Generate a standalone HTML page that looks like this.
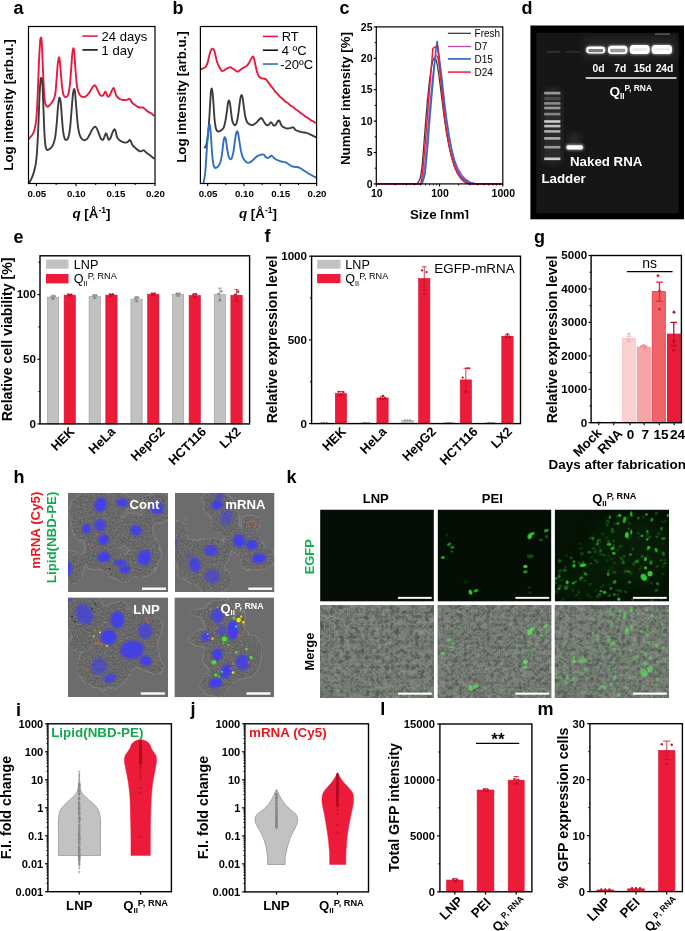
<!DOCTYPE html>
<html><head><meta charset="utf-8"><title>Figure</title>
<style>
html,body{margin:0;padding:0;background:#fff;}
svg{display:block;font-family:"Liberation Sans", Arial, sans-serif;}
</style></head><body>
<svg width="685" height="931" viewBox="0 0 685 931">
<rect x="0" y="0" width="685" height="931" fill="#fff"/>
<text x="13.60" y="14.20" font-size="18" font-weight="bold" text-anchor="start" fill="#000">a</text>
<clipPath id="ca"><rect x="28.5" y="26.5" width="126.5" height="157.0"/></clipPath>
<path d="M28.37,139.36C28.75,138.94 29.92,137.68 30.63,136.85C31.35,136.01 31.97,135.59 32.64,134.34C33.31,133.08 34.02,132.03 34.65,129.31C35.28,126.59 35.91,123.66 36.41,118.01C36.91,112.36 37.25,104.62 37.66,95.42C38.08,86.21 38.50,71.77 38.92,62.77C39.34,53.78 39.84,45.62 40.18,41.43C40.51,37.25 40.68,37.66 40.93,37.66C41.18,37.66 41.39,37.25 41.68,41.43C41.97,45.62 42.35,55.45 42.69,62.77C43.02,70.10 43.36,79.09 43.69,85.37C44.03,91.65 44.32,97.09 44.69,100.44C45.07,103.79 45.45,104.41 45.95,105.46C46.45,106.51 47.08,106.80 47.71,106.72C48.34,106.63 49.09,105.59 49.72,104.96C50.34,104.33 50.85,103.79 51.47,102.95C52.10,102.11 52.86,101.40 53.48,99.94C54.11,98.47 54.74,97.42 55.24,94.16C55.74,90.90 56.08,85.37 56.50,80.35C56.91,75.33 57.33,67.88 57.75,64.03C58.17,60.18 58.63,57.46 59.01,57.25C59.38,57.04 59.68,59.76 60.01,62.77C60.35,65.79 60.64,71.14 61.02,75.33C61.39,79.51 61.89,84.74 62.27,87.88C62.65,91.02 62.86,92.70 63.28,94.16C63.69,95.63 64.24,96.25 64.78,96.67C65.33,97.09 65.95,97.09 66.54,96.67C67.13,96.25 67.75,96.04 68.30,94.16C68.84,92.28 69.34,89.35 69.80,85.37C70.26,81.40 70.64,75.54 71.06,70.31C71.48,65.08 71.94,57.67 72.32,53.99C72.69,50.30 72.98,48.42 73.32,48.21C73.65,48.00 73.99,49.47 74.32,52.73C74.66,55.99 74.95,62.77 75.33,67.80C75.71,72.82 76.17,79.09 76.58,82.86C77.00,86.63 77.30,88.39 77.84,90.39C78.38,92.40 79.22,93.87 79.85,94.91C80.48,95.96 80.69,96.38 81.61,96.67C82.53,96.96 84.12,97.30 85.37,96.67C86.63,96.04 88.09,94.29 89.14,92.91C90.18,91.52 90.90,89.56 91.65,88.39C92.40,87.21 93.11,86.38 93.66,85.87C94.20,85.37 94.45,85.12 94.91,85.37C95.37,85.62 95.92,86.46 96.42,87.38C96.92,88.30 97.26,89.56 97.93,90.90C98.60,92.24 99.60,94.66 100.44,95.42C101.27,96.17 102.28,95.83 102.95,95.42C103.62,95.00 104.04,93.53 104.46,92.91C104.87,92.28 105.13,91.57 105.46,91.65C105.79,91.73 106.05,92.57 106.46,93.41C106.88,94.24 107.38,96.42 107.97,96.67C108.56,96.92 109.35,95.88 109.98,94.91C110.61,93.95 111.15,92.07 111.74,90.90C112.32,89.72 112.99,87.97 113.49,87.88C114.00,87.80 114.29,89.14 114.75,90.39C115.21,91.65 115.50,94.04 116.26,95.42C117.01,96.80 118.14,97.93 119.27,98.68C120.40,99.43 121.78,99.73 123.04,99.94C124.29,100.15 125.76,100.15 126.80,99.94C127.85,99.73 128.69,98.68 129.31,98.68C129.94,98.68 130.07,99.22 130.57,99.94C131.07,100.65 131.49,102.03 132.33,102.95C133.16,103.87 134.42,104.71 135.59,105.46C136.76,106.21 138.19,107.13 139.36,107.47C140.53,107.80 141.66,107.18 142.62,107.47C143.58,107.76 144.21,108.51 145.13,109.23C146.05,109.94 147.10,111.03 148.15,111.74C149.19,112.45 150.36,112.78 151.41,113.49C152.46,114.21 153.92,115.59 154.42,116.01" fill="none" stroke="#e8193c" stroke-width="1.9" clip-path="url(#ca)" stroke-linejoin="round"/>
<path d="M28.37,184.55C28.67,184.01 29.50,182.55 30.13,181.29C30.76,180.04 31.51,178.57 32.14,177.02C32.77,175.47 33.31,174.09 33.90,172.00C34.48,169.91 35.15,167.61 35.66,164.47C36.16,161.33 36.49,158.82 36.91,153.17C37.33,147.52 37.75,139.78 38.17,130.57C38.58,121.36 39.05,106.09 39.42,97.93C39.80,89.77 40.09,84.95 40.43,81.61C40.76,78.26 41.10,77.42 41.43,77.84C41.77,78.26 42.10,79.09 42.44,84.12C42.77,89.14 43.10,99.81 43.44,107.97C43.77,116.13 44.11,126.80 44.44,133.08C44.78,139.36 45.07,142.87 45.45,145.64C45.82,148.40 46.20,148.98 46.70,149.65C47.21,150.32 47.79,149.90 48.46,149.65C49.13,149.40 49.93,149.02 50.72,148.15C51.52,147.27 52.48,146.26 53.23,144.38C53.99,142.50 54.65,140.40 55.24,136.85C55.83,133.29 56.29,128.06 56.75,123.04C57.21,118.01 57.63,110.69 58.00,106.72C58.38,102.74 58.71,100.65 59.01,99.18C59.30,97.72 59.47,97.30 59.76,97.93C60.05,98.55 60.43,100.02 60.76,102.95C61.10,105.88 61.39,110.90 61.77,115.50C62.15,120.11 62.56,126.80 63.02,130.57C63.49,134.34 63.99,136.51 64.53,138.10C65.08,139.69 65.66,140.19 66.29,140.11C66.92,140.03 67.67,139.61 68.30,137.60C68.93,135.59 69.51,132.58 70.06,128.06C70.60,123.54 71.10,115.92 71.56,110.48C72.02,105.04 72.40,98.97 72.82,95.42C73.24,91.86 73.70,89.56 74.07,89.14C74.45,88.72 74.70,89.77 75.08,92.91C75.45,96.04 75.91,102.95 76.33,107.97C76.75,112.99 77.13,118.85 77.59,123.04C78.05,127.22 78.51,130.57 79.09,133.08C79.68,135.59 80.35,136.93 81.10,138.10C81.86,139.27 82.69,139.90 83.61,140.11C84.54,140.32 85.71,140.11 86.63,139.36C87.55,138.60 88.30,137.06 89.14,135.59C89.98,134.13 90.90,131.91 91.65,130.57C92.40,129.23 93.03,128.18 93.66,127.56C94.29,126.93 94.87,126.64 95.42,126.80C95.96,126.97 96.38,127.51 96.92,128.56C97.47,129.61 98.01,131.41 98.68,133.08C99.35,134.75 100.19,137.52 100.94,138.60C101.69,139.69 102.57,140.03 103.20,139.61C103.83,139.19 104.25,137.18 104.71,136.09C105.17,135.01 105.54,133.16 105.96,133.08C106.38,133.00 106.80,134.50 107.22,135.59C107.64,136.68 107.93,139.19 108.47,139.61C109.02,140.03 109.85,139.19 110.48,138.10C111.11,137.01 111.70,134.42 112.24,133.08C112.78,131.74 113.33,130.69 113.75,130.07C114.16,129.44 114.42,129.02 114.75,129.31C115.09,129.61 115.34,130.44 115.75,131.82C116.17,133.21 116.55,136.14 117.26,137.60C117.97,139.06 119.06,139.86 120.02,140.61C120.99,141.37 122.03,141.78 123.04,142.12C124.04,142.45 125.13,142.79 126.05,142.62C126.97,142.45 127.93,141.58 128.56,141.12C129.19,140.65 129.40,139.73 129.82,139.86C130.23,139.99 130.61,140.99 131.07,141.87C131.53,142.75 131.82,144.09 132.58,145.13C133.33,146.18 134.59,147.23 135.59,148.15C136.60,149.07 137.68,150.11 138.60,150.66C139.53,151.20 140.28,151.49 141.12,151.41C141.95,151.33 142.87,150.07 143.63,150.15C144.38,150.24 144.88,151.28 145.64,151.91C146.39,152.54 147.23,153.21 148.15,153.92C149.07,154.63 150.11,155.39 151.16,156.18C152.21,156.98 153.88,158.27 154.42,158.69" fill="none" stroke="#3c3c3c" stroke-width="1.9" clip-path="url(#ca)" stroke-linejoin="round"/>
<rect x="28.50" y="26.50" width="126.50" height="157.00" fill="none" stroke="#000" stroke-width="1.2"/>
<line x1="36.41" y1="183.50" x2="36.41" y2="185.90" stroke="#000" stroke-width="1.1"/>
<text x="36.81" y="197.00" font-size="9.7" font-weight="bold" text-anchor="middle" fill="#000">0.05</text>
<line x1="75.94" y1="183.50" x2="75.94" y2="185.90" stroke="#000" stroke-width="1.1"/>
<text x="76.34" y="197.00" font-size="9.7" font-weight="bold" text-anchor="middle" fill="#000">0.10</text>
<line x1="115.47" y1="183.50" x2="115.47" y2="185.90" stroke="#000" stroke-width="1.1"/>
<text x="115.87" y="197.00" font-size="9.7" font-weight="bold" text-anchor="middle" fill="#000">0.15</text>
<line x1="155.00" y1="183.50" x2="155.00" y2="185.90" stroke="#000" stroke-width="1.1"/>
<text x="155.40" y="197.00" font-size="9.7" font-weight="bold" text-anchor="middle" fill="#000">0.20</text>
<line x1="56.17" y1="183.50" x2="56.17" y2="185.00" stroke="#000" stroke-width="1.0"/>
<line x1="95.70" y1="183.50" x2="95.70" y2="185.00" stroke="#000" stroke-width="1.0"/>
<line x1="135.23" y1="183.50" x2="135.23" y2="185.00" stroke="#000" stroke-width="1.0"/>
<text x="91.50" y="218.30" font-size="13.3" font-weight="bold" text-anchor="middle" fill="#000"><tspan font-style="italic">q</tspan> [Å<tspan font-size="8.6" dy="-5.6">-1</tspan><tspan dy="5.6">]</tspan></text>
<text x="12.60" y="105.00" font-size="13.3" font-weight="bold" text-anchor="middle" fill="#000" transform="rotate(-90 12.60 105.00)">Log intensity [arb.u.]</text>
<line x1="82.40" y1="36.10" x2="97.70" y2="36.10" stroke="#e8193c" stroke-width="1.6"/>
<text x="101.60" y="40.90" font-size="13" font-weight="normal" text-anchor="start" fill="#000">24 days</text>
<line x1="82.40" y1="49.90" x2="97.70" y2="49.90" stroke="#111" stroke-width="1.6"/>
<text x="101.60" y="55.00" font-size="13" font-weight="normal" text-anchor="start" fill="#000">1 day</text>
<text x="172.50" y="14.20" font-size="18" font-weight="bold" text-anchor="start" fill="#000">b</text>
<clipPath id="cb"><rect x="200.4" y="26.5" width="116.20000000000002" height="157.0"/></clipPath>
<path d="M200.37,69.05C200.67,69.01 201.50,69.01 202.13,68.80C202.76,68.59 203.47,68.21 204.14,67.80C204.81,67.38 205.52,67.34 206.15,66.29C206.78,65.24 207.32,63.57 207.91,61.52C208.49,59.47 209.12,55.95 209.66,53.99C210.21,52.02 210.67,50.60 211.17,49.72C211.67,48.84 212.18,48.63 212.68,48.71C213.18,48.80 213.72,49.13 214.18,50.22C214.64,51.31 214.98,53.36 215.44,55.24C215.90,57.12 216.40,59.76 216.95,61.52C217.49,63.28 218.12,64.53 218.70,65.79C219.29,67.04 219.88,68.17 220.46,69.05C221.05,69.93 221.59,70.85 222.22,71.06C222.85,71.27 223.56,70.68 224.23,70.31C224.90,69.93 225.53,69.22 226.24,68.80C226.95,68.38 227.78,68.05 228.50,67.80C229.21,67.54 229.88,67.21 230.51,67.29C231.13,67.38 231.64,67.92 232.26,68.30C232.89,68.67 233.60,69.09 234.27,69.55C234.94,70.01 235.65,70.73 236.28,71.06C236.91,71.39 237.45,71.69 238.04,71.56C238.62,71.44 239.17,70.77 239.80,70.31C240.42,69.85 241.05,69.30 241.80,68.80C242.56,68.30 243.48,67.80 244.32,67.29C245.15,66.79 246.07,66.46 246.83,65.79C247.58,65.12 248.21,64.28 248.84,63.28C249.46,62.27 250.05,60.76 250.59,59.76C251.14,58.76 251.68,57.79 252.10,57.25C252.52,56.71 252.77,56.20 253.10,56.50C253.44,56.79 253.73,57.63 254.11,59.01C254.48,60.39 254.90,62.69 255.36,64.78C255.82,66.87 256.33,69.68 256.87,71.56C257.41,73.45 257.92,74.99 258.63,76.08C259.34,77.17 260.30,77.67 261.14,78.09C261.98,78.51 262.85,78.38 263.65,78.59C264.44,78.80 265.20,78.80 265.91,79.35C266.62,79.89 267.16,80.85 267.92,81.86C268.67,82.86 269.59,84.28 270.43,85.37C271.27,86.46 272.10,87.30 272.94,88.39C273.78,89.47 274.61,90.90 275.45,91.90C276.29,92.91 277.13,93.53 277.96,94.41C278.80,95.29 279.64,96.38 280.47,97.17C281.31,97.97 282.15,98.43 282.98,99.18C283.82,99.94 284.66,101.02 285.49,101.69C286.33,102.36 287.17,102.57 288.01,103.20C288.84,103.83 289.68,104.83 290.52,105.46C291.35,106.09 292.19,106.34 293.03,106.97C293.86,107.59 294.70,108.60 295.54,109.23C296.38,109.85 297.21,110.11 298.05,110.73C298.89,111.36 299.72,112.36 300.56,112.99C301.40,113.62 302.23,113.87 303.07,114.50C303.91,115.13 304.75,116.17 305.58,116.76C306.42,117.35 307.26,117.47 308.09,118.01C308.93,118.56 309.77,119.48 310.60,120.02C311.44,120.57 312.36,120.86 313.12,121.28C313.87,121.70 314.54,122.24 315.12,122.53C315.71,122.83 316.38,122.95 316.63,123.04" fill="none" stroke="#e8193c" stroke-width="1.9" clip-path="url(#cb)" stroke-linejoin="round"/>
<path d="M204.14,148.15C204.35,147.94 204.98,147.64 205.40,146.89C205.81,146.14 206.23,145.51 206.65,143.63C207.07,141.74 207.49,139.44 207.91,135.59C208.33,131.74 208.79,125.97 209.16,120.53C209.54,115.09 209.87,107.76 210.17,102.95C210.46,98.14 210.67,94.08 210.92,91.65C211.17,89.22 211.42,88.39 211.67,88.39C211.92,88.39 212.13,89.22 212.43,91.65C212.72,94.08 213.10,98.55 213.43,102.95C213.77,107.34 214.06,113.91 214.44,118.01C214.81,122.12 215.23,125.38 215.69,127.56C216.15,129.73 216.61,130.44 217.20,131.07C217.78,131.70 218.49,131.49 219.21,131.32C219.92,131.16 220.71,130.69 221.47,130.07C222.22,129.44 223.06,129.15 223.73,127.56C224.40,125.97 224.94,123.37 225.48,120.53C226.03,117.68 226.57,113.41 226.99,110.48C227.41,107.55 227.66,104.62 227.99,102.95C228.33,101.27 228.66,100.35 229.00,100.44C229.33,100.52 229.67,101.57 230.00,103.45C230.34,105.33 230.63,108.89 231.01,111.74C231.38,114.58 231.80,118.43 232.26,120.53C232.72,122.62 233.27,123.54 233.77,124.29C234.27,125.05 234.77,125.34 235.28,125.05C235.78,124.75 236.28,124.33 236.78,122.53C237.28,120.73 237.83,117.30 238.29,114.25C238.75,111.19 239.17,107.01 239.54,104.20C239.92,101.40 240.21,98.97 240.55,97.42C240.88,95.88 241.22,94.91 241.55,94.91C241.89,94.91 242.18,95.46 242.56,97.42C242.93,99.39 243.35,103.49 243.81,106.72C244.27,109.94 244.78,114.21 245.32,116.76C245.86,119.31 246.41,120.78 247.08,122.03C247.75,123.29 248.46,123.79 249.34,124.29C250.22,124.79 251.35,125.17 252.35,125.05C253.35,124.92 254.48,124.17 255.36,123.54C256.24,122.91 256.91,122.03 257.62,121.28C258.33,120.53 259.05,119.56 259.63,119.02C260.22,118.47 260.64,117.93 261.14,118.01C261.64,118.10 262.10,118.77 262.65,119.52C263.19,120.27 263.73,121.61 264.40,122.53C265.07,123.45 265.95,124.67 266.66,125.05C267.37,125.42 268.09,125.13 268.67,124.79C269.26,124.46 269.76,123.45 270.18,123.04C270.60,122.62 270.81,122.16 271.18,122.28C271.56,122.41 272.02,123.25 272.44,123.79C272.86,124.33 273.19,125.34 273.69,125.55C274.20,125.76 274.91,125.55 275.45,125.05C276.00,124.54 276.50,123.25 276.96,122.53C277.42,121.82 277.84,121.11 278.21,120.78C278.59,120.44 278.88,120.23 279.22,120.53C279.55,120.82 279.80,121.66 280.22,122.53C280.64,123.41 281.02,124.96 281.73,125.80C282.44,126.64 283.53,127.10 284.49,127.56C285.45,128.02 286.50,128.48 287.50,128.56C288.51,128.64 289.64,128.27 290.52,128.06C291.40,127.85 292.19,127.31 292.78,127.31C293.36,127.31 293.57,127.60 294.03,128.06C294.49,128.52 294.74,129.52 295.54,130.07C296.33,130.61 297.63,130.95 298.80,131.32C299.97,131.70 301.31,132.08 302.57,132.33C303.82,132.58 305.16,132.54 306.34,132.83C307.51,133.12 308.55,133.62 309.60,134.08C310.65,134.55 311.69,135.13 312.61,135.59C313.53,136.05 314.45,136.51 315.12,136.85C315.79,137.18 316.38,137.47 316.63,137.60" fill="none" stroke="#3c3c3c" stroke-width="1.9" clip-path="url(#cb)" stroke-linejoin="round"/>
<path d="M203.39,183.30C203.55,182.46 204.06,180.37 204.39,178.28C204.73,176.18 205.06,174.51 205.40,170.74C205.73,166.98 206.07,160.70 206.40,155.68C206.73,150.66 207.07,145.01 207.40,140.61C207.74,136.22 208.07,131.99 208.41,129.31C208.74,126.64 209.12,124.96 209.41,124.54C209.71,124.12 209.87,124.33 210.17,126.80C210.46,129.27 210.84,134.75 211.17,139.36C211.51,143.96 211.80,150.24 212.18,154.42C212.55,158.61 212.97,162.25 213.43,164.47C213.89,166.69 214.39,167.23 214.94,167.73C215.48,168.23 216.07,167.82 216.69,167.48C217.32,167.15 218.08,166.64 218.70,165.72C219.33,164.80 219.92,163.84 220.46,161.96C221.01,160.07 221.51,157.48 221.97,154.42C222.43,151.37 222.85,146.35 223.22,143.63C223.60,140.91 223.93,139.15 224.23,138.10C224.52,137.06 224.69,137.01 224.98,137.35C225.27,137.68 225.61,138.10 225.99,140.11C226.36,142.12 226.78,146.60 227.24,149.40C227.70,152.21 228.25,155.30 228.75,156.93C229.25,158.57 229.75,158.98 230.25,159.19C230.76,159.40 231.26,159.28 231.76,158.19C232.26,157.10 232.76,155.39 233.27,152.67C233.77,149.95 234.31,145.01 234.77,141.87C235.23,138.73 235.65,135.59 236.03,133.83C236.41,132.08 236.70,131.45 237.03,131.32C237.37,131.20 237.66,131.53 238.04,133.08C238.41,134.63 238.83,137.77 239.29,140.61C239.75,143.46 240.26,147.43 240.80,150.15C241.34,152.87 241.89,155.18 242.56,156.93C243.23,158.69 244.02,159.74 244.82,160.70C245.61,161.66 246.49,162.42 247.33,162.71C248.17,163.00 249.00,162.79 249.84,162.46C250.68,162.12 251.51,161.41 252.35,160.70C253.19,159.99 254.02,158.94 254.86,158.19C255.70,157.44 256.54,156.68 257.37,156.18C258.21,155.68 259.13,155.47 259.88,155.18C260.64,154.88 261.22,154.51 261.89,154.42C262.56,154.34 263.31,154.30 263.90,154.67C264.49,155.05 264.82,156.14 265.41,156.68C265.99,157.23 266.75,157.85 267.42,157.94C268.09,158.02 268.84,157.52 269.42,157.19C270.01,156.85 270.47,156.14 270.93,155.93C271.39,155.72 271.73,155.64 272.19,155.93C272.65,156.22 273.11,157.14 273.69,157.69C274.28,158.23 274.87,158.69 275.70,159.19C276.54,159.70 277.67,160.28 278.72,160.70C279.76,161.12 280.93,161.45 281.98,161.71C283.03,161.96 284.07,161.91 284.99,162.21C285.91,162.50 286.67,162.96 287.50,163.46C288.34,163.96 289.18,164.72 290.01,165.22C290.85,165.72 291.60,166.18 292.53,166.48C293.45,166.77 294.58,166.85 295.54,166.98C296.50,167.10 297.42,166.98 298.30,167.23C299.18,167.48 299.97,167.98 300.81,168.48C301.65,168.99 302.49,169.70 303.32,170.24C304.16,170.79 305.00,171.20 305.83,171.75C306.67,172.29 307.51,173.00 308.34,173.51C309.18,174.01 310.02,174.30 310.86,174.76C311.69,175.22 312.40,175.77 313.37,176.27C314.33,176.77 316.09,177.52 316.63,177.78" fill="none" stroke="#2f6ec2" stroke-width="1.9" clip-path="url(#cb)" stroke-linejoin="round"/>
<rect x="200.40" y="26.50" width="116.20" height="157.00" fill="none" stroke="#000" stroke-width="1.2"/>
<line x1="207.66" y1="183.50" x2="207.66" y2="185.90" stroke="#000" stroke-width="1.1"/>
<text x="208.06" y="197.00" font-size="9.7" font-weight="bold" text-anchor="middle" fill="#000">0.05</text>
<line x1="243.98" y1="183.50" x2="243.98" y2="185.90" stroke="#000" stroke-width="1.1"/>
<text x="244.38" y="197.00" font-size="9.7" font-weight="bold" text-anchor="middle" fill="#000">0.10</text>
<line x1="280.29" y1="183.50" x2="280.29" y2="185.90" stroke="#000" stroke-width="1.1"/>
<text x="280.69" y="197.00" font-size="9.7" font-weight="bold" text-anchor="middle" fill="#000">0.15</text>
<line x1="316.60" y1="183.50" x2="316.60" y2="185.90" stroke="#000" stroke-width="1.1"/>
<text x="317.00" y="197.00" font-size="9.7" font-weight="bold" text-anchor="middle" fill="#000">0.20</text>
<line x1="225.82" y1="183.50" x2="225.82" y2="185.00" stroke="#000" stroke-width="1.0"/>
<line x1="262.13" y1="183.50" x2="262.13" y2="185.00" stroke="#000" stroke-width="1.0"/>
<line x1="298.44" y1="183.50" x2="298.44" y2="185.00" stroke="#000" stroke-width="1.0"/>
<text x="258.00" y="218.30" font-size="13.3" font-weight="bold" text-anchor="middle" fill="#000"><tspan font-style="italic">q</tspan> [Å<tspan font-size="8.6" dy="-5.6">-1</tspan><tspan dy="5.6">]</tspan></text>
<text x="185.50" y="97.00" font-size="13.3" font-weight="bold" text-anchor="middle" fill="#000" transform="rotate(-90 185.50 97.00)">Log intensity [arb.u.]</text>
<line x1="262.90" y1="36.41" x2="277.96" y2="36.41" stroke="#e8193c" stroke-width="1.6"/>
<text x="281.73" y="41.11" font-size="13" font-weight="normal" text-anchor="start" fill="#000">RT</text>
<line x1="262.90" y1="50.22" x2="277.96" y2="50.22" stroke="#111" stroke-width="1.6"/>
<text x="281.73" y="54.92" font-size="13" font-weight="normal" text-anchor="start" fill="#000">4 ºC</text>
<line x1="262.90" y1="64.03" x2="277.96" y2="64.03" stroke="#2f6ec2" stroke-width="1.6"/>
<text x="280.23" y="68.73" font-size="13" font-weight="normal" text-anchor="start" fill="#000">-20ºC</text>
<text x="339.50" y="14.20" font-size="18" font-weight="bold" text-anchor="start" fill="#000">c</text>
<clipPath id="cc"><rect x="376.3" y="24.9" width="126.5" height="160.0"/></clipPath>
<polyline points="376.25,183.90 416.45,183.90 417.72,183.17 419.00,180.80 420.10,178.60 421.20,172.57 422.29,164.35 423.75,146.08 425.58,122.33 427.41,100.40 429.24,83.04 431.06,69.34 432.52,61.66 433.80,58.37 434.90,57.46 436.00,59.29 437.46,65.68 438.92,75.73 440.56,88.52 442.39,103.14 444.22,117.76 446.59,133.29 448.97,146.08 451.53,157.04 454.27,166.18 457.01,172.57 460.30,177.51 463.95,180.80 467.97,182.99 472.18,183.90 504.15,183.90" fill="none" stroke="#3f3f3f" stroke-width="1.3" stroke-linejoin="round" clip-path="url(#cc)"/>
<polyline points="376.25,183.90 420.47,183.90 421.93,182.62 423.21,177.14 424.67,166.18 426.50,144.25 428.69,118.67 430.70,96.74 432.52,78.47 433.99,65.68 435.27,58.37 436.36,55.63 437.46,56.54 438.74,62.94 440.20,72.99 442.03,87.61 444.22,105.88 446.59,122.33 449.34,138.77 452.08,151.56 454.82,160.70 458.11,168.92 461.76,174.95 465.78,179.34 470.35,182.26 475.83,183.72 480.40,183.90 504.15,183.90" fill="none" stroke="#b84ab4" stroke-width="1.3" stroke-linejoin="round" clip-path="url(#cc)"/>
<polyline points="376.25,183.90 421.01,183.90 422.29,182.99 423.75,178.60 425.03,173.49 426.31,160.70 427.77,144.25 429.60,120.50 431.43,98.57 433.26,78.47 434.72,62.03 436.00,49.24 437.09,41.56 438.01,47.41 439.10,56.54 440.56,68.42 442.21,82.13 444.22,100.40 446.59,119.58 448.97,135.12 451.53,148.82 454.27,160.70 457.01,168.92 460.30,175.32 463.95,179.34 467.97,181.89 472.18,183.36 475.83,183.90 504.15,183.90" fill="none" stroke="#2f6ec2" stroke-width="1.7" stroke-linejoin="round" clip-path="url(#cc)"/>
<polyline points="376.25,183.90 419.73,183.90 420.83,183.17 421.74,178.97 422.84,169.83 424.12,155.22 425.58,138.77 427.41,115.93 429.24,93.09 430.70,74.82 431.98,59.29 432.89,48.32 435.08,47.04 437.46,46.13 438.37,54.72 439.47,65.68 441.11,83.04 442.94,101.31 445.13,121.41 447.51,136.94 449.88,149.73 452.44,159.78 455.18,168.37 458.11,174.40 461.21,178.97 464.32,181.89 467.61,183.54 470.35,183.90 504.15,183.90" fill="none" stroke="#ee1b3a" stroke-width="1.5" stroke-linejoin="round" clip-path="url(#cc)"/>
<rect x="376.30" y="26.90" width="126.50" height="157.00" fill="none" stroke="#000" stroke-width="1.2"/>
<line x1="373.70" y1="183.90" x2="376.30" y2="183.90" stroke="#000" stroke-width="1.1"/>
<text x="372.50" y="187.60" font-size="10.5" font-weight="bold" text-anchor="end" fill="#000">0</text>
<line x1="373.70" y1="152.50" x2="376.30" y2="152.50" stroke="#000" stroke-width="1.1"/>
<text x="372.50" y="156.20" font-size="10.5" font-weight="bold" text-anchor="end" fill="#000">5</text>
<line x1="373.70" y1="121.10" x2="376.30" y2="121.10" stroke="#000" stroke-width="1.1"/>
<text x="372.50" y="124.80" font-size="10.5" font-weight="bold" text-anchor="end" fill="#000">10</text>
<line x1="373.70" y1="89.70" x2="376.30" y2="89.70" stroke="#000" stroke-width="1.1"/>
<text x="372.50" y="93.40" font-size="10.5" font-weight="bold" text-anchor="end" fill="#000">15</text>
<line x1="373.70" y1="58.30" x2="376.30" y2="58.30" stroke="#000" stroke-width="1.1"/>
<text x="372.50" y="62.00" font-size="10.5" font-weight="bold" text-anchor="end" fill="#000">20</text>
<line x1="373.70" y1="26.90" x2="376.30" y2="26.90" stroke="#000" stroke-width="1.1"/>
<text x="372.50" y="30.60" font-size="10.5" font-weight="bold" text-anchor="end" fill="#000">25</text>
<line x1="374.70" y1="168.20" x2="376.30" y2="168.20" stroke="#000" stroke-width="1.0"/>
<line x1="374.70" y1="136.80" x2="376.30" y2="136.80" stroke="#000" stroke-width="1.0"/>
<line x1="374.70" y1="105.40" x2="376.30" y2="105.40" stroke="#000" stroke-width="1.0"/>
<line x1="374.70" y1="74.00" x2="376.30" y2="74.00" stroke="#000" stroke-width="1.0"/>
<line x1="374.70" y1="42.60" x2="376.30" y2="42.60" stroke="#000" stroke-width="1.0"/>
<line x1="376.30" y1="183.90" x2="376.30" y2="186.50" stroke="#000" stroke-width="1.1"/>
<line x1="395.34" y1="183.90" x2="395.34" y2="185.40" stroke="#000" stroke-width="0.9"/>
<line x1="406.48" y1="183.90" x2="406.48" y2="185.40" stroke="#000" stroke-width="0.9"/>
<line x1="414.38" y1="183.90" x2="414.38" y2="185.40" stroke="#000" stroke-width="0.9"/>
<line x1="420.51" y1="183.90" x2="420.51" y2="185.40" stroke="#000" stroke-width="0.9"/>
<line x1="425.52" y1="183.90" x2="425.52" y2="185.40" stroke="#000" stroke-width="0.9"/>
<line x1="429.75" y1="183.90" x2="429.75" y2="185.40" stroke="#000" stroke-width="0.9"/>
<line x1="433.42" y1="183.90" x2="433.42" y2="185.40" stroke="#000" stroke-width="0.9"/>
<line x1="436.66" y1="183.90" x2="436.66" y2="185.40" stroke="#000" stroke-width="0.9"/>
<line x1="439.55" y1="183.90" x2="439.55" y2="186.50" stroke="#000" stroke-width="1.1"/>
<line x1="458.59" y1="183.90" x2="458.59" y2="185.40" stroke="#000" stroke-width="0.9"/>
<line x1="469.73" y1="183.90" x2="469.73" y2="185.40" stroke="#000" stroke-width="0.9"/>
<line x1="477.63" y1="183.90" x2="477.63" y2="185.40" stroke="#000" stroke-width="0.9"/>
<line x1="483.76" y1="183.90" x2="483.76" y2="185.40" stroke="#000" stroke-width="0.9"/>
<line x1="488.77" y1="183.90" x2="488.77" y2="185.40" stroke="#000" stroke-width="0.9"/>
<line x1="493.00" y1="183.90" x2="493.00" y2="185.40" stroke="#000" stroke-width="0.9"/>
<line x1="496.67" y1="183.90" x2="496.67" y2="185.40" stroke="#000" stroke-width="0.9"/>
<line x1="499.91" y1="183.90" x2="499.91" y2="185.40" stroke="#000" stroke-width="0.9"/>
<line x1="502.80" y1="183.90" x2="502.80" y2="186.50" stroke="#000" stroke-width="1.1"/>
<text x="376.80" y="197.30" font-size="10.5" font-weight="bold" text-anchor="middle" fill="#000">10</text>
<text x="440.05" y="197.30" font-size="10.5" font-weight="bold" text-anchor="middle" fill="#000">100</text>
<text x="503.30" y="197.30" font-size="10.5" font-weight="bold" text-anchor="middle" fill="#000">1000</text>
<text x="439.50" y="218.50" font-size="13.3" font-weight="bold" text-anchor="middle" fill="#000">Size [nm]</text>
<rect x="400.00" y="218.90" width="80.00" height="5.00" fill="#fff" stroke="none" stroke-width="1.0"/>
<text x="349.50" y="98.50" font-size="13.3" font-weight="bold" text-anchor="middle" fill="#000" transform="rotate(-90 349.50 98.50)">Number intensity [%]</text>
<line x1="447.87" y1="33.34" x2="470.90" y2="33.34" stroke="#3f3f3f" stroke-width="1.3"/>
<text x="474.55" y="36.94" font-size="10" font-weight="normal" text-anchor="start" fill="#000">Fresh</text>
<line x1="447.87" y1="46.50" x2="470.90" y2="46.50" stroke="#b84ab4" stroke-width="1.3"/>
<text x="474.55" y="50.10" font-size="10" font-weight="normal" text-anchor="start" fill="#000">D7</text>
<line x1="447.87" y1="58.92" x2="470.90" y2="58.92" stroke="#2f6ec2" stroke-width="1.7"/>
<text x="474.55" y="62.52" font-size="10" font-weight="normal" text-anchor="start" fill="#000">D15</text>
<line x1="447.87" y1="72.08" x2="470.90" y2="72.08" stroke="#ee1b3a" stroke-width="1.5"/>
<text x="474.55" y="75.68" font-size="10" font-weight="normal" text-anchor="start" fill="#000">D24</text>
<text x="521.50" y="14.20" font-size="18" font-weight="bold" text-anchor="start" fill="#000">d</text>
<defs><filter id="gb1" x="-20%" y="-50%" width="140%" height="200%"><feGaussianBlur stdDeviation="0.7"/></filter><filter id="gb2" x="-20%" y="-80%" width="140%" height="260%"><feGaussianBlur stdDeviation="1.2"/></filter><filter id="gb3" x="-20%" y="-20%" width="140%" height="140%"><feGaussianBlur stdDeviation="4"/></filter></defs>
<rect x="530.40" y="25.50" width="153.60" height="193.80" fill="#000" stroke="none" stroke-width="1.0"/>
<rect x="536.30" y="32.70" width="142.30" height="180.60" fill="#161616" stroke="none" stroke-width="1.0"/>
<rect x="544.50" y="90.00" width="16.00" height="72.00" fill="#303030" stroke="none" stroke-width="1.0" filter="url(#gb3)"/>
<rect x="545.50" y="92.00" width="14.00" height="68.00" fill="#2b2b2b" stroke="none" stroke-width="1.0" filter="url(#gb2)"/>
<rect x="544.20" y="91.80" width="16.20" height="2.60" fill="rgb(153,153,153)" stroke="none" stroke-width="1.0" filter="url(#gb1)"/>
<rect x="544.20" y="97.20" width="16.20" height="2.60" fill="rgb(76,76,76)" stroke="none" stroke-width="1.0" filter="url(#gb1)"/>
<rect x="544.20" y="102.10" width="16.20" height="2.60" fill="rgb(140,140,140)" stroke="none" stroke-width="1.0" filter="url(#gb1)"/>
<rect x="544.20" y="106.70" width="16.20" height="2.60" fill="rgb(153,153,153)" stroke="none" stroke-width="1.0" filter="url(#gb1)"/>
<rect x="544.20" y="112.80" width="16.20" height="2.60" fill="rgb(132,132,132)" stroke="none" stroke-width="1.0" filter="url(#gb1)"/>
<rect x="544.20" y="120.20" width="16.20" height="2.60" fill="rgb(204,204,204)" stroke="none" stroke-width="1.0" filter="url(#gb1)"/>
<rect x="544.20" y="124.80" width="16.20" height="2.60" fill="rgb(193,193,193)" stroke="none" stroke-width="1.0" filter="url(#gb1)"/>
<rect x="544.20" y="130.10" width="16.20" height="2.60" fill="rgb(173,173,173)" stroke="none" stroke-width="1.0" filter="url(#gb1)"/>
<rect x="544.20" y="137.10" width="16.20" height="2.60" fill="rgb(173,173,173)" stroke="none" stroke-width="1.0" filter="url(#gb1)"/>
<rect x="544.20" y="145.90" width="16.20" height="2.60" fill="rgb(153,153,153)" stroke="none" stroke-width="1.0" filter="url(#gb1)"/>
<rect x="544.20" y="157.50" width="16.20" height="2.60" fill="rgb(204,204,204)" stroke="none" stroke-width="1.0" filter="url(#gb1)"/>
<rect x="568.50" y="134.00" width="12.00" height="11.00" fill="#2e2e2e" stroke="none" stroke-width="1.0" filter="url(#gb3)"/>
<rect x="565.60" y="144.00" width="18.20" height="6.60" fill="#999" stroke="none" stroke-width="1.0" filter="url(#gb2)" rx="2.5" opacity="0.8"/>
<rect x="566.40" y="145.20" width="16.60" height="4.40" fill="#fff" stroke="none" stroke-width="1.0" rx="2" filter="url(#gb1)"/>
<rect x="546.00" y="50.80" width="14.00" height="2.00" fill="#2e2e2e" stroke="none" stroke-width="1.0" filter="url(#gb1)"/>
<rect x="566.00" y="50.80" width="15.00" height="2.00" fill="#2a2a2a" stroke="none" stroke-width="1.0" filter="url(#gb1)"/>
<rect x="584.00" y="38.00" width="92.00" height="20.00" fill="#262626" stroke="none" stroke-width="1.0" filter="url(#gb3)"/>
<rect x="585.50" y="45.90" width="20.40" height="8.10" fill="#aaa" stroke="none" stroke-width="1.0" rx="4" filter="url(#gb2)" opacity="0.75"/>
<rect x="586.10" y="46.50" width="19.20" height="6.90" fill="#fff" stroke="none" stroke-width="1.0" rx="3.6" filter="url(#gb1)"/>
<rect x="588.30" y="48.98" width="14.80" height="3.21" fill="#7d7d7d" stroke="none" stroke-width="1.0" rx="1.2" filter="url(#gb1)"/>
<rect x="607.40" y="45.10" width="20.70" height="9.60" fill="#aaa" stroke="none" stroke-width="1.0" rx="4" filter="url(#gb2)" opacity="0.75"/>
<rect x="608.00" y="45.70" width="19.50" height="8.40" fill="#fff" stroke="none" stroke-width="1.0" rx="3.6" filter="url(#gb1)"/>
<rect x="610.20" y="48.72" width="15.10" height="3.60" fill="#9a9a9a" stroke="none" stroke-width="1.0" rx="1.2" filter="url(#gb1)"/>
<rect x="629.20" y="44.40" width="21.10" height="10.30" fill="#aaa" stroke="none" stroke-width="1.0" rx="4" filter="url(#gb2)" opacity="0.75"/>
<rect x="629.80" y="45.00" width="19.90" height="9.10" fill="#fff" stroke="none" stroke-width="1.0" rx="3.6" filter="url(#gb1)"/>
<rect x="632.00" y="48.28" width="15.50" height="2.51" fill="#e8e8e8" stroke="none" stroke-width="1.0" rx="1.2" filter="url(#gb1)"/>
<rect x="651.10" y="44.40" width="21.50" height="10.30" fill="#aaa" stroke="none" stroke-width="1.0" rx="4" filter="url(#gb2)" opacity="0.75"/>
<rect x="651.70" y="45.00" width="20.30" height="9.10" fill="#fff" stroke="none" stroke-width="1.0" rx="3.6" filter="url(#gb1)"/>
<rect x="653.90" y="48.28" width="15.90" height="2.32" fill="#ededed" stroke="none" stroke-width="1.0" rx="1.2" filter="url(#gb1)"/>
<rect x="655.00" y="33.40" width="15.00" height="1.50" fill="#585858" stroke="none" stroke-width="1.0" filter="url(#gb1)"/>
<text x="598.60" y="71.90" font-size="10.3" font-weight="bold" text-anchor="middle" fill="#fff">0d</text>
<text x="620.30" y="71.90" font-size="10.3" font-weight="bold" text-anchor="middle" fill="#fff">7d</text>
<text x="642.50" y="71.90" font-size="10.3" font-weight="bold" text-anchor="middle" fill="#fff">15d</text>
<text x="664.50" y="71.90" font-size="10.3" font-weight="bold" text-anchor="middle" fill="#fff">24d</text>
<line x1="585.70" y1="77.90" x2="676.40" y2="77.90" stroke="#fff" stroke-width="1.5"/>
<text x="609.40" y="95.90" font-size="13.6" font-weight="bold" text-anchor="start" fill="#fff">Q<tspan font-size="8.16" dy="3.40">II</tspan><tspan font-size="8.43" dy="-8.57">P, RNA</tspan></text>
<text x="570.00" y="165.60" font-size="13.3" font-weight="bold" text-anchor="start" fill="#fff">Naked RNA</text>
<text x="541.40" y="183.20" font-size="13.3" font-weight="bold" text-anchor="start" fill="#fff">Ladder</text>
<text x="13.60" y="242.50" font-size="18" font-weight="bold" text-anchor="start" fill="#000">e</text>
<rect x="47.40" y="297.18" width="11.30" height="126.72" fill="#c1c1c1" stroke="#9a9a9a" stroke-width="0.6"/>
<line x1="53.05" y1="299.12" x2="53.05" y2="295.24" stroke="#8a8a8a" stroke-width="0.8"/>
<line x1="51.05" y1="299.12" x2="55.05" y2="299.12" stroke="#8a8a8a" stroke-width="0.8"/>
<line x1="51.05" y1="295.24" x2="55.05" y2="295.24" stroke="#8a8a8a" stroke-width="0.8"/>
<circle cx="51.55" cy="296.53" r="1.15" fill="#858585"/>
<circle cx="53.05" cy="298.73" r="1.15" fill="#858585"/>
<circle cx="54.65" cy="296.21" r="1.15" fill="#858585"/>
<rect x="64.10" y="295.11" width="11.30" height="128.79" fill="#ed1b3a" stroke="#d4142f" stroke-width="0.6"/>
<line x1="69.75" y1="295.76" x2="69.75" y2="294.46" stroke="#c01028" stroke-width="0.8"/>
<line x1="67.75" y1="295.76" x2="71.75" y2="295.76" stroke="#c01028" stroke-width="0.8"/>
<line x1="67.75" y1="294.46" x2="71.75" y2="294.46" stroke="#c01028" stroke-width="0.8"/>
<circle cx="68.25" cy="294.46" r="1.15" fill="#c01028"/>
<circle cx="69.75" cy="295.63" r="1.15" fill="#c01028"/>
<circle cx="71.35" cy="294.72" r="1.15" fill="#c01028"/>
<rect x="89.10" y="296.53" width="11.30" height="127.37" fill="#c1c1c1" stroke="#9a9a9a" stroke-width="0.6"/>
<line x1="94.75" y1="298.47" x2="94.75" y2="294.59" stroke="#8a8a8a" stroke-width="0.8"/>
<line x1="92.75" y1="298.47" x2="96.75" y2="298.47" stroke="#8a8a8a" stroke-width="0.8"/>
<line x1="92.75" y1="294.59" x2="96.75" y2="294.59" stroke="#8a8a8a" stroke-width="0.8"/>
<circle cx="93.25" cy="295.89" r="1.15" fill="#858585"/>
<circle cx="94.75" cy="298.08" r="1.15" fill="#858585"/>
<circle cx="96.35" cy="295.56" r="1.15" fill="#858585"/>
<rect x="105.80" y="295.11" width="11.30" height="128.79" fill="#ed1b3a" stroke="#d4142f" stroke-width="0.6"/>
<line x1="111.45" y1="296.14" x2="111.45" y2="294.08" stroke="#c01028" stroke-width="0.8"/>
<line x1="109.45" y1="296.14" x2="113.45" y2="296.14" stroke="#c01028" stroke-width="0.8"/>
<line x1="109.45" y1="294.08" x2="113.45" y2="294.08" stroke="#c01028" stroke-width="0.8"/>
<circle cx="109.95" cy="294.46" r="1.15" fill="#c01028"/>
<circle cx="111.45" cy="295.94" r="1.15" fill="#c01028"/>
<circle cx="113.05" cy="294.49" r="1.15" fill="#c01028"/>
<rect x="130.90" y="299.12" width="11.30" height="124.78" fill="#c1c1c1" stroke="#9a9a9a" stroke-width="0.6"/>
<line x1="136.55" y1="301.70" x2="136.55" y2="296.53" stroke="#8a8a8a" stroke-width="0.8"/>
<line x1="134.55" y1="301.70" x2="138.55" y2="301.70" stroke="#8a8a8a" stroke-width="0.8"/>
<line x1="134.55" y1="296.53" x2="138.55" y2="296.53" stroke="#8a8a8a" stroke-width="0.8"/>
<circle cx="135.05" cy="298.47" r="1.15" fill="#858585"/>
<circle cx="136.55" cy="301.19" r="1.15" fill="#858585"/>
<circle cx="138.15" cy="297.82" r="1.15" fill="#858585"/>
<rect x="147.60" y="294.20" width="11.30" height="129.70" fill="#ed1b3a" stroke="#d4142f" stroke-width="0.6"/>
<line x1="153.25" y1="295.24" x2="153.25" y2="293.17" stroke="#c01028" stroke-width="0.8"/>
<line x1="151.25" y1="295.24" x2="155.25" y2="295.24" stroke="#c01028" stroke-width="0.8"/>
<line x1="151.25" y1="293.17" x2="155.25" y2="293.17" stroke="#c01028" stroke-width="0.8"/>
<circle cx="151.75" cy="293.56" r="1.15" fill="#c01028"/>
<circle cx="153.25" cy="295.03" r="1.15" fill="#c01028"/>
<circle cx="154.85" cy="293.58" r="1.15" fill="#c01028"/>
<rect x="172.40" y="294.59" width="11.30" height="129.31" fill="#c1c1c1" stroke="#9a9a9a" stroke-width="0.6"/>
<line x1="178.05" y1="296.14" x2="178.05" y2="293.04" stroke="#8a8a8a" stroke-width="0.8"/>
<line x1="176.05" y1="296.14" x2="180.05" y2="296.14" stroke="#8a8a8a" stroke-width="0.8"/>
<line x1="176.05" y1="293.04" x2="180.05" y2="293.04" stroke="#8a8a8a" stroke-width="0.8"/>
<circle cx="176.55" cy="293.95" r="1.15" fill="#858585"/>
<circle cx="178.05" cy="295.83" r="1.15" fill="#858585"/>
<circle cx="179.65" cy="293.82" r="1.15" fill="#858585"/>
<rect x="189.10" y="295.50" width="11.30" height="128.40" fill="#ed1b3a" stroke="#d4142f" stroke-width="0.6"/>
<line x1="194.75" y1="297.44" x2="194.75" y2="293.56" stroke="#c01028" stroke-width="0.8"/>
<line x1="192.75" y1="297.44" x2="196.75" y2="297.44" stroke="#c01028" stroke-width="0.8"/>
<line x1="192.75" y1="293.56" x2="196.75" y2="293.56" stroke="#c01028" stroke-width="0.8"/>
<circle cx="193.25" cy="294.85" r="1.15" fill="#c01028"/>
<circle cx="194.75" cy="297.05" r="1.15" fill="#c01028"/>
<circle cx="196.35" cy="294.33" r="1.15" fill="#c01028"/>
<rect x="214.20" y="294.59" width="11.30" height="129.31" fill="#c1c1c1" stroke="#9a9a9a" stroke-width="0.6"/>
<line x1="219.85" y1="301.06" x2="219.85" y2="288.13" stroke="#8a8a8a" stroke-width="0.8"/>
<line x1="217.85" y1="301.06" x2="221.85" y2="301.06" stroke="#8a8a8a" stroke-width="0.8"/>
<line x1="217.85" y1="288.13" x2="221.85" y2="288.13" stroke="#8a8a8a" stroke-width="0.8"/>
<circle cx="218.35" cy="293.95" r="1.15" fill="#858585"/>
<circle cx="219.85" cy="299.76" r="1.15" fill="#858585"/>
<circle cx="221.45" cy="291.36" r="1.15" fill="#858585"/>
<rect x="230.90" y="295.24" width="11.30" height="128.66" fill="#ed1b3a" stroke="#d4142f" stroke-width="0.6"/>
<line x1="236.55" y1="301.06" x2="236.55" y2="289.42" stroke="#c01028" stroke-width="0.8"/>
<line x1="234.55" y1="301.06" x2="238.55" y2="301.06" stroke="#c01028" stroke-width="0.8"/>
<line x1="234.55" y1="289.42" x2="238.55" y2="289.42" stroke="#c01028" stroke-width="0.8"/>
<circle cx="235.05" cy="294.59" r="1.15" fill="#c01028"/>
<circle cx="236.55" cy="299.89" r="1.15" fill="#c01028"/>
<circle cx="238.15" cy="291.75" r="1.15" fill="#c01028"/>
<rect x="40.00" y="255.80" width="209.60" height="168.10" fill="none" stroke="#000" stroke-width="1.4"/>
<line x1="37.40" y1="423.90" x2="40.00" y2="423.90" stroke="#000" stroke-width="1.1"/>
<text x="36.00" y="427.80" font-size="11.6" font-weight="bold" text-anchor="end" fill="#000">0</text>
<line x1="37.40" y1="359.25" x2="40.00" y2="359.25" stroke="#000" stroke-width="1.1"/>
<text x="36.00" y="363.15" font-size="11.6" font-weight="bold" text-anchor="end" fill="#000">50</text>
<line x1="37.40" y1="294.59" x2="40.00" y2="294.59" stroke="#000" stroke-width="1.1"/>
<text x="36.00" y="298.49" font-size="11.6" font-weight="bold" text-anchor="end" fill="#000">100</text>
<line x1="38.40" y1="391.57" x2="40.00" y2="391.57" stroke="#000" stroke-width="1.0"/>
<line x1="38.40" y1="326.92" x2="40.00" y2="326.92" stroke="#000" stroke-width="1.0"/>
<line x1="38.40" y1="262.27" x2="40.00" y2="262.27" stroke="#000" stroke-width="1.0"/>
<text x="11.90" y="339.50" font-size="14.1" font-weight="bold" text-anchor="middle" fill="#000" transform="rotate(-90 11.90 339.50)">Relative cell viability [%]</text>
<rect x="46.00" y="259.60" width="22.50" height="9.10" fill="#c1c1c1" stroke="none" stroke-width="1.0"/>
<rect x="46.00" y="274.00" width="22.50" height="9.40" fill="#ed1b3a" stroke="none" stroke-width="1.0"/>
<text x="73.80" y="268.80" font-size="12.6" font-weight="normal" text-anchor="start" fill="#000">LNP</text>
<text x="73.80" y="283.40" font-size="12.6" font-weight="normal" text-anchor="start" fill="#000">Q<tspan font-size="7.31" dy="2.65">II</tspan><tspan font-size="9.07" dy="-7.18">P, RNA</tspan></text>
<text font-size="12.9" font-weight="bold" text-anchor="middle" fill="#000" transform="translate(62.55 438.71) rotate(-45)" x="0" y="4.64">HEK</text>
<text font-size="12.9" font-weight="bold" text-anchor="middle" fill="#000" transform="translate(101.70 440.24) rotate(-45)" x="0" y="4.64">HeLa</text>
<text font-size="12.9" font-weight="bold" text-anchor="middle" fill="#000" transform="translate(147.50 443.78) rotate(-45)" x="0" y="4.64">HepG2</text>
<text font-size="12.9" font-weight="bold" text-anchor="middle" fill="#000" transform="translate(187.15 445.81) rotate(-45)" x="0" y="4.64">HCT116</text>
<text font-size="12.9" font-weight="bold" text-anchor="middle" fill="#000" transform="translate(229.95 437.45) rotate(-45)" x="0" y="4.64">LX2</text>
<text x="264.60" y="241.90" font-size="18" font-weight="bold" text-anchor="start" fill="#000">f</text>
<rect x="318.60" y="423.10" width="11.30" height="0.50" fill="#c1c1c1" stroke="#9a9a9a" stroke-width="0.6"/>
<circle cx="321.75" cy="422.80" r="1.0" fill="#909090"/>
<circle cx="324.25" cy="422.80" r="1.0" fill="#909090"/>
<circle cx="326.75" cy="422.80" r="1.0" fill="#909090"/>
<rect x="335.30" y="393.47" width="11.30" height="30.13" fill="#ed1b3a" stroke="#d4142f" stroke-width="0.6"/>
<line x1="340.95" y1="395.48" x2="340.95" y2="391.46" stroke="#c01028" stroke-width="0.8"/>
<line x1="338.55" y1="395.48" x2="343.35" y2="395.48" stroke="#c01028" stroke-width="0.8"/>
<line x1="338.55" y1="391.46" x2="343.35" y2="391.46" stroke="#c01028" stroke-width="0.8"/>
<rect x="360.20" y="423.10" width="11.30" height="0.50" fill="#c1c1c1" stroke="#9a9a9a" stroke-width="0.6"/>
<circle cx="363.35" cy="422.80" r="1.0" fill="#909090"/>
<circle cx="365.85" cy="422.80" r="1.0" fill="#909090"/>
<circle cx="368.35" cy="422.80" r="1.0" fill="#909090"/>
<rect x="376.90" y="397.99" width="11.30" height="25.61" fill="#ed1b3a" stroke="#d4142f" stroke-width="0.6"/>
<line x1="382.55" y1="399.66" x2="382.55" y2="396.31" stroke="#c01028" stroke-width="0.8"/>
<line x1="380.15" y1="399.66" x2="384.95" y2="399.66" stroke="#c01028" stroke-width="0.8"/>
<line x1="380.15" y1="396.31" x2="384.95" y2="396.31" stroke="#c01028" stroke-width="0.8"/>
<rect x="401.90" y="420.59" width="11.30" height="3.01" fill="#c1c1c1" stroke="#9a9a9a" stroke-width="0.6"/>
<circle cx="405.05" cy="420.29" r="1.0" fill="#909090"/>
<circle cx="407.55" cy="420.29" r="1.0" fill="#909090"/>
<circle cx="410.05" cy="420.29" r="1.0" fill="#909090"/>
<rect x="418.60" y="278.46" width="11.30" height="145.14" fill="#ed1b3a" stroke="#d4142f" stroke-width="0.6"/>
<line x1="424.25" y1="290.18" x2="424.25" y2="266.75" stroke="#c01028" stroke-width="0.8"/>
<line x1="421.85" y1="290.18" x2="426.65" y2="290.18" stroke="#c01028" stroke-width="0.8"/>
<line x1="421.85" y1="266.75" x2="426.65" y2="266.75" stroke="#c01028" stroke-width="0.8"/>
<rect x="443.50" y="422.93" width="11.30" height="0.67" fill="#c1c1c1" stroke="#9a9a9a" stroke-width="0.6"/>
<circle cx="446.65" cy="422.63" r="1.0" fill="#909090"/>
<circle cx="449.15" cy="422.63" r="1.0" fill="#909090"/>
<circle cx="451.65" cy="422.63" r="1.0" fill="#909090"/>
<rect x="460.20" y="379.91" width="11.30" height="43.69" fill="#ed1b3a" stroke="#d4142f" stroke-width="0.6"/>
<line x1="465.85" y1="391.63" x2="465.85" y2="368.19" stroke="#c01028" stroke-width="0.8"/>
<line x1="463.45" y1="391.63" x2="468.25" y2="391.63" stroke="#c01028" stroke-width="0.8"/>
<line x1="463.45" y1="368.19" x2="468.25" y2="368.19" stroke="#c01028" stroke-width="0.8"/>
<rect x="485.10" y="422.93" width="11.30" height="0.67" fill="#c1c1c1" stroke="#9a9a9a" stroke-width="0.6"/>
<circle cx="488.25" cy="422.63" r="1.0" fill="#909090"/>
<circle cx="490.75" cy="422.63" r="1.0" fill="#909090"/>
<circle cx="493.25" cy="422.63" r="1.0" fill="#909090"/>
<rect x="501.80" y="336.22" width="11.30" height="87.38" fill="#ed1b3a" stroke="#d4142f" stroke-width="0.6"/>
<line x1="507.45" y1="337.56" x2="507.45" y2="334.88" stroke="#c01028" stroke-width="0.8"/>
<line x1="505.05" y1="337.56" x2="509.85" y2="337.56" stroke="#c01028" stroke-width="0.8"/>
<line x1="505.05" y1="334.88" x2="509.85" y2="334.88" stroke="#c01028" stroke-width="0.8"/>
<circle cx="338.45" cy="391.79" r="1.15" fill="#c01028"/>
<circle cx="340.95" cy="394.81" r="1.15" fill="#c01028"/>
<circle cx="343.45" cy="392.13" r="1.15" fill="#c01028"/>
<circle cx="380.55" cy="398.49" r="1.15" fill="#c01028"/>
<circle cx="383.05" cy="395.98" r="1.15" fill="#c01028"/>
<circle cx="385.05" cy="398.16" r="1.15" fill="#c01028"/>
<circle cx="422.05" cy="270.43" r="1.15" fill="#c01028"/>
<circle cx="426.45" cy="272.10" r="1.15" fill="#c01028"/>
<circle cx="424.25" cy="293.87" r="1.15" fill="#c01028"/>
<circle cx="462.65" cy="377.56" r="1.15" fill="#c01028"/>
<circle cx="467.35" cy="368.36" r="1.15" fill="#c01028"/>
<circle cx="469.35" cy="368.36" r="1.15" fill="#c01028"/>
<circle cx="465.85" cy="392.63" r="1.15" fill="#c01028"/>
<circle cx="505.45" cy="336.55" r="1.15" fill="#c01028"/>
<circle cx="507.45" cy="334.04" r="1.15" fill="#c01028"/>
<circle cx="509.95" cy="336.89" r="1.15" fill="#c01028"/>
<rect x="311.60" y="256.20" width="208.90" height="167.40" fill="none" stroke="#000" stroke-width="1.4"/>
<line x1="309.00" y1="423.60" x2="311.60" y2="423.60" stroke="#000" stroke-width="1.1"/>
<text x="307.00" y="427.50" font-size="11.6" font-weight="bold" text-anchor="end" fill="#000">0</text>
<line x1="309.00" y1="339.90" x2="311.60" y2="339.90" stroke="#000" stroke-width="1.1"/>
<text x="307.00" y="343.80" font-size="11.6" font-weight="bold" text-anchor="end" fill="#000">500</text>
<line x1="309.00" y1="256.20" x2="311.60" y2="256.20" stroke="#000" stroke-width="1.1"/>
<text x="307.00" y="260.10" font-size="11.6" font-weight="bold" text-anchor="end" fill="#000">1000</text>
<line x1="310.00" y1="381.75" x2="311.60" y2="381.75" stroke="#000" stroke-width="1.0"/>
<line x1="310.00" y1="298.05" x2="311.60" y2="298.05" stroke="#000" stroke-width="1.0"/>
<text x="277.00" y="339.50" font-size="14.1" font-weight="bold" text-anchor="middle" fill="#000" transform="rotate(-90 277.00 339.50)">Relative expression level</text>
<rect x="317.10" y="259.80" width="23.40" height="8.90" fill="#c1c1c1" stroke="none" stroke-width="1.0"/>
<rect x="317.10" y="274.00" width="23.40" height="9.20" fill="#ed1b3a" stroke="none" stroke-width="1.0"/>
<text x="345.30" y="268.80" font-size="12.6" font-weight="normal" text-anchor="start" fill="#000">LNP</text>
<text x="345.30" y="283.30" font-size="12.6" font-weight="normal" text-anchor="start" fill="#000">Q<tspan font-size="7.31" dy="2.65">II</tspan><tspan font-size="9.07" dy="-7.18">P, RNA</tspan></text>
<text x="434.30" y="273.20" font-size="13.4" font-weight="normal" text-anchor="start" fill="#000">EGFP-mRNA</text>
<text font-size="12.9" font-weight="bold" text-anchor="middle" fill="#000" transform="translate(333.85 438.71) rotate(-45)" x="0" y="4.64">HEK</text>
<text font-size="12.9" font-weight="bold" text-anchor="middle" fill="#000" transform="translate(373.00 440.24) rotate(-45)" x="0" y="4.64">HeLa</text>
<text font-size="12.9" font-weight="bold" text-anchor="middle" fill="#000" transform="translate(418.80 443.78) rotate(-45)" x="0" y="4.64">HepG2</text>
<text font-size="12.9" font-weight="bold" text-anchor="middle" fill="#000" transform="translate(458.45 445.81) rotate(-45)" x="0" y="4.64">HCT116</text>
<text font-size="12.9" font-weight="bold" text-anchor="middle" fill="#000" transform="translate(501.25 437.45) rotate(-45)" x="0" y="4.64">LX2</text>
<text x="534.00" y="242.50" font-size="18" font-weight="bold" text-anchor="start" fill="#000">g</text>
<rect x="622.30" y="338.43" width="13.00" height="84.27" fill="#fbd0d1" stroke="#f8c0c2" stroke-width="0.8"/>
<rect x="637.30" y="347.13" width="13.00" height="75.57" fill="#f9a4a5" stroke="#f79295" stroke-width="0.8"/>
<rect x="652.20" y="291.62" width="13.10" height="131.08" fill="#ee6468" stroke="#e8343f" stroke-width="0.8"/>
<rect x="667.40" y="334.08" width="12.90" height="88.62" fill="#ed1b3a" stroke="#c5102c" stroke-width="0.8"/>
<line x1="599.00" y1="421.50" x2="599.00" y2="422.30" stroke="#ccc" stroke-width="0.7"/>
<line x1="597.00" y1="421.50" x2="601.00" y2="421.50" stroke="#ccc" stroke-width="0.7"/>
<line x1="597.00" y1="422.30" x2="601.00" y2="422.30" stroke="#ccc" stroke-width="0.7"/>
<line x1="614.00" y1="421.50" x2="614.00" y2="422.30" stroke="#ccc" stroke-width="0.7"/>
<line x1="612.00" y1="421.50" x2="616.00" y2="421.50" stroke="#ccc" stroke-width="0.7"/>
<line x1="612.00" y1="422.30" x2="616.00" y2="422.30" stroke="#ccc" stroke-width="0.7"/>
<line x1="628.80" y1="339.80" x2="628.80" y2="336.20" stroke="#f7b9bb" stroke-width="1.0"/>
<line x1="626.20" y1="339.80" x2="631.40" y2="339.80" stroke="#f7b9bb" stroke-width="1.0"/>
<line x1="626.20" y1="336.20" x2="631.40" y2="336.20" stroke="#f7b9bb" stroke-width="1.0"/>
<path d="M628.80,332.20L630.60,334.00L628.80,335.80L627.00,334.00Z" fill="#f7b9bb"/>
<path d="M628.00,338.70L629.80,340.50L628.00,342.30L626.20,340.50Z" fill="#f7b9bb"/>
<path d="M629.50,339.70L631.30,341.50L629.50,343.30L627.70,341.50Z" fill="#f7b9bb"/>
<path d="M641.50,344.50L643.30,346.30L641.50,348.10L639.70,346.30Z" fill="#f48d90"/>
<path d="M643.60,343.40L645.40,345.20L643.60,347.00L641.80,345.20Z" fill="#f48d90"/>
<path d="M645.80,344.80L647.60,346.60L645.80,348.40L644.00,346.60Z" fill="#f48d90"/>
<path d="M644.50,346.20L646.30,348.00L644.50,349.80L642.70,348.00Z" fill="#f48d90"/>
<line x1="659.50" y1="301.20" x2="659.50" y2="282.20" stroke="#e8262f" stroke-width="1.3"/>
<line x1="656.20" y1="301.20" x2="662.80" y2="301.20" stroke="#e8262f" stroke-width="1.3"/>
<line x1="656.20" y1="282.20" x2="662.80" y2="282.20" stroke="#e8262f" stroke-width="1.3"/>
<path d="M658.00,273.80L659.90,275.70L658.00,277.60L656.10,275.70Z" fill="#e8262f"/>
<path d="M659.50,289.10L661.40,291.00L659.50,292.90L657.60,291.00Z" fill="#e8262f"/>
<path d="M659.50,307.30L661.40,309.20L659.50,311.10L657.60,309.20Z" fill="#e8262f"/>
<line x1="673.80" y1="345.70" x2="673.80" y2="322.40" stroke="#b50f26" stroke-width="1.3"/>
<line x1="670.50" y1="345.70" x2="677.10" y2="345.70" stroke="#b50f26" stroke-width="1.3"/>
<line x1="670.50" y1="322.40" x2="677.10" y2="322.40" stroke="#b50f26" stroke-width="1.3"/>
<path d="M674.00,310.30L675.90,312.20L674.00,314.10L672.10,312.20Z" fill="#b50f26"/>
<path d="M673.80,339.00L675.70,340.90L673.80,342.80L671.90,340.90Z" fill="#b50f26"/>
<path d="M673.80,348.50L675.70,350.40L673.80,352.30L671.90,350.40Z" fill="#b50f26"/>
<rect x="591.10" y="255.50" width="90.30" height="167.20" fill="none" stroke="#000" stroke-width="1.4"/>
<line x1="588.50" y1="422.70" x2="591.10" y2="422.70" stroke="#000" stroke-width="1.1"/>
<text x="587.10" y="426.60" font-size="11.6" font-weight="bold" text-anchor="end" fill="#000">0</text>
<line x1="588.50" y1="389.26" x2="591.10" y2="389.26" stroke="#000" stroke-width="1.1"/>
<text x="587.10" y="393.16" font-size="11.6" font-weight="bold" text-anchor="end" fill="#000">1000</text>
<line x1="588.50" y1="355.82" x2="591.10" y2="355.82" stroke="#000" stroke-width="1.1"/>
<text x="587.10" y="359.72" font-size="11.6" font-weight="bold" text-anchor="end" fill="#000">2000</text>
<line x1="588.50" y1="322.38" x2="591.10" y2="322.38" stroke="#000" stroke-width="1.1"/>
<text x="587.10" y="326.28" font-size="11.6" font-weight="bold" text-anchor="end" fill="#000">3000</text>
<line x1="588.50" y1="288.94" x2="591.10" y2="288.94" stroke="#000" stroke-width="1.1"/>
<text x="587.10" y="292.84" font-size="11.6" font-weight="bold" text-anchor="end" fill="#000">4000</text>
<line x1="588.50" y1="255.50" x2="591.10" y2="255.50" stroke="#000" stroke-width="1.1"/>
<text x="587.10" y="259.40" font-size="11.6" font-weight="bold" text-anchor="end" fill="#000">5000</text>
<line x1="589.50" y1="405.98" x2="591.10" y2="405.98" stroke="#000" stroke-width="1.0"/>
<line x1="589.50" y1="372.54" x2="591.10" y2="372.54" stroke="#000" stroke-width="1.0"/>
<line x1="589.50" y1="339.10" x2="591.10" y2="339.10" stroke="#000" stroke-width="1.0"/>
<line x1="589.50" y1="305.66" x2="591.10" y2="305.66" stroke="#000" stroke-width="1.0"/>
<line x1="589.50" y1="272.22" x2="591.10" y2="272.22" stroke="#000" stroke-width="1.0"/>
<line x1="598.80" y1="422.70" x2="598.80" y2="425.30" stroke="#000" stroke-width="1.1"/>
<line x1="613.70" y1="422.70" x2="613.70" y2="425.30" stroke="#000" stroke-width="1.1"/>
<line x1="630.00" y1="422.70" x2="630.00" y2="425.30" stroke="#000" stroke-width="1.1"/>
<line x1="644.10" y1="422.70" x2="644.10" y2="425.30" stroke="#000" stroke-width="1.1"/>
<line x1="659.30" y1="422.70" x2="659.30" y2="425.30" stroke="#000" stroke-width="1.1"/>
<line x1="674.20" y1="422.70" x2="674.20" y2="425.30" stroke="#000" stroke-width="1.1"/>
<text x="556.60" y="339.50" font-size="14.1" font-weight="bold" text-anchor="middle" fill="#000" transform="rotate(-90 556.60 339.50)">Relative expression level</text>
<text x="649.70" y="267.60" font-size="14" font-weight="normal" text-anchor="middle" fill="#000">ns</text>
<line x1="626.90" y1="271.70" x2="672.60" y2="271.70" stroke="#000" stroke-width="1.3"/>
<text x="630.50" y="438.60" font-size="13.6" font-weight="bold" text-anchor="middle" fill="#000">0</text>
<text x="645.30" y="438.60" font-size="13.6" font-weight="bold" text-anchor="middle" fill="#000">7</text>
<text x="661.00" y="438.60" font-size="13.6" font-weight="bold" text-anchor="middle" fill="#000">15</text>
<text x="677.60" y="438.60" font-size="13.6" font-weight="bold" text-anchor="middle" fill="#000">24</text>
<text font-size="13.2" font-weight="bold" text-anchor="middle" fill="#000" transform="translate(587.10 442.29) rotate(-45)" x="0" y="4.75">Mock</text>
<text font-size="13.2" font-weight="bold" text-anchor="middle" fill="#000" transform="translate(609.85 441.27) rotate(-45)" x="0" y="4.75">RNA</text>
<text x="548.60" y="468.80" font-size="13.45" font-weight="bold" text-anchor="start" fill="#000">Days after fabrication</text>
<text x="13.50" y="482.60" font-size="18" font-weight="bold" text-anchor="start" fill="#000">h</text>
<defs><filter id="nb" x="-30%" y="-30%" width="160%" height="160%"><feGaussianBlur stdDeviation="0.8"/></filter><filter id="sb" x="-50%" y="-50%" width="200%" height="200%"><feGaussianBlur stdDeviation="0.6"/></filter><filter id="cb2" x="-10%" y="-10%" width="120%" height="120%"><feGaussianBlur stdDeviation="2.2"/></filter><filter id="nz" x="0" y="0" width="100%" height="100%" color-interpolation-filters="sRGB"><feTurbulence type="fractalNoise" baseFrequency="0.7" numOctaves="2" seed="3"/><feColorMatrix type="matrix" values="0 0 0 0 0.22  0 0 0 0 0.22  0 0 0 0 0.22  2.2 0 0 0 -0.95"/></filter><filter id="nz2" x="0" y="0" width="100%" height="100%" color-interpolation-filters="sRGB"><feTurbulence type="fractalNoise" baseFrequency="0.6" numOctaves="2" seed="8"/><feColorMatrix type="matrix" values="0 0 0 0 0.62  0 0 0 0 0.62  0 0 0 0 0.62  0 2.2 0 0 -1.0"/></filter></defs>
<text x="39.80" y="491.60" font-size="13.3" font-weight="bold" text-anchor="end" fill="#ee151f" transform="rotate(-90 39.80 491.60)">mRNA (Cy5)</text>
<text x="55.80" y="491.60" font-size="13.3" font-weight="bold" text-anchor="end" fill="#12a84b" transform="rotate(-90 55.80 491.60)">Lipid(NBD-PE)</text>
<clipPath id="t1"><rect x="67.9" y="492.9" width="100.20" height="99.10"/></clipPath>
<g clip-path="url(#t1)">
<rect x="67.90" y="492.90" width="100.20" height="99.10" fill="#6c6c6c" stroke="none" stroke-width="1.0"/>
<filter id="cf0" filterUnits="userSpaceOnUse" x="67.9" y="492.9" width="100.20" height="99.10" color-interpolation-filters="sRGB"><feGaussianBlur in="SourceAlpha" stdDeviation="2.2" result="bl"/><feTurbulence type="fractalNoise" baseFrequency="0.06" numOctaves="2" seed="4" result="tn"/><feDisplacementMap in="bl" in2="tn" scale="12" xChannelSelector="R" yChannelSelector="G" result="dp"/><feColorMatrix in="dp" type="matrix" values="0 0 0 0 0.60  0 0 0 0 0.60  0 0 0 0 0.60  0 0 0 1 0" result="dpc"/><feComponentTransfer in="dpc" result="vein"><feFuncA type="table" tableValues="0 0 0 0 0 0 0 0 0.35 0.9 1 0.9 0.35 0 0 0 0 0 0 0 0"/></feComponentTransfer><feComponentTransfer in="dpc" result="mask"><feFuncA type="table" tableValues="0 0 0 0 0 0 0 0 0 0 0.5 1 1 1 1 1 1 1 1 1 1"/></feComponentTransfer><feTurbulence type="fractalNoise" baseFrequency="0.75" numOctaves="2" seed="11" result="hi"/><feColorMatrix in="hi" type="matrix" values="0 0 0 0 0.18  0 0 0 0 0.18  0 0 0 0 0.18  2.6 0 0 0 -1.12" result="sp"/><feComposite in="sp" in2="mask" operator="in" result="spIn"/><feTurbulence type="fractalNoise" baseFrequency="0.5" numOctaves="1" seed="7" result="hi2"/><feColorMatrix in="hi2" type="matrix" values="0 0 0 0 0.62  0 0 0 0 0.62  0 0 0 0 0.62  0 2.4 0 0 -1.05" result="sp2"/><feComposite in="sp2" in2="mask" operator="in" result="sp2In"/><feMerge><feMergeNode in="sp2In"/><feMergeNode in="spIn"/><feMergeNode in="vein"/></feMerge></filter>
<g filter="url(#cf0)" opacity="0.42">
<ellipse cx="95.53" cy="515.80" rx="26.01" ry="30.18" fill="#000" transform="rotate(0 95.53 515.80)"/>
<ellipse cx="116.03" cy="503.19" rx="18.73" ry="11.45" fill="#000" transform="rotate(0 116.03 503.19)"/>
<ellipse cx="157.02" cy="507.92" rx="14.57" ry="16.65" fill="#000" transform="rotate(0 157.02 507.92)"/>
<ellipse cx="136.53" cy="531.57" rx="17.69" ry="17.69" fill="#000" transform="rotate(0 136.53 531.57)"/>
<ellipse cx="103.42" cy="541.03" rx="21.85" ry="15.61" fill="#000" transform="rotate(0 103.42 541.03)"/>
<ellipse cx="103.42" cy="558.37" rx="21.85" ry="13.53" fill="#000" transform="rotate(0 103.42 558.37)"/>
<ellipse cx="144.41" cy="558.37" rx="15.61" ry="19.77" fill="#000" transform="rotate(15 144.41 558.37)"/>
<ellipse cx="122.34" cy="568.62" rx="20.81" ry="11.45" fill="#000" transform="rotate(0 122.34 568.62)"/>
<ellipse cx="71.88" cy="566.26" rx="11.45" ry="17.69" fill="#000" transform="rotate(0 71.88 566.26)"/>
<ellipse cx="87.65" cy="528.42" rx="13.53" ry="15.61" fill="#000" transform="rotate(0 87.65 528.42)"/>
</g>
<ellipse cx="100.58" cy="504.77" rx="5.99" ry="7.57" fill="#3f3cf0" opacity="0.95" filter="url(#nb)" transform="rotate(20 100.58 504.77)"/>
<ellipse cx="122.34" cy="502.40" rx="5.99" ry="4.26" fill="#3f3cf0" opacity="0.9" filter="url(#nb)" transform="rotate(10 122.34 502.40)"/>
<ellipse cx="157.02" cy="507.92" rx="6.62" ry="6.31" fill="#3f3cf0" opacity="0.9" filter="url(#nb)" transform="rotate(0 157.02 507.92)"/>
<ellipse cx="86.55" cy="528.73" rx="4.26" ry="5.05" fill="#3f3cf0" opacity="0.95" filter="url(#nb)" transform="rotate(0 86.55 528.73)"/>
<ellipse cx="99.95" cy="525.26" rx="5.99" ry="6.31" fill="#3f3cf0" opacity="0.8" filter="url(#nb)" transform="rotate(0 99.95 525.26)"/>
<ellipse cx="136.05" cy="530.31" rx="5.99" ry="5.52" fill="#3f3cf0" opacity="0.85" filter="url(#nb)" transform="rotate(0 136.05 530.31)"/>
<ellipse cx="103.42" cy="539.45" rx="5.05" ry="5.20" fill="#3f3cf0" opacity="0.95" filter="url(#nb)" transform="rotate(0 103.42 539.45)"/>
<ellipse cx="103.73" cy="557.11" rx="6.62" ry="5.05" fill="#3f3cf0" opacity="0.95" filter="url(#nb)" transform="rotate(-10 103.73 557.11)"/>
<ellipse cx="144.41" cy="557.58" rx="6.62" ry="7.88" fill="#3f3cf0" opacity="0.9" filter="url(#nb)" transform="rotate(15 144.41 557.58)"/>
<ellipse cx="120.44" cy="562.79" rx="7.09" ry="2.84" fill="#3f3cf0" opacity="0.95" filter="url(#nb)" transform="rotate(0 120.44 562.79)"/>
<ellipse cx="124.70" cy="569.41" rx="5.52" ry="3.94" fill="#3f3cf0" opacity="0.95" filter="url(#nb)" transform="rotate(0 124.70 569.41)"/>
<ellipse cx="68.41" cy="568.62" rx="3.15" ry="7.09" fill="#3f3cf0" opacity="0.95" filter="url(#nb)" transform="rotate(0 68.41 568.62)"/>
<circle cx="105.78" cy="568.78" r="0.79" fill="#222" filter="url(#sb)"/>
<circle cx="109.72" cy="568.78" r="0.79" fill="#222" filter="url(#sb)"/>
<circle cx="133.37" cy="508.71" r="1.26" fill="#e0603a" opacity="0.8" filter="url(#sb)"/>
<circle cx="96.32" cy="533.93" r="1.10" fill="#e0603a" opacity="0.8" filter="url(#sb)"/>
<circle cx="92.38" cy="544.97" r="0.95" fill="#e0603a" opacity="0.8" filter="url(#sb)"/>
<circle cx="105.31" cy="568.62" r="0.79" fill="#e0603a" opacity="0.8" filter="url(#sb)"/>
</g>
<rect x="142.04" y="587.54" width="23.96" height="2.36" fill="#fff" stroke="none" stroke-width="1.0"/>
<text x="129.43" y="509.18" font-size="13.2" font-weight="bold" text-anchor="start" fill="#fff">Cont</text>
<clipPath id="t2"><rect x="175.0" y="492.9" width="99.50" height="99.10"/></clipPath>
<g clip-path="url(#t2)">
<rect x="175.00" y="492.90" width="99.50" height="99.10" fill="#6c6c6c" stroke="none" stroke-width="1.0"/>
<filter id="cf1" filterUnits="userSpaceOnUse" x="175.0" y="492.9" width="99.50" height="99.10" color-interpolation-filters="sRGB"><feGaussianBlur in="SourceAlpha" stdDeviation="2.2" result="bl"/><feTurbulence type="fractalNoise" baseFrequency="0.06" numOctaves="2" seed="9" result="tn"/><feDisplacementMap in="bl" in2="tn" scale="12" xChannelSelector="R" yChannelSelector="G" result="dp"/><feColorMatrix in="dp" type="matrix" values="0 0 0 0 0.60  0 0 0 0 0.60  0 0 0 0 0.60  0 0 0 1 0" result="dpc"/><feComponentTransfer in="dpc" result="vein"><feFuncA type="table" tableValues="0 0 0 0 0 0 0 0 0.35 0.9 1 0.9 0.35 0 0 0 0 0 0 0 0"/></feComponentTransfer><feComponentTransfer in="dpc" result="mask"><feFuncA type="table" tableValues="0 0 0 0 0 0 0 0 0 0 0.5 1 1 1 1 1 1 1 1 1 1"/></feComponentTransfer><feTurbulence type="fractalNoise" baseFrequency="0.75" numOctaves="2" seed="16" result="hi"/><feColorMatrix in="hi" type="matrix" values="0 0 0 0 0.18  0 0 0 0 0.18  0 0 0 0 0.18  2.6 0 0 0 -1.12" result="sp"/><feComposite in="sp" in2="mask" operator="in" result="spIn"/><feTurbulence type="fractalNoise" baseFrequency="0.5" numOctaves="1" seed="12" result="hi2"/><feColorMatrix in="hi2" type="matrix" values="0 0 0 0 0.62  0 0 0 0 0.62  0 0 0 0 0.62  0 2.4 0 0 -1.05" result="sp2"/><feComposite in="sp2" in2="mask" operator="in" result="sp2In"/><feMerge><feMergeNode in="sp2In"/><feMergeNode in="spIn"/><feMergeNode in="vein"/></feMerge></filter>
<g filter="url(#cf1)" opacity="0.42">
<ellipse cx="217.30" cy="502.40" rx="15.61" ry="13.53" fill="#000" transform="rotate(0 217.30 502.40)"/>
<ellipse cx="225.97" cy="518.96" rx="13.53" ry="17.69" fill="#000" transform="rotate(10 225.97 518.96)"/>
<ellipse cx="245.68" cy="544.18" rx="21.85" ry="14.57" fill="#000" transform="rotate(30 245.68 544.18)"/>
<ellipse cx="259.08" cy="558.37" rx="17.69" ry="12.90" fill="#000" transform="rotate(-10 259.08 558.37)"/>
<ellipse cx="209.42" cy="552.07" rx="19.77" ry="13.53" fill="#000" transform="rotate(0 209.42 552.07)"/>
<ellipse cx="193.65" cy="563.10" rx="17.69" ry="21.85" fill="#000" transform="rotate(-10 193.65 563.10)"/>
<ellipse cx="212.57" cy="577.29" rx="17.69" ry="15.61" fill="#000" transform="rotate(0 212.57 577.29)"/>
<ellipse cx="251.20" cy="523.69" rx="8.74" ry="8.74" fill="#000" transform="rotate(0 251.20 523.69)"/>
<ellipse cx="177.88" cy="541.03" rx="9.37" ry="19.77" fill="#000" transform="rotate(0 177.88 541.03)"/>
</g>
<ellipse cx="219.66" cy="496.09" rx="4.73" ry="3.47" fill="#3f3cf0" opacity="0.6" filter="url(#nb)" transform="rotate(0 219.66 496.09)"/>
<ellipse cx="216.98" cy="504.77" rx="5.99" ry="4.73" fill="#3f3cf0" opacity="0.95" filter="url(#nb)" transform="rotate(-15 216.98 504.77)"/>
<ellipse cx="226.44" cy="517.38" rx="6.31" ry="7.88" fill="#3f3cf0" opacity="0.5" filter="url(#nb)" transform="rotate(10 226.44 517.38)"/>
<ellipse cx="238.90" cy="540.71" rx="5.99" ry="6.62" fill="#3f3cf0" opacity="0.95" filter="url(#nb)" transform="rotate(-20 238.90 540.71)"/>
<ellipse cx="251.67" cy="544.97" rx="5.99" ry="5.05" fill="#3f3cf0" opacity="0.95" filter="url(#nb)" transform="rotate(0 251.67 544.97)"/>
<ellipse cx="259.08" cy="558.37" rx="7.09" ry="5.05" fill="#3f3cf0" opacity="0.95" filter="url(#nb)" transform="rotate(-10 259.08 558.37)"/>
<ellipse cx="210.99" cy="550.49" rx="6.62" ry="5.52" fill="#3f3cf0" opacity="0.8" filter="url(#nb)" transform="rotate(0 210.99 550.49)"/>
<ellipse cx="194.75" cy="564.68" rx="5.52" ry="7.57" fill="#3f3cf0" opacity="0.85" filter="url(#nb)" transform="rotate(-10 194.75 564.68)"/>
<ellipse cx="212.25" cy="576.50" rx="7.57" ry="7.09" fill="#3f3cf0" opacity="0.6" filter="url(#nb)" transform="rotate(0 212.25 576.50)"/>
<ellipse cx="175.05" cy="542.61" rx="1.42" ry="3.15" fill="#3f3cf0" opacity="0.95" filter="url(#nb)" transform="rotate(0 175.05 542.61)"/>
<ellipse cx="188.13" cy="555.22" rx="1.58" ry="1.58" fill="#3f3cf0" opacity="0.8" filter="url(#nb)" transform="rotate(0 188.13 555.22)"/>
<circle cx="248.04" cy="522.90" r="1.10" fill="#e0603a" opacity="0.8" filter="url(#sb)"/>
<circle cx="250.41" cy="520.53" r="1.10" fill="#e0603a" opacity="0.8" filter="url(#sb)"/>
<circle cx="253.56" cy="521.32" r="1.10" fill="#e0603a" opacity="0.8" filter="url(#sb)"/>
<circle cx="255.93" cy="524.47" r="1.10" fill="#e0603a" opacity="0.8" filter="url(#sb)"/>
<circle cx="248.83" cy="526.05" r="0.95" fill="#e0603a" opacity="0.8" filter="url(#sb)"/>
<circle cx="255.14" cy="526.84" r="0.95" fill="#e0603a" opacity="0.8" filter="url(#sb)"/>
<circle cx="184.98" cy="517.38" r="0.95" fill="#e0603a" opacity="0.8" filter="url(#sb)"/>
<circle cx="186.55" cy="519.74" r="0.79" fill="#e0603a" opacity="0.8" filter="url(#sb)"/>
<circle cx="246.47" cy="552.85" r="0.95" fill="#e0603a" opacity="0.8" filter="url(#sb)"/>
<circle cx="260.66" cy="566.26" r="0.63" fill="#e0603a" opacity="0.8" filter="url(#sb)"/>
</g>
<rect x="248.36" y="587.54" width="23.81" height="2.36" fill="#fff" stroke="none" stroke-width="1.0"/>
<text x="225.18" y="508.71" font-size="13.2" font-weight="bold" text-anchor="start" fill="#fff">mRNA</text>
<clipPath id="t3"><rect x="67.9" y="597.4" width="100.20" height="99.60"/></clipPath>
<g clip-path="url(#t3)">
<rect x="67.90" y="597.40" width="100.20" height="99.60" fill="#6c6c6c" stroke="none" stroke-width="1.0"/>
<filter id="cf2" filterUnits="userSpaceOnUse" x="67.9" y="597.4" width="100.20" height="99.60" color-interpolation-filters="sRGB"><feGaussianBlur in="SourceAlpha" stdDeviation="2.2" result="bl"/><feTurbulence type="fractalNoise" baseFrequency="0.06" numOctaves="2" seed="15" result="tn"/><feDisplacementMap in="bl" in2="tn" scale="12" xChannelSelector="R" yChannelSelector="G" result="dp"/><feColorMatrix in="dp" type="matrix" values="0 0 0 0 0.60  0 0 0 0 0.60  0 0 0 0 0.60  0 0 0 1 0" result="dpc"/><feComponentTransfer in="dpc" result="vein"><feFuncA type="table" tableValues="0 0 0 0 0 0 0 0 0.35 0.9 1 0.9 0.35 0 0 0 0 0 0 0 0"/></feComponentTransfer><feComponentTransfer in="dpc" result="mask"><feFuncA type="table" tableValues="0 0 0 0 0 0 0 0 0 0 0.5 1 1 1 1 1 1 1 1 1 1"/></feComponentTransfer><feTurbulence type="fractalNoise" baseFrequency="0.75" numOctaves="2" seed="22" result="hi"/><feColorMatrix in="hi" type="matrix" values="0 0 0 0 0.18  0 0 0 0 0.18  0 0 0 0 0.18  2.6 0 0 0 -1.12" result="sp"/><feComposite in="sp" in2="mask" operator="in" result="spIn"/><feTurbulence type="fractalNoise" baseFrequency="0.5" numOctaves="1" seed="18" result="hi2"/><feColorMatrix in="hi2" type="matrix" values="0 0 0 0 0.62  0 0 0 0 0.62  0 0 0 0 0.62  0 2.4 0 0 -1.05" result="sp2"/><feComposite in="sp2" in2="mask" operator="in" result="sp2In"/><feMerge><feMergeNode in="sp2In"/><feMergeNode in="spIn"/><feMergeNode in="vein"/></feMerge></filter>
<g filter="url(#cf2)" opacity="0.42">
<ellipse cx="84.50" cy="615.07" rx="21.85" ry="23.93" fill="#000" transform="rotate(-25 84.50 615.07)"/>
<ellipse cx="117.61" cy="619.80" rx="15.61" ry="17.69" fill="#000" transform="rotate(0 117.61 619.80)"/>
<ellipse cx="145.20" cy="629.26" rx="15.61" ry="19.77" fill="#000" transform="rotate(0 145.20 629.26)"/>
<ellipse cx="108.15" cy="638.72" rx="21.85" ry="15.61" fill="#000" transform="rotate(0 108.15 638.72)"/>
<ellipse cx="133.37" cy="651.34" rx="26.01" ry="17.69" fill="#000" transform="rotate(-10 133.37 651.34)"/>
<ellipse cx="98.69" cy="667.10" rx="23.93" ry="17.69" fill="#000" transform="rotate(0 98.69 667.10)"/>
<ellipse cx="111.30" cy="678.93" rx="17.69" ry="9.37" fill="#000" transform="rotate(-25 111.30 678.93)"/>
<ellipse cx="150.72" cy="662.37" rx="13.53" ry="11.45" fill="#000" transform="rotate(0 150.72 662.37)"/>
<ellipse cx="79.77" cy="640.30" rx="11.45" ry="11.45" fill="#000" transform="rotate(0 79.77 640.30)"/>
</g>
<ellipse cx="84.50" cy="614.28" rx="8.20" ry="11.04" fill="#3f3cf0" opacity="0.7" filter="url(#nb)" transform="rotate(-25 84.50 614.28)"/>
<ellipse cx="117.29" cy="619.80" rx="7.09" ry="8.67" fill="#3f3cf0" opacity="0.9" filter="url(#nb)" transform="rotate(-5 117.29 619.80)"/>
<ellipse cx="145.20" cy="630.84" rx="7.09" ry="7.88" fill="#3f3cf0" opacity="0.7" filter="url(#nb)" transform="rotate(0 145.20 630.84)"/>
<ellipse cx="108.62" cy="637.15" rx="7.88" ry="7.57" fill="#3f3cf0" opacity="0.95" filter="url(#nb)" transform="rotate(0 108.62 637.15)"/>
<ellipse cx="132.11" cy="649.76" rx="11.82" ry="9.14" fill="#3f3cf0" opacity="0.9" filter="url(#nb)" transform="rotate(-10 132.11 649.76)"/>
<ellipse cx="145.67" cy="660.80" rx="5.99" ry="5.05" fill="#3f3cf0" opacity="0.95" filter="url(#nb)" transform="rotate(15 145.67 660.80)"/>
<ellipse cx="99.00" cy="666.31" rx="8.20" ry="8.67" fill="#3f3cf0" opacity="0.55" filter="url(#nb)" transform="rotate(0 99.00 666.31)"/>
<ellipse cx="109.72" cy="678.14" rx="6.62" ry="4.26" fill="#3f3cf0" opacity="0.8" filter="url(#nb)" transform="rotate(-25 109.72 678.14)"/>
<ellipse cx="69.99" cy="599.62" rx="2.36" ry="1.89" fill="#3f3cf0" opacity="0.7" filter="url(#nb)" transform="rotate(0 69.99 599.62)"/>
<circle cx="71.88" cy="616.65" r="0.95" fill="#222" filter="url(#sb)"/>
<circle cx="75.04" cy="621.38" r="0.79" fill="#222" filter="url(#sb)"/>
<circle cx="95.53" cy="604.04" r="0.79" fill="#222" filter="url(#sb)"/>
<circle cx="92.38" cy="608.77" r="0.79" fill="#222" filter="url(#sb)"/>
<circle cx="95.53" cy="643.45" r="1.42" fill="#e0603a" opacity="0.8" filter="url(#sb)"/>
<circle cx="98.69" cy="642.66" r="1.26" fill="#e0603a" opacity="0.8" filter="url(#sb)"/>
<circle cx="101.84" cy="644.24" r="1.10" fill="#e0603a" opacity="0.8" filter="url(#sb)"/>
<circle cx="145.99" cy="618.23" r="1.10" fill="#e0603a" opacity="0.8" filter="url(#sb)"/>
<circle cx="147.56" cy="622.17" r="0.95" fill="#e0603a" opacity="0.8" filter="url(#sb)"/>
<circle cx="87.65" cy="670.26" r="0.95" fill="#e0603a" opacity="0.8" filter="url(#sb)"/>
<circle cx="90.80" cy="674.99" r="0.95" fill="#e0603a" opacity="0.8" filter="url(#sb)"/>
<circle cx="97.90" cy="626.90" r="0.79" fill="#e0603a" opacity="0.8" filter="url(#sb)"/>
<circle cx="105.78" cy="622.17" r="0.79" fill="#e0603a" opacity="0.8" filter="url(#sb)"/>
<circle cx="157.02" cy="660.80" r="0.79" fill="#e0603a" opacity="0.8" filter="url(#sb)"/>
<circle cx="84.50" cy="667.10" r="0.79" fill="#e0603a" opacity="0.8" filter="url(#sb)"/>
<circle cx="103.42" cy="682.08" r="0.79" fill="#e0603a" opacity="0.8" filter="url(#sb)"/>
<circle cx="152.29" cy="640.30" r="0.79" fill="#e0603a" opacity="0.8" filter="url(#sb)"/>
<circle cx="93.64" cy="636.36" r="0.95" fill="#f0e020" filter="url(#sb)"/>
<circle cx="99.95" cy="632.42" r="0.95" fill="#f0e020" filter="url(#sb)"/>
<circle cx="106.88" cy="645.82" r="0.95" fill="#f0e020" filter="url(#sb)"/>
<circle cx="95.53" cy="630.52" r="0.63" fill="#40e828" filter="url(#sb)"/>
</g>
<rect x="140.78" y="692.33" width="24.12" height="2.36" fill="#fff" stroke="none" stroke-width="1.0"/>
<text x="133.37" y="613.50" font-size="13.2" font-weight="bold" text-anchor="start" fill="#fff">LNP</text>
<clipPath id="t4"><rect x="174.4" y="597.4" width="99.60" height="99.90"/></clipPath>
<g clip-path="url(#t4)">
<rect x="174.40" y="597.40" width="99.60" height="99.90" fill="#6c6c6c" stroke="none" stroke-width="1.0"/>
<filter id="cf3" filterUnits="userSpaceOnUse" x="174.4" y="597.4" width="99.60" height="99.90" color-interpolation-filters="sRGB"><feGaussianBlur in="SourceAlpha" stdDeviation="2.2" result="bl"/><feTurbulence type="fractalNoise" baseFrequency="0.06" numOctaves="2" seed="23" result="tn"/><feDisplacementMap in="bl" in2="tn" scale="12" xChannelSelector="R" yChannelSelector="G" result="dp"/><feColorMatrix in="dp" type="matrix" values="0 0 0 0 0.60  0 0 0 0 0.60  0 0 0 0 0.60  0 0 0 1 0" result="dpc"/><feComponentTransfer in="dpc" result="vein"><feFuncA type="table" tableValues="0 0 0 0 0 0 0 0 0.35 0.9 1 0.9 0.35 0 0 0 0 0 0 0 0"/></feComponentTransfer><feComponentTransfer in="dpc" result="mask"><feFuncA type="table" tableValues="0 0 0 0 0 0 0 0 0 0 0.5 1 1 1 1 1 1 1 1 1 1"/></feComponentTransfer><feTurbulence type="fractalNoise" baseFrequency="0.75" numOctaves="2" seed="30" result="hi"/><feColorMatrix in="hi" type="matrix" values="0 0 0 0 0.18  0 0 0 0 0.18  0 0 0 0 0.18  2.6 0 0 0 -1.12" result="sp"/><feComposite in="sp" in2="mask" operator="in" result="spIn"/><feTurbulence type="fractalNoise" baseFrequency="0.5" numOctaves="1" seed="26" result="hi2"/><feColorMatrix in="hi2" type="matrix" values="0 0 0 0 0.62  0 0 0 0 0.62  0 0 0 0 0.62  0 2.4 0 0 -1.05" result="sp2"/><feComposite in="sp2" in2="mask" operator="in" result="sp2In"/><feMerge><feMergeNode in="sp2In"/><feMergeNode in="spIn"/><feMergeNode in="vein"/></feMerge></filter>
<g filter="url(#cf3)" opacity="0.42">
<ellipse cx="217.30" cy="616.65" rx="15.61" ry="15.61" fill="#000" transform="rotate(0 217.30 616.65)"/>
<ellipse cx="233.07" cy="629.26" rx="15.61" ry="21.85" fill="#000" transform="rotate(0 233.07 629.26)"/>
<ellipse cx="206.26" cy="637.15" rx="15.61" ry="9.37" fill="#000" transform="rotate(-15 206.26 637.15)"/>
<ellipse cx="217.30" cy="654.49" rx="13.53" ry="15.61" fill="#000" transform="rotate(0 217.30 654.49)"/>
<ellipse cx="242.53" cy="662.37" rx="17.69" ry="17.69" fill="#000" transform="rotate(0 242.53 662.37)"/>
<ellipse cx="225.97" cy="671.83" rx="13.53" ry="15.61" fill="#000" transform="rotate(30 225.97 671.83)"/>
<ellipse cx="215.72" cy="684.45" rx="15.61" ry="11.45" fill="#000" transform="rotate(-10 215.72 684.45)"/>
<ellipse cx="201.53" cy="611.92" rx="9.37" ry="5.20" fill="#000" transform="rotate(0 201.53 611.92)"/>
<ellipse cx="251.99" cy="647.39" rx="7.28" ry="11.45" fill="#000" transform="rotate(0 251.99 647.39)"/>
</g>
<ellipse cx="217.30" cy="615.86" rx="6.31" ry="7.09" fill="#3f3cf0" opacity="0.8" filter="url(#nb)" transform="rotate(-10 217.30 615.86)"/>
<ellipse cx="232.75" cy="630.05" rx="5.68" ry="9.78" fill="#3f3cf0" opacity="0.95" filter="url(#nb)" transform="rotate(0 232.75 630.05)"/>
<ellipse cx="221.24" cy="630.52" rx="4.73" ry="5.52" fill="#3f3cf0" opacity="0.55" filter="url(#nb)" transform="rotate(0 221.24 630.52)"/>
<ellipse cx="205.95" cy="636.83" rx="5.52" ry="4.41" fill="#3f3cf0" opacity="0.85" filter="url(#nb)" transform="rotate(-15 205.95 636.83)"/>
<ellipse cx="217.30" cy="654.49" rx="5.05" ry="6.31" fill="#3f3cf0" opacity="0.95" filter="url(#nb)" transform="rotate(0 217.30 654.49)"/>
<ellipse cx="242.84" cy="662.37" rx="7.09" ry="7.88" fill="#3f3cf0" opacity="0.8" filter="url(#nb)" transform="rotate(0 242.84 662.37)"/>
<ellipse cx="226.44" cy="671.04" rx="5.20" ry="7.88" fill="#3f3cf0" opacity="0.95" filter="url(#nb)" transform="rotate(30 226.44 671.04)"/>
<ellipse cx="215.72" cy="682.87" rx="6.62" ry="5.05" fill="#3f3cf0" opacity="0.95" filter="url(#nb)" transform="rotate(-10 215.72 682.87)"/>
<circle cx="239.37" cy="635.57" r="1.42" fill="#e0603a" opacity="0.8" filter="url(#sb)"/>
<circle cx="233.07" cy="663.95" r="1.42" fill="#e0603a" opacity="0.8" filter="url(#sb)"/>
<circle cx="248.83" cy="662.37" r="1.26" fill="#e0603a" opacity="0.8" filter="url(#sb)"/>
<circle cx="217.30" cy="628.47" r="0.95" fill="#e0603a" opacity="0.8" filter="url(#sb)"/>
<circle cx="242.53" cy="632.42" r="1.10" fill="#e0603a" opacity="0.8" filter="url(#sb)"/>
<circle cx="209.42" cy="656.07" r="0.79" fill="#e0603a" opacity="0.8" filter="url(#sb)"/>
<circle cx="222.03" cy="689.18" r="0.79" fill="#e0603a" opacity="0.8" filter="url(#sb)"/>
<circle cx="251.99" cy="668.68" r="0.95" fill="#e0603a" opacity="0.8" filter="url(#sb)"/>
<circle cx="234.64" cy="615.07" r="1.42" fill="#e0603a" opacity="0.8" filter="url(#sb)"/>
<circle cx="244.10" cy="624.53" r="1.26" fill="#e0603a" opacity="0.8" filter="url(#sb)"/>
<circle cx="230.70" cy="668.68" r="1.10" fill="#e0603a" opacity="0.8" filter="url(#sb)"/>
<circle cx="209.42" cy="637.93" r="0.95" fill="#e0603a" opacity="0.8" filter="url(#sb)"/>
<circle cx="238.58" cy="620.12" r="2.36" fill="#f0e020" filter="url(#sb)"/>
<circle cx="243.31" cy="622.17" r="1.26" fill="#f0e020" filter="url(#sb)"/>
<circle cx="214.62" cy="661.74" r="1.26" fill="#f0e020" filter="url(#sb)"/>
<circle cx="233.07" cy="672.62" r="1.26" fill="#f0e020" filter="url(#sb)"/>
<circle cx="212.57" cy="638.72" r="1.10" fill="#f0e020" filter="url(#sb)"/>
<circle cx="241.26" cy="616.65" r="1.10" fill="#f0e020" filter="url(#sb)"/>
<circle cx="207.84" cy="634.31" r="0.79" fill="#f0e020" filter="url(#sb)"/>
<circle cx="236.22" cy="626.42" r="1.2" fill="#30d0e0" filter="url(#sb)"/>
<circle cx="224.39" cy="639.04" r="2.52" fill="#40e828" filter="url(#sb)"/>
<circle cx="251.20" cy="657.64" r="1.58" fill="#40e828" filter="url(#sb)"/>
<circle cx="246.47" cy="648.97" r="1.26" fill="#40e828" filter="url(#sb)"/>
<circle cx="236.22" cy="652.60" r="1.26" fill="#40e828" filter="url(#sb)"/>
<circle cx="228.34" cy="645.03" r="0.95" fill="#40e828" filter="url(#sb)"/>
<circle cx="215.72" cy="674.99" r="1.58" fill="#40e828" filter="url(#sb)"/>
<circle cx="217.30" cy="607.51" r="0.79" fill="#40e828" filter="url(#sb)"/>
<circle cx="210.20" cy="609.55" r="0.79" fill="#40e828" filter="url(#sb)"/>
<circle cx="228.34" cy="599.31" r="0.63" fill="#40e828" filter="url(#sb)"/>
<circle cx="243.31" cy="600.09" r="0.63" fill="#40e828" filter="url(#sb)"/>
<circle cx="223.61" cy="643.14" r="0.79" fill="#40e828" filter="url(#sb)"/>
<circle cx="218.88" cy="676.56" r="0.95" fill="#40e828" filter="url(#sb)"/>
<circle cx="213.83" cy="662.37" r="2.21" fill="#40e828" filter="url(#sb)"/>
<circle cx="233.85" cy="618.23" r="1.42" fill="#40e828" filter="url(#sb)"/>
<circle cx="222.03" cy="671.83" r="1.10" fill="#40e828" filter="url(#sb)"/>
</g>
<rect x="246.47" y="692.33" width="23.96" height="2.36" fill="#fff" stroke="none" stroke-width="1.0"/>
<text x="220.45" y="613.18" font-size="13" font-weight="bold" text-anchor="start" fill="#fff">Q<tspan font-size="7.67" dy="2.21">II</tspan><tspan font-size="8.84" dy="-6.63">P, RNA</tspan></text>
<text x="286.50" y="482.90" font-size="18" font-weight="bold" text-anchor="start" fill="#000">k</text>
<defs><filter id="gs" x="-80%" y="-80%" width="260%" height="260%"><feGaussianBlur stdDeviation="0.75"/></filter><filter id="gg" x="-30%" y="-30%" width="160%" height="160%"><feGaussianBlur stdDeviation="9"/></filter><filter id="gs2" x="-60%" y="-60%" width="220%" height="220%"><feGaussianBlur stdDeviation="1.1"/></filter><filter id="ph" x="0" y="0" width="100%" height="100%" color-interpolation-filters="sRGB"><feTurbulence type="fractalNoise" baseFrequency="0.2" numOctaves="2" seed="5" result="n"/><feColorMatrix in="n" type="matrix" values="0.28 0 0 0 0.265  0.28 0 0 0 0.29  0.28 0 0 0 0.262  0 0 0 0 1" result="base"/><feColorMatrix in="n" type="matrix" values="0 0 0 0 0.66  0 0 0 0 0.69  0 0 0 0 0.65  0 1 0 0 0" result="va"/><feComponentTransfer in="va" result="vein"><feFuncA type="table" tableValues="0 0 0 0 0 0 0 0.5 1 0.5 0 0 0 0 0 0 0"/></feComponentTransfer><feColorMatrix in="n" type="matrix" values="0 0 0 0 0.30  0 0 0 0 0.33  0 0 0 0 0.29  0 0 1 0 0" result="da"/><feComponentTransfer in="da" result="dark"><feFuncA type="table" tableValues="0 0 0 0 0 0 0 0 0 0 0.3 0.7 1 1 1 1 1"/></feComponentTransfer><feColorMatrix in="dark" type="matrix" values="1 0 0 0 0  0 1 0 0 0  0 0 1 0 0  0 0 0 0.22 0" result="dark2"/><feColorMatrix in="vein" type="matrix" values="1 0 0 0 0  0 1 0 0 0  0 0 1 0 0  0 0 0 0.38 0" result="vein2"/><feMerge><feMergeNode in="base"/><feMergeNode in="dark2"/><feMergeNode in="vein2"/></feMerge></filter><filter id="ph2" x="0" y="0" width="100%" height="100%" color-interpolation-filters="sRGB"><feTurbulence type="fractalNoise" baseFrequency="0.22" numOctaves="2" seed="11" result="n"/><feColorMatrix in="n" type="matrix" values="0.28 0 0 0 0.265  0.28 0 0 0 0.29  0.28 0 0 0 0.262  0 0 0 0 1" result="base"/><feColorMatrix in="n" type="matrix" values="0 0 0 0 0.66  0 0 0 0 0.69  0 0 0 0 0.65  0 1 0 0 0" result="va"/><feComponentTransfer in="va" result="vein"><feFuncA type="table" tableValues="0 0 0 0 0 0 0 0.5 1 0.5 0 0 0 0 0 0 0"/></feComponentTransfer><feColorMatrix in="n" type="matrix" values="0 0 0 0 0.30  0 0 0 0 0.33  0 0 0 0 0.29  0 0 1 0 0" result="da"/><feComponentTransfer in="da" result="dark"><feFuncA type="table" tableValues="0 0 0 0 0 0 0 0 0 0 0.3 0.7 1 1 1 1 1"/></feComponentTransfer><feColorMatrix in="dark" type="matrix" values="1 0 0 0 0  0 1 0 0 0  0 0 1 0 0  0 0 0 0.22 0" result="dark2"/><feColorMatrix in="vein" type="matrix" values="1 0 0 0 0  0 1 0 0 0  0 0 1 0 0  0 0 0 0.38 0" result="vein2"/><feMerge><feMergeNode in="base"/><feMergeNode in="dark2"/><feMergeNode in="vein2"/></feMerge></filter><filter id="ph3" x="0" y="0" width="100%" height="100%" color-interpolation-filters="sRGB"><feTurbulence type="fractalNoise" baseFrequency="0.19" numOctaves="2" seed="21" result="n"/><feColorMatrix in="n" type="matrix" values="0.28 0 0 0 0.265  0.28 0 0 0 0.29  0.28 0 0 0 0.262  0 0 0 0 1" result="base"/><feColorMatrix in="n" type="matrix" values="0 0 0 0 0.66  0 0 0 0 0.69  0 0 0 0 0.65  0 1 0 0 0" result="va"/><feComponentTransfer in="va" result="vein"><feFuncA type="table" tableValues="0 0 0 0 0 0 0 0.5 1 0.5 0 0 0 0 0 0 0"/></feComponentTransfer><feColorMatrix in="n" type="matrix" values="0 0 0 0 0.30  0 0 0 0 0.33  0 0 0 0 0.29  0 0 1 0 0" result="da"/><feComponentTransfer in="da" result="dark"><feFuncA type="table" tableValues="0 0 0 0 0 0 0 0 0 0 0.3 0.7 1 1 1 1 1"/></feComponentTransfer><feColorMatrix in="dark" type="matrix" values="1 0 0 0 0  0 1 0 0 0  0 0 1 0 0  0 0 0 0.22 0" result="dark2"/><feColorMatrix in="vein" type="matrix" values="1 0 0 0 0  0 1 0 0 0  0 0 1 0 0  0 0 0 0.38 0" result="vein2"/><feMerge><feMergeNode in="base"/><feMergeNode in="dark2"/><feMergeNode in="vein2"/></feMerge></filter></defs>
<text x="313.80" y="556.80" font-size="12.9" font-weight="bold" text-anchor="middle" fill="#12b04e" transform="rotate(-90 313.80 556.80)">EGFP</text>
<text x="313.80" y="651.60" font-size="12.9" font-weight="bold" text-anchor="middle" fill="#000" transform="rotate(-90 313.80 651.60)">Merge</text>
<text x="375.70" y="502.80" font-size="13" font-weight="bold" text-anchor="middle" fill="#000">LNP</text>
<text x="492.30" y="502.80" font-size="13" font-weight="bold" text-anchor="middle" fill="#000">PEI</text>
<text x="592.20" y="503.30" font-size="13" font-weight="bold" text-anchor="start" fill="#000">Q<tspan font-size="7.80" dy="2.34">II</tspan><tspan font-size="9.10" dy="-7.02">P, RNA</tspan></text>
<clipPath id="k0a"><rect x="320.1" y="509.5" width="113.80" height="92.10"/></clipPath>
<clipPath id="k0b"><rect x="320.1" y="605.0" width="113.80" height="93.00"/></clipPath>
<g clip-path="url(#k0a)">
<rect x="320.10" y="509.50" width="113.80" height="92.10" fill="#060d06" stroke="none" stroke-width="1.0"/>
</g>
<rect x="397.90" y="596.90" width="33.80" height="1.90" fill="#fff" stroke="none" stroke-width="1.0"/>
<g clip-path="url(#k0b)">
<rect x="320.10" y="605.00" width="113.80" height="93.00" fill="#727a71" stroke="none" stroke-width="1.0" filter="url(#ph)"/>
</g>
<rect x="397.90" y="692.60" width="33.80" height="2.10" fill="#fff" stroke="none" stroke-width="1.0"/>
<clipPath id="k1a"><rect x="437.6" y="509.5" width="113.80" height="92.10"/></clipPath>
<clipPath id="k1b"><rect x="437.6" y="605.0" width="113.80" height="93.00"/></clipPath>
<g clip-path="url(#k1a)">
<rect x="437.60" y="509.50" width="113.80" height="92.10" fill="#040e05" stroke="none" stroke-width="1.0"/>
<ellipse cx="449.18" cy="544.41" rx="2.37" ry="1.35" fill="#38e838" opacity="0.59" filter="url(#gs)" transform="rotate(-30 449.18 544.41)"/>
<ellipse cx="452.38" cy="547.44" rx="2.03" ry="1.35" fill="#38e838" opacity="0.51" filter="url(#gs)" transform="rotate(0 452.38 547.44)"/>
<ellipse cx="451.85" cy="551.53" rx="1.69" ry="1.02" fill="#38e838" opacity="0.34" filter="url(#gs)" transform="rotate(0 451.85 551.53)"/>
<ellipse cx="442.94" cy="557.59" rx="2.03" ry="1.52" fill="#38e838" opacity="0.68" filter="url(#gs)" transform="rotate(0 442.94 557.59)"/>
<ellipse cx="470.55" cy="592.32" rx="1.86" ry="2.71" fill="#38e838" opacity="0.85" filter="url(#gs)" transform="rotate(-20 470.55 592.32)"/>
<ellipse cx="475.89" cy="590.71" rx="2.54" ry="1.52" fill="#38e838" opacity="0.72" filter="url(#gs)" transform="rotate(-20 475.89 590.71)"/>
<ellipse cx="529.86" cy="536.22" rx="2.20" ry="3.05" fill="#38e838" opacity="0.85" filter="url(#gs)" transform="rotate(20 529.86 536.22)"/>
<ellipse cx="532.53" cy="533.54" rx="2.37" ry="1.52" fill="#38e838" opacity="0.77" filter="url(#gs)" transform="rotate(-20 532.53 533.54)"/>
<ellipse cx="546.24" cy="530.52" rx="2.54" ry="1.52" fill="#38e838" opacity="0.68" filter="url(#gs)" transform="rotate(-20 546.24 530.52)"/>
<ellipse cx="546.60" cy="536.75" rx="1.69" ry="1.69" fill="#38e838" opacity="0.30" filter="url(#gs)" transform="rotate(0 546.60 536.75)"/>
<ellipse cx="540.90" cy="539.78" rx="2.37" ry="1.52" fill="#38e838" opacity="0.26" filter="url(#gs)" transform="rotate(0 540.90 539.78)"/>
<ellipse cx="530.21" cy="556.34" rx="3.38" ry="2.03" fill="#38e838" opacity="0.26" filter="url(#gs)" transform="rotate(0 530.21 556.34)"/>
<ellipse cx="525.40" cy="566.49" rx="2.20" ry="1.69" fill="#38e838" opacity="0.85" filter="url(#gs)" transform="rotate(0 525.40 566.49)"/>
<ellipse cx="525.40" cy="571.84" rx="2.37" ry="1.69" fill="#38e838" opacity="0.59" filter="url(#gs)" transform="rotate(0 525.40 571.84)"/>
<ellipse cx="529.32" cy="587.51" rx="1.69" ry="1.35" fill="#38e838" opacity="0.17" filter="url(#gs)" transform="rotate(0 529.32 587.51)"/>
<ellipse cx="529.86" cy="592.85" rx="1.69" ry="1.35" fill="#38e838" opacity="0.17" filter="url(#gs)" transform="rotate(0 529.86 592.85)"/>
<ellipse cx="446.86" cy="534.97" rx="1.35" ry="1.69" fill="#38e838" opacity="0.13" filter="url(#gs)" transform="rotate(0 446.86 534.97)"/>
<ellipse cx="466.10" cy="582.17" rx="2.54" ry="1.69" fill="#38e838" opacity="0.09" filter="url(#gs)" transform="rotate(0 466.10 582.17)"/>
</g>
<rect x="515.40" y="596.90" width="33.80" height="1.90" fill="#fff" stroke="none" stroke-width="1.0"/>
<g clip-path="url(#k1b)">
<rect x="437.60" y="605.00" width="113.80" height="93.00" fill="#727a71" stroke="none" stroke-width="1.0" filter="url(#ph2)"/>
<ellipse cx="449.18" cy="639.91" rx="2.74" ry="1.57" fill="#58ee58" opacity="0.52" filter="url(#gs)" transform="rotate(-30 449.18 639.91)"/>
<ellipse cx="452.38" cy="642.94" rx="2.35" ry="1.57" fill="#58ee58" opacity="0.45" filter="url(#gs)" transform="rotate(0 452.38 642.94)"/>
<ellipse cx="451.85" cy="647.03" rx="1.96" ry="1.18" fill="#58ee58" opacity="0.30" filter="url(#gs)" transform="rotate(0 451.85 647.03)"/>
<ellipse cx="442.94" cy="653.09" rx="2.35" ry="1.76" fill="#58ee58" opacity="0.60" filter="url(#gs)" transform="rotate(0 442.94 653.09)"/>
<ellipse cx="470.55" cy="687.82" rx="2.16" ry="3.13" fill="#58ee58" opacity="0.75" filter="url(#gs)" transform="rotate(-20 470.55 687.82)"/>
<ellipse cx="475.89" cy="686.21" rx="2.94" ry="1.76" fill="#58ee58" opacity="0.64" filter="url(#gs)" transform="rotate(-20 475.89 686.21)"/>
<ellipse cx="529.86" cy="631.72" rx="2.55" ry="3.53" fill="#58ee58" opacity="0.75" filter="url(#gs)" transform="rotate(20 529.86 631.72)"/>
<ellipse cx="532.53" cy="629.04" rx="2.74" ry="1.76" fill="#58ee58" opacity="0.68" filter="url(#gs)" transform="rotate(-20 532.53 629.04)"/>
<ellipse cx="546.24" cy="626.02" rx="2.94" ry="1.76" fill="#58ee58" opacity="0.60" filter="url(#gs)" transform="rotate(-20 546.24 626.02)"/>
<ellipse cx="546.60" cy="632.25" rx="1.96" ry="1.96" fill="#58ee58" opacity="0.26" filter="url(#gs)" transform="rotate(0 546.60 632.25)"/>
<ellipse cx="540.90" cy="635.28" rx="2.74" ry="1.76" fill="#58ee58" opacity="0.22" filter="url(#gs)" transform="rotate(0 540.90 635.28)"/>
<ellipse cx="530.21" cy="651.84" rx="3.92" ry="2.35" fill="#58ee58" opacity="0.22" filter="url(#gs)" transform="rotate(0 530.21 651.84)"/>
<ellipse cx="525.40" cy="661.99" rx="2.55" ry="1.96" fill="#58ee58" opacity="0.75" filter="url(#gs)" transform="rotate(0 525.40 661.99)"/>
<ellipse cx="525.40" cy="667.34" rx="2.74" ry="1.96" fill="#58ee58" opacity="0.52" filter="url(#gs)" transform="rotate(0 525.40 667.34)"/>
</g>
<rect x="515.40" y="692.60" width="33.80" height="2.10" fill="#fff" stroke="none" stroke-width="1.0"/>
<clipPath id="k2a"><rect x="554.7" y="509.5" width="114.30" height="92.10"/></clipPath>
<clipPath id="k2b"><rect x="554.7" y="605.0" width="114.30" height="93.00"/></clipPath>
<g clip-path="url(#k2a)">
<rect x="554.70" y="509.50" width="114.30" height="92.10" fill="#051105" stroke="none" stroke-width="1.0"/>
<ellipse cx="629.7" cy="551.5" rx="42" ry="36" fill="#1c7a1c" opacity="0.12" filter="url(#gg)"/>
<ellipse cx="579.7" cy="581.5" rx="24" ry="18" fill="#1c7a1c" opacity="0.10" filter="url(#gg)"/>
<ellipse cx="626.83" cy="534.97" rx="1.86" ry="3.05" fill="#38e838" opacity="0.85" filter="url(#gs)" transform="rotate(10 626.83 534.97)"/>
<ellipse cx="582.84" cy="565.25" rx="3.38" ry="1.69" fill="#38e838" opacity="0.85" filter="url(#gs)" transform="rotate(-10 582.84 565.25)"/>
<ellipse cx="643.75" cy="577.18" rx="2.88" ry="3.72" fill="#38e838" opacity="0.85" filter="url(#gs)" transform="rotate(-35 643.75 577.18)"/>
<ellipse cx="649.98" cy="573.79" rx="2.54" ry="2.71" fill="#38e838" opacity="0.85" filter="url(#gs)" transform="rotate(0 649.98 573.79)"/>
<ellipse cx="624.52" cy="519.83" rx="1.52" ry="3.38" fill="#38e838" opacity="0.72" filter="url(#gs)" transform="rotate(10 624.52 519.83)"/>
<ellipse cx="631.28" cy="513.60" rx="1.18" ry="2.37" fill="#38e838" opacity="0.68" filter="url(#gs)" transform="rotate(0 631.28 513.60)"/>
<ellipse cx="619.71" cy="515.38" rx="1.69" ry="1.69" fill="#38e838" opacity="0.68" filter="url(#gs)" transform="rotate(0 619.71 515.38)"/>
<ellipse cx="612.58" cy="548.33" rx="2.37" ry="1.52" fill="#38e838" opacity="0.72" filter="url(#gs)" transform="rotate(-30 612.58 548.33)"/>
<ellipse cx="609.02" cy="544.41" rx="2.37" ry="1.35" fill="#38e838" opacity="0.68" filter="url(#gs)" transform="rotate(0 609.02 544.41)"/>
<ellipse cx="613.83" cy="553.31" rx="2.03" ry="1.35" fill="#38e838" opacity="0.68" filter="url(#gs)" transform="rotate(0 613.83 553.31)"/>
<ellipse cx="648.74" cy="547.44" rx="1.69" ry="1.69" fill="#38e838" opacity="0.72" filter="url(#gs)" transform="rotate(0 648.74 547.44)"/>
<ellipse cx="656.22" cy="550.11" rx="1.52" ry="2.37" fill="#38e838" opacity="0.68" filter="url(#gs)" transform="rotate(-20 656.22 550.11)"/>
<ellipse cx="645.53" cy="559.01" rx="1.69" ry="2.03" fill="#38e838" opacity="0.68" filter="url(#gs)" transform="rotate(0 645.53 559.01)"/>
<ellipse cx="645.53" cy="567.92" rx="1.69" ry="1.69" fill="#38e838" opacity="0.72" filter="url(#gs)" transform="rotate(0 645.53 567.92)"/>
<ellipse cx="618.82" cy="599.09" rx="1.69" ry="1.69" fill="#38e838" opacity="0.77" filter="url(#gs)" transform="rotate(0 618.82 599.09)"/>
<ellipse cx="604.57" cy="592.32" rx="1.69" ry="1.69" fill="#38e838" opacity="0.72" filter="url(#gs)" transform="rotate(0 604.57 592.32)"/>
<ellipse cx="567.17" cy="582.17" rx="1.52" ry="2.03" fill="#38e838" opacity="0.72" filter="url(#gs)" transform="rotate(0 567.17 582.17)"/>
<ellipse cx="573.94" cy="565.78" rx="1.69" ry="2.03" fill="#38e838" opacity="0.68" filter="url(#gs)" transform="rotate(0 573.94 565.78)"/>
<ellipse cx="573.94" cy="561.68" rx="1.35" ry="1.35" fill="#38e838" opacity="0.59" filter="url(#gs)" transform="rotate(0 573.94 561.68)"/>
<ellipse cx="646.42" cy="514.49" rx="1.35" ry="1.35" fill="#38e838" opacity="0.64" filter="url(#gs)" transform="rotate(0 646.42 514.49)"/>
<ellipse cx="651.77" cy="519.83" rx="1.35" ry="2.03" fill="#38e838" opacity="0.59" filter="url(#gs)" transform="rotate(20 651.77 519.83)"/>
<ellipse cx="641.97" cy="535.86" rx="1.35" ry="1.35" fill="#38e838" opacity="0.64" filter="url(#gs)" transform="rotate(0 641.97 535.86)"/>
<ellipse cx="647.31" cy="539.42" rx="1.35" ry="1.35" fill="#38e838" opacity="0.64" filter="url(#gs)" transform="rotate(0 647.31 539.42)"/>
<ellipse cx="631.28" cy="532.30" rx="1.02" ry="2.71" fill="#38e838" opacity="0.68" filter="url(#gs)" transform="rotate(0 631.28 532.30)"/>
<ellipse cx="667.79" cy="515.38" rx="1.02" ry="1.69" fill="#38e838" opacity="0.68" filter="url(#gs)" transform="rotate(0 667.79 515.38)"/>
<ellipse cx="609.91" cy="517.16" rx="1.02" ry="2.03" fill="#38e838" opacity="0.59" filter="url(#gs)" transform="rotate(20 609.91 517.16)"/>
<ellipse cx="597.44" cy="543.87" rx="2.03" ry="1.35" fill="#38e838" opacity="0.51" filter="url(#gs)" transform="rotate(-30 597.44 543.87)"/>
<ellipse cx="592.99" cy="538.53" rx="1.35" ry="2.03" fill="#38e838" opacity="0.42" filter="url(#gs)" transform="rotate(0 592.99 538.53)"/>
<ellipse cx="617.93" cy="523.39" rx="1.52" ry="1.69" fill="#38e838" opacity="0.51" filter="url(#gs)" transform="rotate(0 617.93 523.39)"/>
<ellipse cx="661.56" cy="528.74" rx="1.35" ry="2.03" fill="#38e838" opacity="0.42" filter="url(#gs)" transform="rotate(0 661.56 528.74)"/>
<ellipse cx="663.34" cy="538.53" rx="2.37" ry="1.35" fill="#38e838" opacity="0.47" filter="url(#gs)" transform="rotate(0 663.34 538.53)"/>
<ellipse cx="663.34" cy="553.67" rx="1.35" ry="2.37" fill="#38e838" opacity="0.42" filter="url(#gs)" transform="rotate(-20 663.34 553.67)"/>
<ellipse cx="650.88" cy="562.57" rx="1.69" ry="2.37" fill="#38e838" opacity="0.47" filter="url(#gs)" transform="rotate(0 650.88 562.57)"/>
<ellipse cx="636.63" cy="561.68" rx="2.37" ry="1.52" fill="#38e838" opacity="0.42" filter="url(#gs)" transform="rotate(0 636.63 561.68)"/>
<ellipse cx="630.39" cy="554.56" rx="1.69" ry="1.52" fill="#38e838" opacity="0.42" filter="url(#gs)" transform="rotate(0 630.39 554.56)"/>
<ellipse cx="608.13" cy="574.15" rx="1.35" ry="2.03" fill="#38e838" opacity="0.51" filter="url(#gs)" transform="rotate(0 608.13 574.15)"/>
<ellipse cx="614.36" cy="582.17" rx="2.03" ry="1.69" fill="#38e838" opacity="0.51" filter="url(#gs)" transform="rotate(-30 614.36 582.17)"/>
<ellipse cx="585.87" cy="574.15" rx="1.69" ry="1.69" fill="#38e838" opacity="0.42" filter="url(#gs)" transform="rotate(0 585.87 574.15)"/>
<ellipse cx="581.42" cy="577.71" rx="2.03" ry="1.52" fill="#38e838" opacity="0.42" filter="url(#gs)" transform="rotate(0 581.42 577.71)"/>
<ellipse cx="573.40" cy="583.06" rx="1.69" ry="1.35" fill="#38e838" opacity="0.51" filter="url(#gs)" transform="rotate(0 573.40 583.06)"/>
<ellipse cx="559.15" cy="576.82" rx="1.52" ry="1.69" fill="#38e838" opacity="0.38" filter="url(#gs)" transform="rotate(0 559.15 576.82)"/>
<ellipse cx="559.15" cy="588.40" rx="1.69" ry="1.52" fill="#38e838" opacity="0.42" filter="url(#gs)" transform="rotate(0 559.15 588.40)"/>
<ellipse cx="566.28" cy="588.40" rx="1.69" ry="1.52" fill="#38e838" opacity="0.38" filter="url(#gs)" transform="rotate(0 566.28 588.40)"/>
<ellipse cx="601.01" cy="591.07" rx="1.69" ry="1.18" fill="#38e838" opacity="0.59" filter="url(#gs)" transform="rotate(0 601.01 591.07)"/>
<ellipse cx="610.80" cy="588.40" rx="1.69" ry="1.69" fill="#38e838" opacity="0.42" filter="url(#gs)" transform="rotate(0 610.80 588.40)"/>
<ellipse cx="628.61" cy="571.48" rx="2.03" ry="1.35" fill="#38e838" opacity="0.42" filter="url(#gs)" transform="rotate(0 628.61 571.48)"/>
<ellipse cx="629.50" cy="582.17" rx="1.69" ry="1.35" fill="#38e838" opacity="0.42" filter="url(#gs)" transform="rotate(0 629.50 582.17)"/>
<ellipse cx="623.27" cy="562.57" rx="1.69" ry="1.69" fill="#38e838" opacity="0.38" filter="url(#gs)" transform="rotate(0 623.27 562.57)"/>
<ellipse cx="658.00" cy="583.95" rx="1.35" ry="1.52" fill="#38e838" opacity="0.34" filter="url(#gs)" transform="rotate(0 658.00 583.95)"/>
<ellipse cx="647.31" cy="531.41" rx="1.35" ry="1.69" fill="#38e838" opacity="0.51" filter="url(#gs)" transform="rotate(0 647.31 531.41)"/>
<ellipse cx="638.41" cy="518.05" rx="1.18" ry="1.52" fill="#38e838" opacity="0.42" filter="url(#gs)" transform="rotate(0 638.41 518.05)"/>
<ellipse cx="628.63" cy="517.11" rx="1.64" ry="1.09" fill="#38e838" opacity="0.12" filter="url(#gs)" transform="rotate(1 628.63 517.11)"/>
<ellipse cx="603.22" cy="585.23" rx="1.29" ry="1.00" fill="#38e838" opacity="0.26" filter="url(#gs)" transform="rotate(54 603.22 585.23)"/>
<ellipse cx="620.34" cy="546.39" rx="2.01" ry="0.88" fill="#38e838" opacity="0.32" filter="url(#gs)" transform="rotate(-25 620.34 546.39)"/>
<ellipse cx="590.20" cy="584.26" rx="1.34" ry="1.24" fill="#38e838" opacity="0.26" filter="url(#gs)" transform="rotate(-15 590.20 584.26)"/>
<ellipse cx="617.05" cy="516.24" rx="1.23" ry="0.99" fill="#38e838" opacity="0.28" filter="url(#gs)" transform="rotate(-9 617.05 516.24)"/>
<ellipse cx="590.84" cy="563.44" rx="1.57" ry="1.05" fill="#38e838" opacity="0.30" filter="url(#gs)" transform="rotate(24 590.84 563.44)"/>
<ellipse cx="582.98" cy="562.44" rx="1.63" ry="1.44" fill="#38e838" opacity="0.29" filter="url(#gs)" transform="rotate(-25 582.98 562.44)"/>
<ellipse cx="665.57" cy="521.23" rx="1.54" ry="1.36" fill="#38e838" opacity="0.14" filter="url(#gs)" transform="rotate(-1 665.57 521.23)"/>
<ellipse cx="559.99" cy="570.91" rx="1.83" ry="1.23" fill="#38e838" opacity="0.33" filter="url(#gs)" transform="rotate(-22 559.99 570.91)"/>
<ellipse cx="633.61" cy="564.24" rx="1.67" ry="1.15" fill="#38e838" opacity="0.32" filter="url(#gs)" transform="rotate(53 633.61 564.24)"/>
<ellipse cx="608.79" cy="570.54" rx="1.24" ry="1.32" fill="#38e838" opacity="0.27" filter="url(#gs)" transform="rotate(59 608.79 570.54)"/>
<ellipse cx="647.81" cy="536.27" rx="1.51" ry="1.30" fill="#38e838" opacity="0.11" filter="url(#gs)" transform="rotate(-5 647.81 536.27)"/>
<ellipse cx="562.21" cy="579.94" rx="1.29" ry="1.01" fill="#38e838" opacity="0.20" filter="url(#gs)" transform="rotate(45 562.21 579.94)"/>
<ellipse cx="617.24" cy="590.34" rx="1.88" ry="1.43" fill="#38e838" opacity="0.17" filter="url(#gs)" transform="rotate(-10 617.24 590.34)"/>
<ellipse cx="595.85" cy="590.41" rx="1.99" ry="0.95" fill="#38e838" opacity="0.15" filter="url(#gs)" transform="rotate(-32 595.85 590.41)"/>
<ellipse cx="581.77" cy="554.36" rx="1.68" ry="1.02" fill="#38e838" opacity="0.10" filter="url(#gs)" transform="rotate(-10 581.77 554.36)"/>
<ellipse cx="597.02" cy="561.71" rx="1.99" ry="1.31" fill="#38e838" opacity="0.23" filter="url(#gs)" transform="rotate(14 597.02 561.71)"/>
<ellipse cx="631.46" cy="515.44" rx="1.95" ry="1.37" fill="#38e838" opacity="0.33" filter="url(#gs)" transform="rotate(36 631.46 515.44)"/>
<ellipse cx="599.62" cy="546.60" rx="1.27" ry="1.28" fill="#38e838" opacity="0.12" filter="url(#gs)" transform="rotate(-52 599.62 546.60)"/>
<ellipse cx="558.45" cy="589.52" rx="1.70" ry="0.95" fill="#38e838" opacity="0.17" filter="url(#gs)" transform="rotate(-18 558.45 589.52)"/>
<ellipse cx="650.84" cy="600.24" rx="1.58" ry="1.17" fill="#38e838" opacity="0.12" filter="url(#gs)" transform="rotate(-48 650.84 600.24)"/>
<ellipse cx="594.04" cy="534.48" rx="1.89" ry="0.96" fill="#38e838" opacity="0.11" filter="url(#gs)" transform="rotate(54 594.04 534.48)"/>
<ellipse cx="614.86" cy="523.81" rx="1.64" ry="0.86" fill="#38e838" opacity="0.24" filter="url(#gs)" transform="rotate(57 614.86 523.81)"/>
<ellipse cx="652.46" cy="573.43" rx="1.41" ry="1.09" fill="#38e838" opacity="0.14" filter="url(#gs)" transform="rotate(33 652.46 573.43)"/>
<ellipse cx="615.35" cy="580.92" rx="1.46" ry="1.00" fill="#38e838" opacity="0.31" filter="url(#gs)" transform="rotate(58 615.35 580.92)"/>
<ellipse cx="651.26" cy="583.36" rx="1.88" ry="1.35" fill="#38e838" opacity="0.16" filter="url(#gs)" transform="rotate(2 651.26 583.36)"/>
<ellipse cx="584.67" cy="573.10" rx="1.99" ry="1.15" fill="#38e838" opacity="0.34" filter="url(#gs)" transform="rotate(59 584.67 573.10)"/>
<ellipse cx="662.75" cy="543.49" rx="1.37" ry="1.00" fill="#38e838" opacity="0.15" filter="url(#gs)" transform="rotate(-35 662.75 543.49)"/>
<ellipse cx="625.61" cy="591.86" rx="1.90" ry="1.17" fill="#38e838" opacity="0.27" filter="url(#gs)" transform="rotate(36 625.61 591.86)"/>
<ellipse cx="565.10" cy="570.22" rx="1.95" ry="1.38" fill="#38e838" opacity="0.29" filter="url(#gs)" transform="rotate(-3 565.10 570.22)"/>
<ellipse cx="575.62" cy="581.83" rx="1.47" ry="1.39" fill="#38e838" opacity="0.35" filter="url(#gs)" transform="rotate(-12 575.62 581.83)"/>
<ellipse cx="600.63" cy="596.06" rx="1.80" ry="0.96" fill="#38e838" opacity="0.13" filter="url(#gs)" transform="rotate(-42 600.63 596.06)"/>
<ellipse cx="657.12" cy="583.39" rx="1.31" ry="1.41" fill="#38e838" opacity="0.35" filter="url(#gs)" transform="rotate(19 657.12 583.39)"/>
<ellipse cx="594.91" cy="560.11" rx="1.30" ry="0.86" fill="#38e838" opacity="0.35" filter="url(#gs)" transform="rotate(18 594.91 560.11)"/>
<ellipse cx="614.68" cy="594.87" rx="1.55" ry="1.44" fill="#38e838" opacity="0.31" filter="url(#gs)" transform="rotate(-35 614.68 594.87)"/>
<ellipse cx="582.58" cy="563.52" rx="1.40" ry="1.13" fill="#38e838" opacity="0.14" filter="url(#gs)" transform="rotate(49 582.58 563.52)"/>
<ellipse cx="595.29" cy="551.94" rx="1.68" ry="1.46" fill="#38e838" opacity="0.21" filter="url(#gs)" transform="rotate(50 595.29 551.94)"/>
<ellipse cx="611.88" cy="558.59" rx="1.63" ry="0.86" fill="#38e838" opacity="0.21" filter="url(#gs)" transform="rotate(-38 611.88 558.59)"/>
<ellipse cx="556.03" cy="582.73" rx="1.33" ry="1.17" fill="#38e838" opacity="0.29" filter="url(#gs)" transform="rotate(7 556.03 582.73)"/>
<ellipse cx="592.17" cy="557.37" rx="1.65" ry="1.38" fill="#38e838" opacity="0.13" filter="url(#gs)" transform="rotate(7 592.17 557.37)"/>
<ellipse cx="642.24" cy="556.41" rx="1.66" ry="1.36" fill="#38e838" opacity="0.33" filter="url(#gs)" transform="rotate(-7 642.24 556.41)"/>
<ellipse cx="624.32" cy="556.22" rx="1.62" ry="1.31" fill="#38e838" opacity="0.22" filter="url(#gs)" transform="rotate(4 624.32 556.22)"/>
<ellipse cx="609.23" cy="595.58" rx="1.78" ry="1.44" fill="#38e838" opacity="0.34" filter="url(#gs)" transform="rotate(-29 609.23 595.58)"/>
<ellipse cx="618.37" cy="595.74" rx="1.90" ry="0.94" fill="#38e838" opacity="0.13" filter="url(#gs)" transform="rotate(-7 618.37 595.74)"/>
<ellipse cx="563.79" cy="571.02" rx="1.85" ry="1.45" fill="#38e838" opacity="0.14" filter="url(#gs)" transform="rotate(26 563.79 571.02)"/>
<ellipse cx="629.67" cy="523.48" rx="1.93" ry="1.50" fill="#38e838" opacity="0.16" filter="url(#gs)" transform="rotate(54 629.67 523.48)"/>
<ellipse cx="600.28" cy="554.57" rx="2.02" ry="1.41" fill="#38e838" opacity="0.14" filter="url(#gs)" transform="rotate(-8 600.28 554.57)"/>
<ellipse cx="613.44" cy="541.19" rx="1.35" ry="1.06" fill="#38e838" opacity="0.29" filter="url(#gs)" transform="rotate(-58 613.44 541.19)"/>
<ellipse cx="617.76" cy="550.34" rx="1.20" ry="1.07" fill="#38e838" opacity="0.26" filter="url(#gs)" transform="rotate(1 617.76 550.34)"/>
<ellipse cx="562.80" cy="599.52" rx="1.85" ry="1.50" fill="#38e838" opacity="0.13" filter="url(#gs)" transform="rotate(-28 562.80 599.52)"/>
<ellipse cx="560.03" cy="580.91" rx="1.41" ry="0.93" fill="#38e838" opacity="0.21" filter="url(#gs)" transform="rotate(49 560.03 580.91)"/>
<ellipse cx="647.48" cy="533.92" rx="1.31" ry="1.47" fill="#38e838" opacity="0.25" filter="url(#gs)" transform="rotate(24 647.48 533.92)"/>
<ellipse cx="632.81" cy="548.97" rx="1.25" ry="1.48" fill="#38e838" opacity="0.26" filter="url(#gs)" transform="rotate(36 632.81 548.97)"/>
<ellipse cx="564.99" cy="587.88" rx="1.24" ry="1.43" fill="#38e838" opacity="0.22" filter="url(#gs)" transform="rotate(-19 564.99 587.88)"/>
<ellipse cx="617.65" cy="594.24" rx="1.41" ry="0.93" fill="#38e838" opacity="0.24" filter="url(#gs)" transform="rotate(-31 617.65 594.24)"/>
<ellipse cx="590.60" cy="538.11" rx="1.83" ry="1.04" fill="#38e838" opacity="0.23" filter="url(#gs)" transform="rotate(-39 590.60 538.11)"/>
<ellipse cx="637.85" cy="560.33" rx="1.34" ry="1.17" fill="#38e838" opacity="0.34" filter="url(#gs)" transform="rotate(-47 637.85 560.33)"/>
<ellipse cx="647.48" cy="549.59" rx="1.60" ry="1.41" fill="#38e838" opacity="0.20" filter="url(#gs)" transform="rotate(1 647.48 549.59)"/>
<ellipse cx="632.76" cy="599.28" rx="1.47" ry="1.41" fill="#38e838" opacity="0.28" filter="url(#gs)" transform="rotate(16 632.76 599.28)"/>
<ellipse cx="601.00" cy="541.95" rx="1.23" ry="0.93" fill="#38e838" opacity="0.12" filter="url(#gs)" transform="rotate(29 601.00 541.95)"/>
<ellipse cx="565.07" cy="586.53" rx="1.92" ry="1.30" fill="#38e838" opacity="0.17" filter="url(#gs)" transform="rotate(-31 565.07 586.53)"/>
<ellipse cx="588.47" cy="552.06" rx="1.32" ry="1.15" fill="#38e838" opacity="0.17" filter="url(#gs)" transform="rotate(55 588.47 552.06)"/>
<ellipse cx="664.72" cy="559.97" rx="1.39" ry="1.50" fill="#38e838" opacity="0.18" filter="url(#gs)" transform="rotate(-17 664.72 559.97)"/>
<ellipse cx="608.85" cy="555.97" rx="1.35" ry="1.19" fill="#38e838" opacity="0.10" filter="url(#gs)" transform="rotate(-28 608.85 555.97)"/>
<ellipse cx="621.30" cy="558.35" rx="1.82" ry="1.29" fill="#38e838" opacity="0.28" filter="url(#gs)" transform="rotate(45 621.30 558.35)"/>
<ellipse cx="599.30" cy="540.02" rx="2.02" ry="0.95" fill="#38e838" opacity="0.29" filter="url(#gs)" transform="rotate(17 599.30 540.02)"/>
<ellipse cx="560.50" cy="585.99" rx="1.94" ry="1.27" fill="#38e838" opacity="0.29" filter="url(#gs)" transform="rotate(37 560.50 585.99)"/>
<ellipse cx="571.22" cy="557.86" rx="1.61" ry="1.41" fill="#38e838" opacity="0.31" filter="url(#gs)" transform="rotate(39 571.22 557.86)"/>
<ellipse cx="621.12" cy="591.19" rx="1.76" ry="1.32" fill="#38e838" opacity="0.16" filter="url(#gs)" transform="rotate(-56 621.12 591.19)"/>
<ellipse cx="567.36" cy="586.04" rx="1.66" ry="1.27" fill="#38e838" opacity="0.26" filter="url(#gs)" transform="rotate(22 567.36 586.04)"/>
<ellipse cx="645.10" cy="578.14" rx="1.61" ry="1.21" fill="#38e838" opacity="0.27" filter="url(#gs)" transform="rotate(-52 645.10 578.14)"/>
<ellipse cx="638.26" cy="533.34" rx="1.25" ry="1.03" fill="#38e838" opacity="0.29" filter="url(#gs)" transform="rotate(-35 638.26 533.34)"/>
<ellipse cx="638.60" cy="598.68" rx="1.60" ry="1.10" fill="#38e838" opacity="0.22" filter="url(#gs)" transform="rotate(22 638.60 598.68)"/>
<ellipse cx="641.65" cy="566.28" rx="1.73" ry="0.90" fill="#38e838" opacity="0.14" filter="url(#gs)" transform="rotate(-30 641.65 566.28)"/>
<ellipse cx="638.98" cy="538.06" rx="1.66" ry="0.85" fill="#38e838" opacity="0.12" filter="url(#gs)" transform="rotate(-28 638.98 538.06)"/>
<ellipse cx="630.99" cy="573.07" rx="1.76" ry="1.04" fill="#38e838" opacity="0.23" filter="url(#gs)" transform="rotate(-4 630.99 573.07)"/>
<ellipse cx="607.92" cy="521.27" rx="1.94" ry="0.98" fill="#38e838" opacity="0.35" filter="url(#gs)" transform="rotate(52 607.92 521.27)"/>
<ellipse cx="647.59" cy="597.99" rx="1.56" ry="1.03" fill="#38e838" opacity="0.16" filter="url(#gs)" transform="rotate(53 647.59 597.99)"/>
<ellipse cx="579.23" cy="563.07" rx="1.30" ry="1.20" fill="#38e838" opacity="0.34" filter="url(#gs)" transform="rotate(-44 579.23 563.07)"/>
<ellipse cx="647.62" cy="556.51" rx="1.93" ry="1.32" fill="#38e838" opacity="0.16" filter="url(#gs)" transform="rotate(48 647.62 556.51)"/>
<ellipse cx="606.17" cy="537.83" rx="1.30" ry="1.08" fill="#38e838" opacity="0.18" filter="url(#gs)" transform="rotate(41 606.17 537.83)"/>
<ellipse cx="555.79" cy="578.36" rx="1.89" ry="0.93" fill="#38e838" opacity="0.34" filter="url(#gs)" transform="rotate(26 555.79 578.36)"/>
<ellipse cx="656.75" cy="536.74" rx="1.50" ry="1.11" fill="#38e838" opacity="0.36" filter="url(#gs)" transform="rotate(11 656.75 536.74)"/>
<ellipse cx="596.06" cy="549.22" rx="1.42" ry="0.88" fill="#38e838" opacity="0.13" filter="url(#gs)" transform="rotate(40 596.06 549.22)"/>
<ellipse cx="587.64" cy="595.05" rx="1.40" ry="1.03" fill="#38e838" opacity="0.23" filter="url(#gs)" transform="rotate(-37 587.64 595.05)"/>
<ellipse cx="597.48" cy="596.91" rx="1.93" ry="1.40" fill="#38e838" opacity="0.26" filter="url(#gs)" transform="rotate(50 597.48 596.91)"/>
<ellipse cx="661.14" cy="560.16" rx="1.79" ry="0.88" fill="#38e838" opacity="0.29" filter="url(#gs)" transform="rotate(-6 661.14 560.16)"/>
<ellipse cx="640.04" cy="568.76" rx="1.43" ry="0.88" fill="#38e838" opacity="0.34" filter="url(#gs)" transform="rotate(-45 640.04 568.76)"/>
<ellipse cx="608.57" cy="541.60" rx="1.44" ry="1.35" fill="#38e838" opacity="0.35" filter="url(#gs)" transform="rotate(-29 608.57 541.60)"/>
<ellipse cx="629.20" cy="537.73" rx="1.66" ry="1.11" fill="#38e838" opacity="0.14" filter="url(#gs)" transform="rotate(-41 629.20 537.73)"/>
<ellipse cx="578.91" cy="592.37" rx="1.60" ry="0.99" fill="#38e838" opacity="0.33" filter="url(#gs)" transform="rotate(60 578.91 592.37)"/>
<ellipse cx="606.08" cy="523.17" rx="1.35" ry="0.91" fill="#38e838" opacity="0.19" filter="url(#gs)" transform="rotate(-49 606.08 523.17)"/>
<ellipse cx="619.50" cy="590.69" rx="1.82" ry="1.13" fill="#38e838" opacity="0.21" filter="url(#gs)" transform="rotate(3 619.50 590.69)"/>
<ellipse cx="597.88" cy="541.11" rx="1.24" ry="1.03" fill="#38e838" opacity="0.35" filter="url(#gs)" transform="rotate(-45 597.88 541.11)"/>
<ellipse cx="612.07" cy="567.42" rx="1.91" ry="0.99" fill="#38e838" opacity="0.17" filter="url(#gs)" transform="rotate(-30 612.07 567.42)"/>
<ellipse cx="600.45" cy="550.83" rx="1.99" ry="1.42" fill="#38e838" opacity="0.32" filter="url(#gs)" transform="rotate(-57 600.45 550.83)"/>
<ellipse cx="559.21" cy="574.64" rx="1.94" ry="1.17" fill="#38e838" opacity="0.25" filter="url(#gs)" transform="rotate(-60 559.21 574.64)"/>
<ellipse cx="599.52" cy="594.26" rx="1.88" ry="1.42" fill="#38e838" opacity="0.35" filter="url(#gs)" transform="rotate(-30 599.52 594.26)"/>
<ellipse cx="614.20" cy="572.16" rx="1.98" ry="1.33" fill="#38e838" opacity="0.27" filter="url(#gs)" transform="rotate(32 614.20 572.16)"/>
<ellipse cx="606.90" cy="560.37" rx="1.22" ry="1.38" fill="#38e838" opacity="0.16" filter="url(#gs)" transform="rotate(50 606.90 560.37)"/>
<ellipse cx="628.02" cy="538.00" rx="1.29" ry="1.02" fill="#38e838" opacity="0.26" filter="url(#gs)" transform="rotate(24 628.02 538.00)"/>
<ellipse cx="614.43" cy="563.20" rx="1.51" ry="1.00" fill="#38e838" opacity="0.26" filter="url(#gs)" transform="rotate(-59 614.43 563.20)"/>
<ellipse cx="589.42" cy="552.17" rx="2.00" ry="1.28" fill="#38e838" opacity="0.33" filter="url(#gs)" transform="rotate(-3 589.42 552.17)"/>
<ellipse cx="663.38" cy="574.20" rx="1.44" ry="0.86" fill="#38e838" opacity="0.23" filter="url(#gs)" transform="rotate(21 663.38 574.20)"/>
<ellipse cx="602.72" cy="533.80" rx="1.75" ry="1.47" fill="#38e838" opacity="0.16" filter="url(#gs)" transform="rotate(-56 602.72 533.80)"/>
<ellipse cx="593.52" cy="548.54" rx="1.76" ry="0.98" fill="#38e838" opacity="0.31" filter="url(#gs)" transform="rotate(29 593.52 548.54)"/>
<ellipse cx="612.24" cy="529.10" rx="2.00" ry="1.06" fill="#38e838" opacity="0.31" filter="url(#gs)" transform="rotate(-32 612.24 529.10)"/>
<ellipse cx="580.44" cy="579.24" rx="1.43" ry="1.49" fill="#38e838" opacity="0.23" filter="url(#gs)" transform="rotate(-38 580.44 579.24)"/>
<ellipse cx="580.65" cy="548.23" rx="1.75" ry="1.49" fill="#38e838" opacity="0.14" filter="url(#gs)" transform="rotate(-13 580.65 548.23)"/>
<ellipse cx="579.48" cy="598.53" rx="1.30" ry="0.88" fill="#38e838" opacity="0.12" filter="url(#gs)" transform="rotate(-13 579.48 598.53)"/>
<ellipse cx="656.37" cy="590.35" rx="1.80" ry="1.52" fill="#38e838" opacity="0.34" filter="url(#gs)" transform="rotate(-20 656.37 590.35)"/>
<ellipse cx="576.41" cy="595.08" rx="1.82" ry="0.87" fill="#38e838" opacity="0.27" filter="url(#gs)" transform="rotate(-15 576.41 595.08)"/>
<ellipse cx="597.54" cy="540.52" rx="1.33" ry="0.85" fill="#38e838" opacity="0.17" filter="url(#gs)" transform="rotate(-18 597.54 540.52)"/>
<ellipse cx="662.80" cy="521.74" rx="2.00" ry="0.99" fill="#38e838" opacity="0.19" filter="url(#gs)" transform="rotate(39 662.80 521.74)"/>
<ellipse cx="647.82" cy="549.62" rx="1.23" ry="1.17" fill="#38e838" opacity="0.20" filter="url(#gs)" transform="rotate(50 647.82 549.62)"/>
<ellipse cx="656.24" cy="513.30" rx="1.53" ry="1.40" fill="#38e838" opacity="0.30" filter="url(#gs)" transform="rotate(-55 656.24 513.30)"/>
<ellipse cx="658.83" cy="533.78" rx="1.82" ry="1.45" fill="#38e838" opacity="0.19" filter="url(#gs)" transform="rotate(-27 658.83 533.78)"/>
<ellipse cx="663.05" cy="566.28" rx="1.41" ry="1.33" fill="#38e838" opacity="0.18" filter="url(#gs)" transform="rotate(-27 663.05 566.28)"/>
<ellipse cx="556.01" cy="578.80" rx="1.96" ry="1.28" fill="#38e838" opacity="0.34" filter="url(#gs)" transform="rotate(-57 556.01 578.80)"/>
<ellipse cx="581.83" cy="553.48" rx="1.99" ry="1.49" fill="#38e838" opacity="0.20" filter="url(#gs)" transform="rotate(-30 581.83 553.48)"/>
<ellipse cx="603.83" cy="555.13" rx="1.97" ry="0.97" fill="#38e838" opacity="0.31" filter="url(#gs)" transform="rotate(29 603.83 555.13)"/>
<ellipse cx="647.91" cy="580.35" rx="1.70" ry="1.07" fill="#38e838" opacity="0.18" filter="url(#gs)" transform="rotate(-17 647.91 580.35)"/>
<ellipse cx="643.36" cy="517.70" rx="1.35" ry="1.36" fill="#38e838" opacity="0.17" filter="url(#gs)" transform="rotate(-52 643.36 517.70)"/>
<ellipse cx="559.39" cy="560.47" rx="1.46" ry="1.51" fill="#38e838" opacity="0.33" filter="url(#gs)" transform="rotate(59 559.39 560.47)"/>
<ellipse cx="566.41" cy="555.58" rx="1.78" ry="1.15" fill="#38e838" opacity="0.16" filter="url(#gs)" transform="rotate(-10 566.41 555.58)"/>
<ellipse cx="625.19" cy="571.44" rx="1.82" ry="1.42" fill="#38e838" opacity="0.27" filter="url(#gs)" transform="rotate(-45 625.19 571.44)"/>
<ellipse cx="649.94" cy="537.10" rx="1.66" ry="1.10" fill="#38e838" opacity="0.29" filter="url(#gs)" transform="rotate(-36 649.94 537.10)"/>
<ellipse cx="572.79" cy="590.41" rx="1.67" ry="1.07" fill="#38e838" opacity="0.20" filter="url(#gs)" transform="rotate(59 572.79 590.41)"/>
<ellipse cx="612.51" cy="531.46" rx="1.87" ry="1.29" fill="#38e838" opacity="0.35" filter="url(#gs)" transform="rotate(-48 612.51 531.46)"/>
<ellipse cx="608.86" cy="584.53" rx="1.90" ry="1.46" fill="#38e838" opacity="0.11" filter="url(#gs)" transform="rotate(-25 608.86 584.53)"/>
<ellipse cx="664.76" cy="563.23" rx="1.97" ry="1.10" fill="#38e838" opacity="0.32" filter="url(#gs)" transform="rotate(-6 664.76 563.23)"/>
<ellipse cx="584.76" cy="580.80" rx="1.98" ry="0.92" fill="#38e838" opacity="0.25" filter="url(#gs)" transform="rotate(14 584.76 580.80)"/>
<ellipse cx="580.01" cy="543.86" rx="1.30" ry="0.98" fill="#38e838" opacity="0.17" filter="url(#gs)" transform="rotate(12 580.01 543.86)"/>
<ellipse cx="628.71" cy="528.94" rx="1.19" ry="1.07" fill="#38e838" opacity="0.27" filter="url(#gs)" transform="rotate(-38 628.71 528.94)"/>
<ellipse cx="644.82" cy="560.06" rx="1.24" ry="0.91" fill="#38e838" opacity="0.20" filter="url(#gs)" transform="rotate(6 644.82 560.06)"/>
<ellipse cx="627.31" cy="518.80" rx="1.32" ry="1.32" fill="#38e838" opacity="0.21" filter="url(#gs)" transform="rotate(-26 627.31 518.80)"/>
<ellipse cx="590.10" cy="596.64" rx="1.45" ry="1.23" fill="#38e838" opacity="0.19" filter="url(#gs)" transform="rotate(-10 590.10 596.64)"/>
<ellipse cx="652.56" cy="600.56" rx="1.49" ry="0.98" fill="#38e838" opacity="0.29" filter="url(#gs)" transform="rotate(-36 652.56 600.56)"/>
<ellipse cx="556.25" cy="591.98" rx="1.54" ry="1.40" fill="#38e838" opacity="0.21" filter="url(#gs)" transform="rotate(46 556.25 591.98)"/>
<ellipse cx="607.31" cy="525.25" rx="1.20" ry="1.22" fill="#38e838" opacity="0.27" filter="url(#gs)" transform="rotate(49 607.31 525.25)"/>
<ellipse cx="565.58" cy="566.75" rx="1.50" ry="1.19" fill="#38e838" opacity="0.14" filter="url(#gs)" transform="rotate(-26 565.58 566.75)"/>
<ellipse cx="614.07" cy="594.14" rx="1.28" ry="1.18" fill="#38e838" opacity="0.31" filter="url(#gs)" transform="rotate(56 614.07 594.14)"/>
<ellipse cx="661.41" cy="598.66" rx="1.59" ry="0.88" fill="#38e838" opacity="0.34" filter="url(#gs)" transform="rotate(-13 661.41 598.66)"/>
<ellipse cx="657.05" cy="566.58" rx="1.88" ry="0.95" fill="#38e838" opacity="0.30" filter="url(#gs)" transform="rotate(-33 657.05 566.58)"/>
<ellipse cx="600.98" cy="586.99" rx="1.89" ry="0.97" fill="#38e838" opacity="0.16" filter="url(#gs)" transform="rotate(-12 600.98 586.99)"/>
<ellipse cx="613.70" cy="545.20" rx="1.29" ry="1.01" fill="#38e838" opacity="0.29" filter="url(#gs)" transform="rotate(48 613.70 545.20)"/>
<ellipse cx="560.20" cy="561.35" rx="1.83" ry="0.87" fill="#38e838" opacity="0.32" filter="url(#gs)" transform="rotate(-46 560.20 561.35)"/>
<ellipse cx="622.86" cy="560.24" rx="1.71" ry="1.05" fill="#38e838" opacity="0.21" filter="url(#gs)" transform="rotate(10 622.86 560.24)"/>
</g>
<rect x="633.00" y="596.90" width="33.80" height="1.90" fill="#fff" stroke="none" stroke-width="1.0"/>
<g clip-path="url(#k2b)">
<rect x="554.70" y="605.00" width="114.30" height="93.00" fill="#727a71" stroke="none" stroke-width="1.0" filter="url(#ph3)"/>
<ellipse cx="626.83" cy="630.47" rx="2.16" ry="3.53" fill="#58ee58" opacity="0.60" filter="url(#gs)" transform="rotate(10 626.83 630.47)"/>
<ellipse cx="582.84" cy="660.75" rx="3.92" ry="1.96" fill="#58ee58" opacity="0.60" filter="url(#gs)" transform="rotate(-10 582.84 660.75)"/>
<ellipse cx="643.75" cy="672.68" rx="3.33" ry="4.31" fill="#58ee58" opacity="0.60" filter="url(#gs)" transform="rotate(-35 643.75 672.68)"/>
<ellipse cx="649.98" cy="669.29" rx="2.94" ry="3.13" fill="#58ee58" opacity="0.60" filter="url(#gs)" transform="rotate(0 649.98 669.29)"/>
<ellipse cx="624.52" cy="615.33" rx="1.76" ry="3.92" fill="#58ee58" opacity="0.51" filter="url(#gs)" transform="rotate(10 624.52 615.33)"/>
<ellipse cx="631.28" cy="609.10" rx="1.37" ry="2.74" fill="#58ee58" opacity="0.48" filter="url(#gs)" transform="rotate(0 631.28 609.10)"/>
<ellipse cx="619.71" cy="610.88" rx="1.96" ry="1.96" fill="#58ee58" opacity="0.48" filter="url(#gs)" transform="rotate(0 619.71 610.88)"/>
<ellipse cx="612.58" cy="643.83" rx="2.74" ry="1.76" fill="#58ee58" opacity="0.51" filter="url(#gs)" transform="rotate(-30 612.58 643.83)"/>
<ellipse cx="609.02" cy="639.91" rx="2.74" ry="1.57" fill="#58ee58" opacity="0.48" filter="url(#gs)" transform="rotate(0 609.02 639.91)"/>
<ellipse cx="613.83" cy="648.81" rx="2.35" ry="1.57" fill="#58ee58" opacity="0.48" filter="url(#gs)" transform="rotate(0 613.83 648.81)"/>
<ellipse cx="648.74" cy="642.94" rx="1.96" ry="1.96" fill="#58ee58" opacity="0.51" filter="url(#gs)" transform="rotate(0 648.74 642.94)"/>
<ellipse cx="656.22" cy="645.61" rx="1.76" ry="2.74" fill="#58ee58" opacity="0.48" filter="url(#gs)" transform="rotate(-20 656.22 645.61)"/>
<ellipse cx="645.53" cy="654.51" rx="1.96" ry="2.35" fill="#58ee58" opacity="0.48" filter="url(#gs)" transform="rotate(0 645.53 654.51)"/>
<ellipse cx="645.53" cy="663.42" rx="1.96" ry="1.96" fill="#58ee58" opacity="0.51" filter="url(#gs)" transform="rotate(0 645.53 663.42)"/>
<ellipse cx="618.82" cy="694.59" rx="1.96" ry="1.96" fill="#58ee58" opacity="0.54" filter="url(#gs)" transform="rotate(0 618.82 694.59)"/>
<ellipse cx="604.57" cy="687.82" rx="1.96" ry="1.96" fill="#58ee58" opacity="0.51" filter="url(#gs)" transform="rotate(0 604.57 687.82)"/>
<ellipse cx="567.17" cy="677.67" rx="1.76" ry="2.35" fill="#58ee58" opacity="0.51" filter="url(#gs)" transform="rotate(0 567.17 677.67)"/>
<ellipse cx="573.94" cy="661.28" rx="1.96" ry="2.35" fill="#58ee58" opacity="0.48" filter="url(#gs)" transform="rotate(0 573.94 661.28)"/>
<ellipse cx="573.94" cy="657.18" rx="1.57" ry="1.57" fill="#58ee58" opacity="0.42" filter="url(#gs)" transform="rotate(0 573.94 657.18)"/>
<ellipse cx="646.42" cy="609.99" rx="1.57" ry="1.57" fill="#58ee58" opacity="0.45" filter="url(#gs)" transform="rotate(0 646.42 609.99)"/>
<ellipse cx="651.77" cy="615.33" rx="1.57" ry="2.35" fill="#58ee58" opacity="0.42" filter="url(#gs)" transform="rotate(20 651.77 615.33)"/>
<ellipse cx="641.97" cy="631.36" rx="1.57" ry="1.57" fill="#58ee58" opacity="0.45" filter="url(#gs)" transform="rotate(0 641.97 631.36)"/>
<ellipse cx="647.31" cy="634.92" rx="1.57" ry="1.57" fill="#58ee58" opacity="0.45" filter="url(#gs)" transform="rotate(0 647.31 634.92)"/>
<ellipse cx="631.28" cy="627.80" rx="1.18" ry="3.13" fill="#58ee58" opacity="0.48" filter="url(#gs)" transform="rotate(0 631.28 627.80)"/>
<ellipse cx="667.79" cy="610.88" rx="1.18" ry="1.96" fill="#58ee58" opacity="0.48" filter="url(#gs)" transform="rotate(0 667.79 610.88)"/>
<ellipse cx="609.91" cy="612.66" rx="1.18" ry="2.35" fill="#58ee58" opacity="0.42" filter="url(#gs)" transform="rotate(20 609.91 612.66)"/>
<ellipse cx="597.44" cy="639.37" rx="2.35" ry="1.57" fill="#58ee58" opacity="0.36" filter="url(#gs)" transform="rotate(-30 597.44 639.37)"/>
<ellipse cx="592.99" cy="634.03" rx="1.57" ry="2.35" fill="#58ee58" opacity="0.30" filter="url(#gs)" transform="rotate(0 592.99 634.03)"/>
<ellipse cx="617.93" cy="618.89" rx="1.76" ry="1.96" fill="#58ee58" opacity="0.36" filter="url(#gs)" transform="rotate(0 617.93 618.89)"/>
<ellipse cx="661.56" cy="624.24" rx="1.57" ry="2.35" fill="#58ee58" opacity="0.30" filter="url(#gs)" transform="rotate(0 661.56 624.24)"/>
<ellipse cx="663.34" cy="634.03" rx="2.74" ry="1.57" fill="#58ee58" opacity="0.33" filter="url(#gs)" transform="rotate(0 663.34 634.03)"/>
<ellipse cx="663.34" cy="649.17" rx="1.57" ry="2.74" fill="#58ee58" opacity="0.30" filter="url(#gs)" transform="rotate(-20 663.34 649.17)"/>
<ellipse cx="650.88" cy="658.07" rx="1.96" ry="2.74" fill="#58ee58" opacity="0.33" filter="url(#gs)" transform="rotate(0 650.88 658.07)"/>
<ellipse cx="636.63" cy="657.18" rx="2.74" ry="1.76" fill="#58ee58" opacity="0.30" filter="url(#gs)" transform="rotate(0 636.63 657.18)"/>
<ellipse cx="630.39" cy="650.06" rx="1.96" ry="1.76" fill="#58ee58" opacity="0.30" filter="url(#gs)" transform="rotate(0 630.39 650.06)"/>
<ellipse cx="608.13" cy="669.65" rx="1.57" ry="2.35" fill="#58ee58" opacity="0.36" filter="url(#gs)" transform="rotate(0 608.13 669.65)"/>
<ellipse cx="614.36" cy="677.67" rx="2.35" ry="1.96" fill="#58ee58" opacity="0.36" filter="url(#gs)" transform="rotate(-30 614.36 677.67)"/>
<ellipse cx="585.87" cy="669.65" rx="1.96" ry="1.96" fill="#58ee58" opacity="0.30" filter="url(#gs)" transform="rotate(0 585.87 669.65)"/>
<ellipse cx="581.42" cy="673.21" rx="2.35" ry="1.76" fill="#58ee58" opacity="0.30" filter="url(#gs)" transform="rotate(0 581.42 673.21)"/>
<ellipse cx="573.40" cy="678.56" rx="1.96" ry="1.57" fill="#58ee58" opacity="0.36" filter="url(#gs)" transform="rotate(0 573.40 678.56)"/>
<ellipse cx="559.15" cy="672.32" rx="1.76" ry="1.96" fill="#58ee58" opacity="0.27" filter="url(#gs)" transform="rotate(0 559.15 672.32)"/>
<ellipse cx="559.15" cy="683.90" rx="1.96" ry="1.76" fill="#58ee58" opacity="0.30" filter="url(#gs)" transform="rotate(0 559.15 683.90)"/>
<ellipse cx="566.28" cy="683.90" rx="1.96" ry="1.76" fill="#58ee58" opacity="0.27" filter="url(#gs)" transform="rotate(0 566.28 683.90)"/>
<ellipse cx="601.01" cy="686.57" rx="1.96" ry="1.37" fill="#58ee58" opacity="0.42" filter="url(#gs)" transform="rotate(0 601.01 686.57)"/>
<ellipse cx="610.80" cy="683.90" rx="1.96" ry="1.96" fill="#58ee58" opacity="0.30" filter="url(#gs)" transform="rotate(0 610.80 683.90)"/>
<ellipse cx="628.61" cy="666.98" rx="2.35" ry="1.57" fill="#58ee58" opacity="0.30" filter="url(#gs)" transform="rotate(0 628.61 666.98)"/>
<ellipse cx="629.50" cy="677.67" rx="1.96" ry="1.57" fill="#58ee58" opacity="0.30" filter="url(#gs)" transform="rotate(0 629.50 677.67)"/>
<ellipse cx="623.27" cy="658.07" rx="1.96" ry="1.96" fill="#58ee58" opacity="0.27" filter="url(#gs)" transform="rotate(0 623.27 658.07)"/>
<ellipse cx="658.00" cy="679.45" rx="1.57" ry="1.76" fill="#58ee58" opacity="0.24" filter="url(#gs)" transform="rotate(0 658.00 679.45)"/>
<ellipse cx="647.31" cy="626.91" rx="1.57" ry="1.96" fill="#58ee58" opacity="0.36" filter="url(#gs)" transform="rotate(0 647.31 626.91)"/>
<ellipse cx="638.41" cy="613.55" rx="1.37" ry="1.76" fill="#58ee58" opacity="0.30" filter="url(#gs)" transform="rotate(0 638.41 613.55)"/>
<ellipse cx="603.22" cy="680.73" rx="1.49" ry="1.15" fill="#58ee58" opacity="0.18" filter="url(#gs)" transform="rotate(54 603.22 680.73)"/>
<ellipse cx="620.34" cy="641.89" rx="2.33" ry="1.02" fill="#58ee58" opacity="0.23" filter="url(#gs)" transform="rotate(-25 620.34 641.89)"/>
<ellipse cx="590.20" cy="679.76" rx="1.55" ry="1.44" fill="#58ee58" opacity="0.19" filter="url(#gs)" transform="rotate(-15 590.20 679.76)"/>
<ellipse cx="617.05" cy="611.74" rx="1.43" ry="1.14" fill="#58ee58" opacity="0.19" filter="url(#gs)" transform="rotate(-9 617.05 611.74)"/>
<ellipse cx="590.84" cy="658.94" rx="1.82" ry="1.21" fill="#58ee58" opacity="0.21" filter="url(#gs)" transform="rotate(24 590.84 658.94)"/>
<ellipse cx="582.98" cy="657.94" rx="1.89" ry="1.67" fill="#58ee58" opacity="0.20" filter="url(#gs)" transform="rotate(-25 582.98 657.94)"/>
<ellipse cx="559.99" cy="666.41" rx="2.12" ry="1.43" fill="#58ee58" opacity="0.23" filter="url(#gs)" transform="rotate(-22 559.99 666.41)"/>
<ellipse cx="633.61" cy="659.74" rx="1.94" ry="1.34" fill="#58ee58" opacity="0.22" filter="url(#gs)" transform="rotate(53 633.61 659.74)"/>
<ellipse cx="608.79" cy="666.04" rx="1.43" ry="1.53" fill="#58ee58" opacity="0.19" filter="url(#gs)" transform="rotate(59 608.79 666.04)"/>
<ellipse cx="631.46" cy="610.94" rx="2.25" ry="1.59" fill="#58ee58" opacity="0.23" filter="url(#gs)" transform="rotate(36 631.46 610.94)"/>
<ellipse cx="615.35" cy="676.42" rx="1.69" ry="1.15" fill="#58ee58" opacity="0.22" filter="url(#gs)" transform="rotate(58 615.35 676.42)"/>
<ellipse cx="584.67" cy="668.60" rx="2.31" ry="1.33" fill="#58ee58" opacity="0.24" filter="url(#gs)" transform="rotate(59 584.67 668.60)"/>
<ellipse cx="625.61" cy="687.36" rx="2.19" ry="1.36" fill="#58ee58" opacity="0.19" filter="url(#gs)" transform="rotate(36 625.61 687.36)"/>
<ellipse cx="565.10" cy="665.72" rx="2.26" ry="1.59" fill="#58ee58" opacity="0.21" filter="url(#gs)" transform="rotate(-3 565.10 665.72)"/>
<ellipse cx="575.62" cy="677.33" rx="1.70" ry="1.61" fill="#58ee58" opacity="0.25" filter="url(#gs)" transform="rotate(-12 575.62 677.33)"/>
<ellipse cx="657.12" cy="678.89" rx="1.51" ry="1.63" fill="#58ee58" opacity="0.25" filter="url(#gs)" transform="rotate(19 657.12 678.89)"/>
<ellipse cx="594.91" cy="655.61" rx="1.50" ry="0.99" fill="#58ee58" opacity="0.25" filter="url(#gs)" transform="rotate(18 594.91 655.61)"/>
<ellipse cx="614.68" cy="690.37" rx="1.80" ry="1.66" fill="#58ee58" opacity="0.22" filter="url(#gs)" transform="rotate(-35 614.68 690.37)"/>
<ellipse cx="556.03" cy="678.23" rx="1.54" ry="1.35" fill="#58ee58" opacity="0.20" filter="url(#gs)" transform="rotate(7 556.03 678.23)"/>
<ellipse cx="642.24" cy="651.91" rx="1.92" ry="1.58" fill="#58ee58" opacity="0.24" filter="url(#gs)" transform="rotate(-7 642.24 651.91)"/>
<ellipse cx="609.23" cy="691.08" rx="2.06" ry="1.67" fill="#58ee58" opacity="0.24" filter="url(#gs)" transform="rotate(-29 609.23 691.08)"/>
<ellipse cx="613.44" cy="636.69" rx="1.56" ry="1.23" fill="#58ee58" opacity="0.20" filter="url(#gs)" transform="rotate(-58 613.44 636.69)"/>
<ellipse cx="617.76" cy="645.84" rx="1.39" ry="1.24" fill="#58ee58" opacity="0.18" filter="url(#gs)" transform="rotate(1 617.76 645.84)"/>
<ellipse cx="632.81" cy="644.47" rx="1.44" ry="1.71" fill="#58ee58" opacity="0.19" filter="url(#gs)" transform="rotate(36 632.81 644.47)"/>
<ellipse cx="637.85" cy="655.83" rx="1.56" ry="1.35" fill="#58ee58" opacity="0.24" filter="url(#gs)" transform="rotate(-47 637.85 655.83)"/>
<ellipse cx="632.76" cy="694.78" rx="1.71" ry="1.63" fill="#58ee58" opacity="0.20" filter="url(#gs)" transform="rotate(16 632.76 694.78)"/>
<ellipse cx="621.30" cy="653.85" rx="2.11" ry="1.49" fill="#58ee58" opacity="0.20" filter="url(#gs)" transform="rotate(45 621.30 653.85)"/>
<ellipse cx="599.30" cy="635.52" rx="2.34" ry="1.10" fill="#58ee58" opacity="0.20" filter="url(#gs)" transform="rotate(17 599.30 635.52)"/>
<ellipse cx="560.50" cy="681.49" rx="2.25" ry="1.47" fill="#58ee58" opacity="0.20" filter="url(#gs)" transform="rotate(37 560.50 681.49)"/>
<ellipse cx="571.22" cy="653.36" rx="1.87" ry="1.63" fill="#58ee58" opacity="0.22" filter="url(#gs)" transform="rotate(39 571.22 653.36)"/>
<ellipse cx="567.36" cy="681.54" rx="1.92" ry="1.47" fill="#58ee58" opacity="0.18" filter="url(#gs)" transform="rotate(22 567.36 681.54)"/>
<ellipse cx="645.10" cy="673.64" rx="1.86" ry="1.40" fill="#58ee58" opacity="0.19" filter="url(#gs)" transform="rotate(-52 645.10 673.64)"/>
<ellipse cx="638.26" cy="628.84" rx="1.44" ry="1.19" fill="#58ee58" opacity="0.20" filter="url(#gs)" transform="rotate(-35 638.26 628.84)"/>
<ellipse cx="607.92" cy="616.77" rx="2.25" ry="1.14" fill="#58ee58" opacity="0.25" filter="url(#gs)" transform="rotate(52 607.92 616.77)"/>
<ellipse cx="579.23" cy="658.57" rx="1.51" ry="1.39" fill="#58ee58" opacity="0.24" filter="url(#gs)" transform="rotate(-44 579.23 658.57)"/>
<ellipse cx="555.79" cy="673.86" rx="2.19" ry="1.07" fill="#58ee58" opacity="0.24" filter="url(#gs)" transform="rotate(26 555.79 673.86)"/>
<ellipse cx="656.75" cy="632.24" rx="1.74" ry="1.29" fill="#58ee58" opacity="0.25" filter="url(#gs)" transform="rotate(11 656.75 632.24)"/>
<ellipse cx="597.48" cy="692.41" rx="2.24" ry="1.62" fill="#58ee58" opacity="0.19" filter="url(#gs)" transform="rotate(50 597.48 692.41)"/>
<ellipse cx="661.14" cy="655.66" rx="2.08" ry="1.02" fill="#58ee58" opacity="0.20" filter="url(#gs)" transform="rotate(-6 661.14 655.66)"/>
<ellipse cx="640.04" cy="664.26" rx="1.65" ry="1.02" fill="#58ee58" opacity="0.24" filter="url(#gs)" transform="rotate(-45 640.04 664.26)"/>
<ellipse cx="608.57" cy="637.10" rx="1.66" ry="1.56" fill="#58ee58" opacity="0.25" filter="url(#gs)" transform="rotate(-29 608.57 637.10)"/>
<ellipse cx="578.91" cy="687.87" rx="1.86" ry="1.15" fill="#58ee58" opacity="0.24" filter="url(#gs)" transform="rotate(60 578.91 687.87)"/>
<ellipse cx="597.88" cy="636.61" rx="1.43" ry="1.20" fill="#58ee58" opacity="0.25" filter="url(#gs)" transform="rotate(-45 597.88 636.61)"/>
<ellipse cx="600.45" cy="646.33" rx="2.31" ry="1.64" fill="#58ee58" opacity="0.23" filter="url(#gs)" transform="rotate(-57 600.45 646.33)"/>
<ellipse cx="599.52" cy="689.76" rx="2.18" ry="1.65" fill="#58ee58" opacity="0.25" filter="url(#gs)" transform="rotate(-30 599.52 689.76)"/>
<ellipse cx="614.20" cy="667.66" rx="2.29" ry="1.55" fill="#58ee58" opacity="0.19" filter="url(#gs)" transform="rotate(32 614.20 667.66)"/>
<ellipse cx="628.02" cy="633.50" rx="1.50" ry="1.18" fill="#58ee58" opacity="0.19" filter="url(#gs)" transform="rotate(24 628.02 633.50)"/>
<ellipse cx="614.43" cy="658.70" rx="1.75" ry="1.15" fill="#58ee58" opacity="0.18" filter="url(#gs)" transform="rotate(-59 614.43 658.70)"/>
<ellipse cx="589.42" cy="647.67" rx="2.31" ry="1.48" fill="#58ee58" opacity="0.23" filter="url(#gs)" transform="rotate(-3 589.42 647.67)"/>
<ellipse cx="593.52" cy="644.04" rx="2.04" ry="1.13" fill="#58ee58" opacity="0.22" filter="url(#gs)" transform="rotate(29 593.52 644.04)"/>
<ellipse cx="612.24" cy="624.60" rx="2.32" ry="1.22" fill="#58ee58" opacity="0.22" filter="url(#gs)" transform="rotate(-32 612.24 624.60)"/>
<ellipse cx="656.37" cy="685.85" rx="2.09" ry="1.76" fill="#58ee58" opacity="0.24" filter="url(#gs)" transform="rotate(-20 656.37 685.85)"/>
<ellipse cx="576.41" cy="690.58" rx="2.10" ry="1.00" fill="#58ee58" opacity="0.19" filter="url(#gs)" transform="rotate(-15 576.41 690.58)"/>
<ellipse cx="656.24" cy="608.80" rx="1.77" ry="1.62" fill="#58ee58" opacity="0.21" filter="url(#gs)" transform="rotate(-55 656.24 608.80)"/>
<ellipse cx="556.01" cy="674.30" rx="2.27" ry="1.48" fill="#58ee58" opacity="0.24" filter="url(#gs)" transform="rotate(-57 556.01 674.30)"/>
<ellipse cx="603.83" cy="650.63" rx="2.28" ry="1.12" fill="#58ee58" opacity="0.22" filter="url(#gs)" transform="rotate(29 603.83 650.63)"/>
<ellipse cx="559.39" cy="655.97" rx="1.69" ry="1.75" fill="#58ee58" opacity="0.23" filter="url(#gs)" transform="rotate(59 559.39 655.97)"/>
<ellipse cx="625.19" cy="666.94" rx="2.10" ry="1.64" fill="#58ee58" opacity="0.19" filter="url(#gs)" transform="rotate(-45 625.19 666.94)"/>
<ellipse cx="649.94" cy="632.60" rx="1.93" ry="1.27" fill="#58ee58" opacity="0.20" filter="url(#gs)" transform="rotate(-36 649.94 632.60)"/>
<ellipse cx="612.51" cy="626.96" rx="2.16" ry="1.49" fill="#58ee58" opacity="0.25" filter="url(#gs)" transform="rotate(-48 612.51 626.96)"/>
<ellipse cx="664.76" cy="658.73" rx="2.28" ry="1.27" fill="#58ee58" opacity="0.23" filter="url(#gs)" transform="rotate(-6 664.76 658.73)"/>
<ellipse cx="628.71" cy="624.44" rx="1.38" ry="1.24" fill="#58ee58" opacity="0.19" filter="url(#gs)" transform="rotate(-38 628.71 624.44)"/>
<ellipse cx="652.56" cy="696.06" rx="1.73" ry="1.13" fill="#58ee58" opacity="0.20" filter="url(#gs)" transform="rotate(-36 652.56 696.06)"/>
<ellipse cx="607.31" cy="620.75" rx="1.39" ry="1.41" fill="#58ee58" opacity="0.19" filter="url(#gs)" transform="rotate(49 607.31 620.75)"/>
<ellipse cx="614.07" cy="689.64" rx="1.48" ry="1.36" fill="#58ee58" opacity="0.22" filter="url(#gs)" transform="rotate(56 614.07 689.64)"/>
<ellipse cx="661.41" cy="694.16" rx="1.84" ry="1.02" fill="#58ee58" opacity="0.24" filter="url(#gs)" transform="rotate(-13 661.41 694.16)"/>
<ellipse cx="657.05" cy="662.08" rx="2.18" ry="1.11" fill="#58ee58" opacity="0.21" filter="url(#gs)" transform="rotate(-33 657.05 662.08)"/>
<ellipse cx="613.70" cy="640.70" rx="1.49" ry="1.17" fill="#58ee58" opacity="0.20" filter="url(#gs)" transform="rotate(48 613.70 640.70)"/>
<ellipse cx="560.20" cy="656.85" rx="2.11" ry="1.01" fill="#58ee58" opacity="0.22" filter="url(#gs)" transform="rotate(-46 560.20 656.85)"/>
</g>
<rect x="633.00" y="692.60" width="33.80" height="2.10" fill="#fff" stroke="none" stroke-width="1.0"/>
<text x="16.00" y="715.80" font-size="18" font-weight="bold" text-anchor="start" fill="#000">i</text>
<path d="M58.39,855.41C58.39,852.45 58.39,843.32 58.39,837.63C58.39,831.94 58.29,825.02 58.39,821.28C58.50,817.53 58.67,817.02 59.01,815.15C59.35,813.27 59.69,811.57 60.44,810.04C61.19,808.50 62.31,807.31 63.50,805.95C64.70,804.59 66.06,803.33 67.59,801.86C69.12,800.40 71.30,798.52 72.70,797.16C74.10,795.80 75.12,794.95 75.97,793.69C76.82,792.43 77.37,791.30 77.81,789.60C78.25,787.90 78.42,786.02 78.63,783.47C78.83,780.91 78.97,775.80 79.04,774.27 L79.45,774.27C79.51,775.80 79.65,780.91 79.85,783.47C80.06,786.02 80.23,787.90 80.67,789.60C81.11,791.30 81.63,792.43 82.51,793.69C83.40,794.95 84.55,795.80 85.99,797.16C87.42,798.52 89.49,800.40 91.09,801.86C92.70,803.33 94.36,804.59 95.59,805.95C96.82,807.31 97.74,808.50 98.45,810.04C99.17,811.57 99.54,813.27 99.88,815.15C100.22,817.02 100.39,817.53 100.50,821.28C100.60,825.02 100.50,831.94 100.50,837.63C100.50,843.32 100.50,852.45 100.50,855.41Z" fill="#c2c2c2" stroke="#8c8c8c" stroke-width="0.7" stroke-linejoin="round"/>
<path d="M78.12,803.16H80.42M79.27,802.01V804.31" stroke="#8a8a8a" stroke-width="0.6" fill="none"/>
<path d="M78.16,814.09H80.46M79.31,812.94V815.24" stroke="#8a8a8a" stroke-width="0.6" fill="none"/>
<path d="M77.79,835.26H80.09M78.94,834.11V836.41" stroke="#8a8a8a" stroke-width="0.6" fill="none"/>
<path d="M78.33,784.56H80.63M79.48,783.41V785.71" stroke="#8a8a8a" stroke-width="0.6" fill="none"/>
<path d="M77.90,804.93H80.20M79.05,803.78V806.08" stroke="#8a8a8a" stroke-width="0.6" fill="none"/>
<path d="M78.07,865.88H80.37M79.22,864.73V867.03" stroke="#8a8a8a" stroke-width="0.6" fill="none"/>
<path d="M78.07,852.70H80.37M79.22,851.55V853.85" stroke="#8a8a8a" stroke-width="0.6" fill="none"/>
<path d="M77.85,836.37H80.15M79.00,835.22V837.52" stroke="#8a8a8a" stroke-width="0.6" fill="none"/>
<path d="M78.35,836.02H80.65M79.50,834.87V837.17" stroke="#8a8a8a" stroke-width="0.6" fill="none"/>
<path d="M78.26,826.77H80.56M79.41,825.62V827.92" stroke="#8a8a8a" stroke-width="0.6" fill="none"/>
<path d="M77.79,839.04H80.09M78.94,837.89V840.19" stroke="#8a8a8a" stroke-width="0.6" fill="none"/>
<path d="M78.15,846.23H80.45M79.30,845.08V847.38" stroke="#8a8a8a" stroke-width="0.6" fill="none"/>
<path d="M77.76,808.40H80.06M78.91,807.25V809.55" stroke="#8a8a8a" stroke-width="0.6" fill="none"/>
<path d="M78.07,855.11H80.37M79.22,853.96V856.26" stroke="#8a8a8a" stroke-width="0.6" fill="none"/>
<path d="M78.36,842.97H80.66M79.51,841.82V844.12" stroke="#8a8a8a" stroke-width="0.6" fill="none"/>
<path d="M78.39,842.58H80.69M79.54,841.43V843.73" stroke="#8a8a8a" stroke-width="0.6" fill="none"/>
<path d="M78.30,816.16H80.60M79.45,815.01V817.31" stroke="#8a8a8a" stroke-width="0.6" fill="none"/>
<path d="M78.40,820.27H80.70M79.55,819.12V821.42" stroke="#8a8a8a" stroke-width="0.6" fill="none"/>
<path d="M77.81,856.21H80.11M78.96,855.06V857.36" stroke="#8a8a8a" stroke-width="0.6" fill="none"/>
<path d="M77.89,794.72H80.19M79.04,793.57V795.87" stroke="#8a8a8a" stroke-width="0.6" fill="none"/>
<path d="M78.05,863.38H80.35M79.20,862.23V864.53" stroke="#8a8a8a" stroke-width="0.6" fill="none"/>
<path d="M77.95,835.34H80.25M79.10,834.19V836.49" stroke="#8a8a8a" stroke-width="0.6" fill="none"/>
<path d="M78.01,825.45H80.31M79.16,824.30V826.60" stroke="#8a8a8a" stroke-width="0.6" fill="none"/>
<path d="M78.15,812.51H80.45M79.30,811.36V813.66" stroke="#8a8a8a" stroke-width="0.6" fill="none"/>
<path d="M78.37,831.83H80.67M79.52,830.68V832.98" stroke="#8a8a8a" stroke-width="0.6" fill="none"/>
<path d="M78.39,839.92H80.69M79.54,838.77V841.07" stroke="#8a8a8a" stroke-width="0.6" fill="none"/>
<path d="M78.43,854.35H80.73M79.58,853.20V855.50" stroke="#8a8a8a" stroke-width="0.6" fill="none"/>
<path d="M77.86,839.03H80.16M79.01,837.88V840.18" stroke="#8a8a8a" stroke-width="0.6" fill="none"/>
<path d="M78.42,854.71H80.72M79.57,853.56V855.86" stroke="#8a8a8a" stroke-width="0.6" fill="none"/>
<path d="M78.14,858.35H80.44M79.29,857.20V859.50" stroke="#8a8a8a" stroke-width="0.6" fill="none"/>
<path d="M77.89,842.55H80.19M79.04,841.40V843.70" stroke="#8a8a8a" stroke-width="0.6" fill="none"/>
<path d="M78.14,852.30H80.44M79.29,851.15V853.45" stroke="#8a8a8a" stroke-width="0.6" fill="none"/>
<path d="M77.79,807.05H80.09M78.94,805.90V808.20" stroke="#8a8a8a" stroke-width="0.6" fill="none"/>
<path d="M78.43,854.15H80.73M79.58,853.00V855.30" stroke="#8a8a8a" stroke-width="0.6" fill="none"/>
<path d="M78.30,790.79H80.60M79.45,789.64V791.94" stroke="#8a8a8a" stroke-width="0.6" fill="none"/>
<path d="M77.85,817.44H80.15M79.00,816.29V818.59" stroke="#8a8a8a" stroke-width="0.6" fill="none"/>
<path d="M78.28,807.79H80.58M79.43,806.64V808.94" stroke="#8a8a8a" stroke-width="0.6" fill="none"/>
<path d="M77.77,855.71H80.07M78.92,854.56V856.86" stroke="#8a8a8a" stroke-width="0.6" fill="none"/>
<path d="M77.77,834.33H80.07M78.92,833.18V835.48" stroke="#8a8a8a" stroke-width="0.6" fill="none"/>
<path d="M77.97,842.94H80.27M79.12,841.79V844.09" stroke="#8a8a8a" stroke-width="0.6" fill="none"/>
<path d="M78.43,856.38H80.73M79.58,855.23V857.53" stroke="#8a8a8a" stroke-width="0.6" fill="none"/>
<path d="M78.44,825.30H80.74M79.59,824.15V826.45" stroke="#8a8a8a" stroke-width="0.6" fill="none"/>
<path d="M77.79,809.10H80.09M78.94,807.95V810.25" stroke="#8a8a8a" stroke-width="0.6" fill="none"/>
<path d="M77.76,833.11H80.06M78.91,831.96V834.26" stroke="#8a8a8a" stroke-width="0.6" fill="none"/>
<path d="M78.03,799.81H80.33M79.18,798.66V800.96" stroke="#8a8a8a" stroke-width="0.6" fill="none"/>
<path d="M77.85,834.00H80.15M79.00,832.85V835.15" stroke="#8a8a8a" stroke-width="0.6" fill="none"/>
<path d="M78.35,786.98H80.65M79.50,785.83V788.13" stroke="#8a8a8a" stroke-width="0.6" fill="none"/>
<path d="M78.41,809.44H80.71M79.56,808.29V810.59" stroke="#8a8a8a" stroke-width="0.6" fill="none"/>
<path d="M78.01,857.69H80.31M79.16,856.54V858.84" stroke="#8a8a8a" stroke-width="0.6" fill="none"/>
<path d="M78.10,821.58H80.40M79.25,820.43V822.73" stroke="#8a8a8a" stroke-width="0.6" fill="none"/>
<path d="M78.16,836.76H80.46M79.31,835.61V837.91" stroke="#8a8a8a" stroke-width="0.6" fill="none"/>
<path d="M78.17,829.76H80.47M79.32,828.61V830.91" stroke="#8a8a8a" stroke-width="0.6" fill="none"/>
<path d="M78.10,861.33H80.40M79.25,860.18V862.48" stroke="#8a8a8a" stroke-width="0.6" fill="none"/>
<path d="M78.25,819.16H80.55M79.40,818.01V820.31" stroke="#8a8a8a" stroke-width="0.6" fill="none"/>
<path d="M77.95,803.14H80.25M79.10,801.99V804.29" stroke="#8a8a8a" stroke-width="0.6" fill="none"/>
<path d="M78.11,864.40H80.41M79.26,863.25V865.55" stroke="#8a8a8a" stroke-width="0.6" fill="none"/>
<path d="M77.75,828.86H80.05M78.90,827.71V830.01" stroke="#8a8a8a" stroke-width="0.6" fill="none"/>
<path d="M78.15,817.84H80.45M79.30,816.69V818.99" stroke="#8a8a8a" stroke-width="0.6" fill="none"/>
<path d="M78.17,785.13H80.47M79.32,783.98V786.28" stroke="#8a8a8a" stroke-width="0.6" fill="none"/>
<path d="M77.78,835.80H80.08M78.93,834.65V836.95" stroke="#8a8a8a" stroke-width="0.6" fill="none"/>
<path d="M78.07,835.39H80.37M79.22,834.24V836.54" stroke="#8a8a8a" stroke-width="0.6" fill="none"/>
<path d="M77.99,839.69H80.29M79.14,838.54V840.84" stroke="#8a8a8a" stroke-width="0.6" fill="none"/>
<path d="M78.26,841.98H80.56M79.41,840.83V843.13" stroke="#8a8a8a" stroke-width="0.6" fill="none"/>
<path d="M77.78,785.30H80.08M78.93,784.15V786.45" stroke="#8a8a8a" stroke-width="0.6" fill="none"/>
<path d="M78.42,839.42H80.72M79.57,838.27V840.57" stroke="#8a8a8a" stroke-width="0.6" fill="none"/>
<path d="M78.06,804.25H80.36M79.21,803.10V805.40" stroke="#8a8a8a" stroke-width="0.6" fill="none"/>
<path d="M77.96,832.52H80.26M79.11,831.37V833.67" stroke="#8a8a8a" stroke-width="0.6" fill="none"/>
<path d="M77.96,813.59H80.26M79.11,812.44V814.74" stroke="#8a8a8a" stroke-width="0.6" fill="none"/>
<path d="M78.16,814.02H80.46M79.31,812.87V815.17" stroke="#8a8a8a" stroke-width="0.6" fill="none"/>
<path d="M78.00,808.33H80.30M79.15,807.18V809.48" stroke="#8a8a8a" stroke-width="0.6" fill="none"/>
<path d="M77.76,847.39H80.06M78.91,846.24V848.54" stroke="#8a8a8a" stroke-width="0.6" fill="none"/>
<path d="M78.26,830.59H80.56M79.41,829.44V831.74" stroke="#8a8a8a" stroke-width="0.6" fill="none"/>
<path d="M77.90,809.13H80.20M79.05,807.98V810.28" stroke="#8a8a8a" stroke-width="0.6" fill="none"/>
<path d="M77.91,850.00H80.21M79.06,848.85V851.15" stroke="#8a8a8a" stroke-width="0.6" fill="none"/>
<path d="M78.05,798.98H80.35M79.20,797.83V800.13" stroke="#8a8a8a" stroke-width="0.6" fill="none"/>
<path d="M77.81,841.25H80.11M78.96,840.10V842.40" stroke="#8a8a8a" stroke-width="0.6" fill="none"/>
<path d="M77.97,810.12H80.27M79.12,808.97V811.27" stroke="#8a8a8a" stroke-width="0.6" fill="none"/>
<path d="M78.05,852.46H80.35M79.20,851.31V853.61" stroke="#8a8a8a" stroke-width="0.6" fill="none"/>
<path d="M77.86,854.28H80.16M79.01,853.13V855.43" stroke="#8a8a8a" stroke-width="0.6" fill="none"/>
<path d="M78.20,811.34H80.50M79.35,810.19V812.49" stroke="#8a8a8a" stroke-width="0.6" fill="none"/>
<path d="M78.06,856.71H80.36M79.21,855.56V857.86" stroke="#8a8a8a" stroke-width="0.6" fill="none"/>
<path d="M77.83,802.09H80.13M78.98,800.94V803.24" stroke="#8a8a8a" stroke-width="0.6" fill="none"/>
<path d="M77.87,827.31H80.17M79.02,826.16V828.46" stroke="#8a8a8a" stroke-width="0.6" fill="none"/>
<path d="M78.33,850.25H80.63M79.48,849.10V851.40" stroke="#8a8a8a" stroke-width="0.6" fill="none"/>
<path d="M77.94,798.66H80.24M79.09,797.51V799.81" stroke="#8a8a8a" stroke-width="0.6" fill="none"/>
<path d="M78.19,850.28H80.49M79.34,849.13V851.43" stroke="#8a8a8a" stroke-width="0.6" fill="none"/>
<path d="M77.98,850.20H80.28M79.13,849.05V851.35" stroke="#8a8a8a" stroke-width="0.6" fill="none"/>
<path d="M77.95,794.20H80.25M79.10,793.05V795.35" stroke="#8a8a8a" stroke-width="0.6" fill="none"/>
<path d="M77.93,849.18H80.23M79.08,848.03V850.33" stroke="#8a8a8a" stroke-width="0.6" fill="none"/>
<path d="M78.03,812.14H80.33M79.18,810.99V813.29" stroke="#8a8a8a" stroke-width="0.6" fill="none"/>
<path d="M78.03,818.21H80.33M79.18,817.06V819.36" stroke="#8a8a8a" stroke-width="0.6" fill="none"/>
<path d="M77.85,859.67H80.15M79.00,858.52V860.82" stroke="#8a8a8a" stroke-width="0.6" fill="none"/>
<path d="M78.40,783.85H80.70M79.55,782.70V785.00" stroke="#8a8a8a" stroke-width="0.6" fill="none"/>
<path d="M78.43,856.31H80.73M79.58,855.16V857.46" stroke="#8a8a8a" stroke-width="0.6" fill="none"/>
<path d="M78.41,819.42H80.71M79.56,818.27V820.57" stroke="#8a8a8a" stroke-width="0.6" fill="none"/>
<path d="M77.90,860.23H80.20M79.05,859.08V861.38" stroke="#8a8a8a" stroke-width="0.6" fill="none"/>
<path d="M78.33,845.18H80.63M79.48,844.03V846.33" stroke="#8a8a8a" stroke-width="0.6" fill="none"/>
<path d="M78.10,838.35H80.40M79.25,837.20V839.50" stroke="#8a8a8a" stroke-width="0.6" fill="none"/>
<path d="M77.98,807.39H80.28M79.13,806.24V808.54" stroke="#8a8a8a" stroke-width="0.6" fill="none"/>
<path d="M77.79,802.30H80.09M78.94,801.15V803.45" stroke="#8a8a8a" stroke-width="0.6" fill="none"/>
<path d="M77.94,832.19H80.24M79.09,831.04V833.34" stroke="#8a8a8a" stroke-width="0.6" fill="none"/>
<path d="M77.77,850.53H80.07M78.92,849.38V851.68" stroke="#8a8a8a" stroke-width="0.6" fill="none"/>
<path d="M78.23,858.26H80.53M79.38,857.11V859.41" stroke="#8a8a8a" stroke-width="0.6" fill="none"/>
<path d="M78.37,859.94H80.67M79.52,858.79V861.09" stroke="#8a8a8a" stroke-width="0.6" fill="none"/>
<path d="M78.14,857.94H80.44M79.29,856.79V859.09" stroke="#8a8a8a" stroke-width="0.6" fill="none"/>
<path d="M78.26,784.56H80.56M79.41,783.41V785.71" stroke="#8a8a8a" stroke-width="0.6" fill="none"/>
<path d="M77.95,797.69H80.25M79.10,796.54V798.84" stroke="#8a8a8a" stroke-width="0.6" fill="none"/>
<path d="M78.11,838.34H80.41M79.26,837.19V839.49" stroke="#8a8a8a" stroke-width="0.6" fill="none"/>
<path d="M78.40,817.71H80.70M79.55,816.56V818.86" stroke="#8a8a8a" stroke-width="0.6" fill="none"/>
<path d="M77.98,834.14H80.28M79.13,832.99V835.29" stroke="#8a8a8a" stroke-width="0.6" fill="none"/>
<path d="M78.34,804.37H80.64M79.49,803.22V805.52" stroke="#8a8a8a" stroke-width="0.6" fill="none"/>
<path d="M78.29,822.97H80.59M79.44,821.82V824.12" stroke="#8a8a8a" stroke-width="0.6" fill="none"/>
<path d="M77.88,812.59H80.18M79.03,811.44V813.74" stroke="#8a8a8a" stroke-width="0.6" fill="none"/>
<path d="M78.31,827.72H80.61M79.46,826.57V828.87" stroke="#8a8a8a" stroke-width="0.6" fill="none"/>
<path d="M78.30,797.65H80.60M79.45,796.50V798.80" stroke="#8a8a8a" stroke-width="0.6" fill="none"/>
<path d="M78.31,859.77H80.61M79.46,858.62V860.92" stroke="#8a8a8a" stroke-width="0.6" fill="none"/>
<path d="M77.75,851.63H80.05M78.90,850.48V852.78" stroke="#8a8a8a" stroke-width="0.6" fill="none"/>
<path d="M78.34,835.50H80.64M79.49,834.35V836.65" stroke="#8a8a8a" stroke-width="0.6" fill="none"/>
<path d="M77.93,787.60H80.23M79.08,786.45V788.75" stroke="#8a8a8a" stroke-width="0.6" fill="none"/>
<path d="M78.11,805.70H80.41M79.26,804.55V806.85" stroke="#8a8a8a" stroke-width="0.6" fill="none"/>
<path d="M78.07,818.48H80.37M79.22,817.33V819.63" stroke="#8a8a8a" stroke-width="0.6" fill="none"/>
<path d="M77.74,847.74H80.04M78.89,846.59V848.89" stroke="#8a8a8a" stroke-width="0.6" fill="none"/>
<path d="M77.83,788.01H80.13M78.98,786.86V789.16" stroke="#8a8a8a" stroke-width="0.6" fill="none"/>
<path d="M77.79,793.78H80.09M78.94,792.63V794.93" stroke="#8a8a8a" stroke-width="0.6" fill="none"/>
<path d="M78.34,864.15H80.64M79.49,863.00V865.30" stroke="#8a8a8a" stroke-width="0.6" fill="none"/>
<path d="M78.09,790.60H80.39M79.24,789.45V791.75" stroke="#8a8a8a" stroke-width="0.6" fill="none"/>
<path d="M77.96,809.62H80.26M79.11,808.47V810.77" stroke="#8a8a8a" stroke-width="0.6" fill="none"/>
<path d="M78.19,812.54H80.49M79.34,811.39V813.69" stroke="#8a8a8a" stroke-width="0.6" fill="none"/>
<path d="M77.99,832.02H80.29M79.14,830.87V833.17" stroke="#8a8a8a" stroke-width="0.6" fill="none"/>
<path d="M77.97,799.28H80.27M79.12,798.13V800.43" stroke="#8a8a8a" stroke-width="0.6" fill="none"/>
<path d="M78.13,793.71H80.43M79.28,792.56V794.86" stroke="#8a8a8a" stroke-width="0.6" fill="none"/>
<path d="M78.01,842.74H80.31M79.16,841.59V843.89" stroke="#8a8a8a" stroke-width="0.6" fill="none"/>
<path d="M77.87,790.08H80.17M79.02,788.93V791.23" stroke="#8a8a8a" stroke-width="0.6" fill="none"/>
<path d="M78.16,814.36H80.46M79.31,813.21V815.51" stroke="#8a8a8a" stroke-width="0.6" fill="none"/>
<path d="M78.01,848.25H80.31M79.16,847.10V849.40" stroke="#8a8a8a" stroke-width="0.6" fill="none"/>
<path d="M78.18,849.78H80.48M79.33,848.63V850.93" stroke="#8a8a8a" stroke-width="0.6" fill="none"/>
<path d="M78.00,819.19H80.30M79.15,818.04V820.34" stroke="#8a8a8a" stroke-width="0.6" fill="none"/>
<path d="M78.23,824.54H80.53M79.38,823.39V825.69" stroke="#8a8a8a" stroke-width="0.6" fill="none"/>
<path d="M78.23,818.27H80.53M79.38,817.12V819.42" stroke="#8a8a8a" stroke-width="0.6" fill="none"/>
<path d="M77.91,821.61H80.21M79.06,820.46V822.76" stroke="#8a8a8a" stroke-width="0.6" fill="none"/>
<path d="M78.23,827.82H80.53M79.38,826.67V828.97" stroke="#8a8a8a" stroke-width="0.6" fill="none"/>
<path d="M78.04,789.39H80.34M79.19,788.24V790.54" stroke="#8a8a8a" stroke-width="0.6" fill="none"/>
<path d="M78.36,818.72H80.66M79.51,817.57V819.87" stroke="#8a8a8a" stroke-width="0.6" fill="none"/>
<path d="M78.00,860.98H80.30M79.15,859.83V862.13" stroke="#8a8a8a" stroke-width="0.6" fill="none"/>
<path d="M78.29,857.79H80.59M79.44,856.64V858.94" stroke="#8a8a8a" stroke-width="0.6" fill="none"/>
<path d="M78.07,805.17H80.37M79.22,804.02V806.32" stroke="#8a8a8a" stroke-width="0.6" fill="none"/>
<path d="M78.31,793.66H80.61M79.46,792.51V794.81" stroke="#8a8a8a" stroke-width="0.6" fill="none"/>
<path d="M78.36,838.29H80.66M79.51,837.14V839.44" stroke="#8a8a8a" stroke-width="0.6" fill="none"/>
<path d="M78.21,849.06H80.51M79.36,847.91V850.21" stroke="#8a8a8a" stroke-width="0.6" fill="none"/>
<path d="M78.14,844.20H80.44M79.29,843.05V845.35" stroke="#8a8a8a" stroke-width="0.6" fill="none"/>
<path d="M78.15,792.00H80.45M79.30,790.85V793.15" stroke="#8a8a8a" stroke-width="0.6" fill="none"/>
<path d="M77.84,783.87H80.14M78.99,782.72V785.02" stroke="#8a8a8a" stroke-width="0.6" fill="none"/>
<path d="M77.77,847.56H80.07M78.92,846.41V848.71" stroke="#8a8a8a" stroke-width="0.6" fill="none"/>
<path d="M77.81,791.07H80.11M78.96,789.92V792.22" stroke="#8a8a8a" stroke-width="0.6" fill="none"/>
<path d="M77.87,856.35H80.17M79.02,855.20V857.50" stroke="#8a8a8a" stroke-width="0.6" fill="none"/>
<path d="M78.33,785.41H80.63M79.48,784.26V786.56" stroke="#8a8a8a" stroke-width="0.6" fill="none"/>
<path d="M78.33,793.51H80.63M79.48,792.36V794.66" stroke="#8a8a8a" stroke-width="0.6" fill="none"/>
<path d="M78.33,839.22H80.63M79.48,838.07V840.37" stroke="#8a8a8a" stroke-width="0.6" fill="none"/>
<path d="M78.15,862.30H80.45M79.30,861.15V863.45" stroke="#8a8a8a" stroke-width="0.6" fill="none"/>
<path d="M77.77,849.58H80.07M78.92,848.43V850.73" stroke="#8a8a8a" stroke-width="0.6" fill="none"/>
<path d="M78.04,771.82H80.44M79.24,770.62V773.02" stroke="#8a8a8a" stroke-width="0.6" fill="none"/>
<path d="M78.04,774.27H80.44M79.24,773.07V775.47" stroke="#8a8a8a" stroke-width="0.6" fill="none"/>
<path d="M78.04,868.28H80.44M79.24,867.08V869.48" stroke="#8a8a8a" stroke-width="0.6" fill="none"/>
<path d="M78.04,871.96H80.44M79.24,870.76V873.16" stroke="#8a8a8a" stroke-width="0.6" fill="none"/>
<path d="M130.95,855.41C130.95,852.45 131.02,844.00 130.95,837.63C130.88,831.26 130.71,824.00 130.54,817.19C130.37,810.38 130.30,802.54 129.93,796.75C129.55,790.96 128.94,786.87 128.29,782.45C127.64,778.02 126.69,773.76 126.04,770.18C125.40,766.61 124.55,763.44 124.41,760.99C124.27,758.53 124.65,757.07 125.23,755.47C125.81,753.87 127.07,752.61 127.88,751.38C128.70,750.15 129.48,749.34 130.13,748.11C130.78,746.88 130.85,745.25 131.77,744.02C132.69,742.80 134.18,741.50 135.65,740.75C137.11,740.00 139.74,739.73 140.55,739.53 L140.55,739.53C141.37,739.73 143.96,740.00 145.46,740.75C146.96,741.50 148.59,742.80 149.55,744.02C150.50,745.25 150.57,746.88 151.18,748.11C151.80,749.34 152.44,750.15 153.23,751.38C154.01,752.61 155.34,753.87 155.88,755.47C156.43,757.07 156.63,758.53 156.50,760.99C156.36,763.44 155.68,766.61 155.07,770.18C154.45,773.76 153.43,778.02 152.82,782.45C152.20,786.87 151.76,790.96 151.39,796.75C151.01,802.54 150.74,810.38 150.57,817.19C150.40,824.00 150.40,831.26 150.36,837.63C150.33,844.00 150.36,852.45 150.36,855.41Z" fill="#ed1b3a" stroke="#ed1b3a" stroke-width="0.5" stroke-linejoin="round"/>
<path d="M139.41,759.37H141.71M140.56,758.22V760.52" stroke="#b00f24" stroke-width="0.6" fill="none"/>
<path d="M139.17,758.09H141.47M140.32,756.94V759.24" stroke="#b00f24" stroke-width="0.6" fill="none"/>
<path d="M139.67,758.92H141.97M140.82,757.77V760.07" stroke="#b00f24" stroke-width="0.6" fill="none"/>
<path d="M139.30,742.05H141.60M140.45,740.90V743.20" stroke="#b00f24" stroke-width="0.6" fill="none"/>
<path d="M139.60,754.38H141.90M140.75,753.23V755.53" stroke="#b00f24" stroke-width="0.6" fill="none"/>
<path d="M139.21,746.49H141.51M140.36,745.34V747.64" stroke="#b00f24" stroke-width="0.6" fill="none"/>
<path d="M139.47,746.68H141.77M140.62,745.53V747.83" stroke="#b00f24" stroke-width="0.6" fill="none"/>
<path d="M139.34,759.03H141.64M140.49,757.88V760.18" stroke="#b00f24" stroke-width="0.6" fill="none"/>
<path d="M139.34,749.56H141.64M140.49,748.41V750.71" stroke="#b00f24" stroke-width="0.6" fill="none"/>
<path d="M139.36,749.14H141.66M140.51,747.99V750.29" stroke="#b00f24" stroke-width="0.6" fill="none"/>
<path d="M139.40,742.59H141.70M140.55,741.44V743.74" stroke="#b00f24" stroke-width="0.6" fill="none"/>
<path d="M139.35,764.41H141.65M140.50,763.26V765.56" stroke="#b00f24" stroke-width="0.6" fill="none"/>
<path d="M139.20,758.88H141.50M140.35,757.73V760.03" stroke="#b00f24" stroke-width="0.6" fill="none"/>
<path d="M139.56,757.49H141.86M140.71,756.34V758.64" stroke="#b00f24" stroke-width="0.6" fill="none"/>
<path d="M139.41,757.07H141.71M140.56,755.92V758.22" stroke="#b00f24" stroke-width="0.6" fill="none"/>
<path d="M139.49,752.41H141.79M140.64,751.26V753.56" stroke="#b00f24" stroke-width="0.6" fill="none"/>
<path d="M139.19,762.56H141.49M140.34,761.41V763.71" stroke="#b00f24" stroke-width="0.6" fill="none"/>
<path d="M139.55,742.90H141.85M140.70,741.75V744.05" stroke="#b00f24" stroke-width="0.6" fill="none"/>
<path d="M139.42,763.03H141.72M140.57,761.88V764.18" stroke="#b00f24" stroke-width="0.6" fill="none"/>
<path d="M139.54,751.41H141.84M140.69,750.26V752.56" stroke="#b00f24" stroke-width="0.6" fill="none"/>
<path d="M139.27,745.11H141.57M140.42,743.96V746.26" stroke="#b00f24" stroke-width="0.6" fill="none"/>
<path d="M139.46,745.43H141.76M140.61,744.28V746.58" stroke="#b00f24" stroke-width="0.6" fill="none"/>
<path d="M139.24,748.27H141.54M140.39,747.12V749.42" stroke="#b00f24" stroke-width="0.6" fill="none"/>
<path d="M139.68,757.50H141.98M140.83,756.35V758.65" stroke="#b00f24" stroke-width="0.6" fill="none"/>
<path d="M139.53,747.80H141.83M140.68,746.65V748.95" stroke="#b00f24" stroke-width="0.6" fill="none"/>
<path d="M139.62,750.68H141.92M140.77,749.53V751.83" stroke="#b00f24" stroke-width="0.6" fill="none"/>
<path d="M139.27,754.89H141.57M140.42,753.74V756.04" stroke="#b00f24" stroke-width="0.6" fill="none"/>
<path d="M139.12,745.88H141.42M140.27,744.73V747.03" stroke="#b00f24" stroke-width="0.6" fill="none"/>
<path d="M139.33,752.31H141.63M140.48,751.16V753.46" stroke="#b00f24" stroke-width="0.6" fill="none"/>
<path d="M139.32,744.77H141.62M140.47,743.62V745.92" stroke="#b00f24" stroke-width="0.6" fill="none"/>
<path d="M139.57,748.45H141.87M140.72,747.30V749.60" stroke="#b00f24" stroke-width="0.6" fill="none"/>
<path d="M139.70,744.07H142.00M140.85,742.92V745.22" stroke="#b00f24" stroke-width="0.6" fill="none"/>
<path d="M139.46,752.31H141.76M140.61,751.16V753.46" stroke="#b00f24" stroke-width="0.6" fill="none"/>
<path d="M139.61,752.03H141.91M140.76,750.88V753.18" stroke="#b00f24" stroke-width="0.6" fill="none"/>
<path d="M139.44,760.70H141.74M140.59,759.55V761.85" stroke="#b00f24" stroke-width="0.6" fill="none"/>
<path d="M139.54,752.35H141.84M140.69,751.20V753.50" stroke="#b00f24" stroke-width="0.6" fill="none"/>
<path d="M139.34,761.56H141.64M140.49,760.41V762.71" stroke="#b00f24" stroke-width="0.6" fill="none"/>
<path d="M139.68,758.54H141.98M140.83,757.39V759.69" stroke="#b00f24" stroke-width="0.6" fill="none"/>
<path d="M139.24,752.01H141.54M140.39,750.86V753.16" stroke="#b00f24" stroke-width="0.6" fill="none"/>
<path d="M139.54,746.31H141.84M140.69,745.16V747.46" stroke="#b00f24" stroke-width="0.6" fill="none"/>
<path d="M139.68,757.11H141.98M140.83,755.96V758.26" stroke="#b00f24" stroke-width="0.6" fill="none"/>
<path d="M139.25,761.49H141.55M140.40,760.34V762.64" stroke="#b00f24" stroke-width="0.6" fill="none"/>
<path d="M139.26,745.20H141.56M140.41,744.05V746.35" stroke="#b00f24" stroke-width="0.6" fill="none"/>
<path d="M139.53,745.14H141.83M140.68,743.99V746.29" stroke="#b00f24" stroke-width="0.6" fill="none"/>
<path d="M139.64,761.60H141.94M140.79,760.45V762.75" stroke="#b00f24" stroke-width="0.6" fill="none"/>
<path d="M139.62,746.80H141.92M140.77,745.65V747.95" stroke="#b00f24" stroke-width="0.6" fill="none"/>
<path d="M139.36,748.23H141.66M140.51,747.08V749.38" stroke="#b00f24" stroke-width="0.6" fill="none"/>
<path d="M139.16,758.43H141.46M140.31,757.28V759.58" stroke="#b00f24" stroke-width="0.6" fill="none"/>
<path d="M139.61,742.82H141.91M140.76,741.67V743.97" stroke="#b00f24" stroke-width="0.6" fill="none"/>
<path d="M139.32,747.70H141.62M140.47,746.55V748.85" stroke="#b00f24" stroke-width="0.6" fill="none"/>
<path d="M139.51,754.78H141.81M140.66,753.63V755.93" stroke="#b00f24" stroke-width="0.6" fill="none"/>
<path d="M139.31,740.72H141.61M140.46,739.57V741.87" stroke="#b00f24" stroke-width="0.6" fill="none"/>
<path d="M139.40,751.25H141.70M140.55,750.10V752.40" stroke="#b00f24" stroke-width="0.6" fill="none"/>
<path d="M139.46,745.70H141.76M140.61,744.55V746.85" stroke="#b00f24" stroke-width="0.6" fill="none"/>
<path d="M139.34,763.98H141.64M140.49,762.83V765.13" stroke="#b00f24" stroke-width="0.6" fill="none"/>
<path d="M139.18,753.90H141.48M140.33,752.75V755.05" stroke="#b00f24" stroke-width="0.6" fill="none"/>
<path d="M139.50,747.29H141.80M140.65,746.14V748.44" stroke="#b00f24" stroke-width="0.6" fill="none"/>
<path d="M139.64,743.31H141.94M140.79,742.16V744.46" stroke="#b00f24" stroke-width="0.6" fill="none"/>
<path d="M139.16,762.84H141.46M140.31,761.69V763.99" stroke="#b00f24" stroke-width="0.6" fill="none"/>
<path d="M139.33,763.63H141.63M140.48,762.48V764.78" stroke="#b00f24" stroke-width="0.6" fill="none"/>
<path d="M139.56,759.49H141.86M140.71,758.34V760.64" stroke="#b00f24" stroke-width="0.6" fill="none"/>
<path d="M139.51,747.80H141.81M140.66,746.65V748.95" stroke="#b00f24" stroke-width="0.6" fill="none"/>
<path d="M139.59,756.59H141.89M140.74,755.44V757.74" stroke="#b00f24" stroke-width="0.6" fill="none"/>
<path d="M139.56,747.06H141.86M140.71,745.91V748.21" stroke="#b00f24" stroke-width="0.6" fill="none"/>
<path d="M139.51,764.12H141.81M140.66,762.97V765.27" stroke="#b00f24" stroke-width="0.6" fill="none"/>
<path d="M139.17,753.70H141.47M140.32,752.55V754.85" stroke="#b00f24" stroke-width="0.6" fill="none"/>
<path d="M139.32,752.66H141.62M140.47,751.51V753.81" stroke="#b00f24" stroke-width="0.6" fill="none"/>
<path d="M139.51,758.16H141.81M140.66,757.01V759.31" stroke="#b00f24" stroke-width="0.6" fill="none"/>
<path d="M139.21,754.44H141.51M140.36,753.29V755.59" stroke="#b00f24" stroke-width="0.6" fill="none"/>
<path d="M139.48,756.38H141.78M140.63,755.23V757.53" stroke="#b00f24" stroke-width="0.6" fill="none"/>
<path d="M139.64,744.94H141.94M140.79,743.79V746.09" stroke="#b00f24" stroke-width="0.6" fill="none"/>
<path d="M139.18,756.62H141.48M140.33,755.47V757.77" stroke="#b00f24" stroke-width="0.6" fill="none"/>
<path d="M139.19,763.40H141.49M140.34,762.25V764.55" stroke="#b00f24" stroke-width="0.6" fill="none"/>
<path d="M139.54,748.68H141.84M140.69,747.53V749.83" stroke="#b00f24" stroke-width="0.6" fill="none"/>
<path d="M139.44,755.20H141.74M140.59,754.05V756.35" stroke="#b00f24" stroke-width="0.6" fill="none"/>
<path d="M139.38,756.43H141.68M140.53,755.28V757.58" stroke="#b00f24" stroke-width="0.6" fill="none"/>
<path d="M139.21,748.21H141.51M140.36,747.06V749.36" stroke="#b00f24" stroke-width="0.6" fill="none"/>
<path d="M139.53,742.23H141.83M140.68,741.08V743.38" stroke="#b00f24" stroke-width="0.6" fill="none"/>
<path d="M139.43,759.05H141.73M140.58,757.90V760.20" stroke="#b00f24" stroke-width="0.6" fill="none"/>
<path d="M139.32,758.69H141.62M140.47,757.54V759.84" stroke="#b00f24" stroke-width="0.6" fill="none"/>
<path d="M139.33,747.07H141.63M140.48,745.92V748.22" stroke="#b00f24" stroke-width="0.6" fill="none"/>
<path d="M139.13,761.95H141.43M140.28,760.80V763.10" stroke="#b00f24" stroke-width="0.6" fill="none"/>
<path d="M139.25,752.93H141.55M140.40,751.78V754.08" stroke="#b00f24" stroke-width="0.6" fill="none"/>
<path d="M139.32,759.41H141.62M140.47,758.26V760.56" stroke="#b00f24" stroke-width="0.6" fill="none"/>
<path d="M139.35,748.71H141.65M140.50,747.56V749.86" stroke="#b00f24" stroke-width="0.6" fill="none"/>
<path d="M139.57,753.83H141.87M140.72,752.68V754.98" stroke="#b00f24" stroke-width="0.6" fill="none"/>
<path d="M139.61,749.20H141.91M140.76,748.05V750.35" stroke="#b00f24" stroke-width="0.6" fill="none"/>
<path d="M139.27,743.30H141.57M140.42,742.15V744.45" stroke="#b00f24" stroke-width="0.6" fill="none"/>
<path d="M139.17,742.99H141.47M140.32,741.84V744.14" stroke="#b00f24" stroke-width="0.6" fill="none"/>
<path d="M139.54,759.65H141.84M140.69,758.50V760.80" stroke="#b00f24" stroke-width="0.6" fill="none"/>
<path d="M139.22,745.08H141.52M140.37,743.93V746.23" stroke="#b00f24" stroke-width="0.6" fill="none"/>
<path d="M139.55,750.77H141.85M140.70,749.62V751.92" stroke="#b00f24" stroke-width="0.6" fill="none"/>
<path d="M139.55,760.55H141.85M140.70,759.40V761.70" stroke="#b00f24" stroke-width="0.6" fill="none"/>
<path d="M139.19,755.06H141.49M140.34,753.91V756.21" stroke="#b00f24" stroke-width="0.6" fill="none"/>
<path d="M139.22,750.32H141.52M140.37,749.17V751.47" stroke="#b00f24" stroke-width="0.6" fill="none"/>
<path d="M139.45,753.49H141.75M140.60,752.34V754.64" stroke="#b00f24" stroke-width="0.6" fill="none"/>
<path d="M139.25,745.50H141.55M140.40,744.35V746.65" stroke="#b00f24" stroke-width="0.6" fill="none"/>
<path d="M139.12,759.72H141.42M140.27,758.57V760.87" stroke="#b00f24" stroke-width="0.6" fill="none"/>
<path d="M139.64,760.25H141.94M140.79,759.10V761.40" stroke="#b00f24" stroke-width="0.6" fill="none"/>
<path d="M139.33,763.83H141.63M140.48,762.68V764.98" stroke="#b00f24" stroke-width="0.6" fill="none"/>
<path d="M139.45,754.10H141.75M140.60,752.95V755.25" stroke="#b00f24" stroke-width="0.6" fill="none"/>
<path d="M139.69,756.09H141.99M140.84,754.94V757.24" stroke="#b00f24" stroke-width="0.6" fill="none"/>
<path d="M139.28,757.39H141.58M140.43,756.24V758.54" stroke="#b00f24" stroke-width="0.6" fill="none"/>
<path d="M139.40,761.64H141.70M140.55,760.49V762.79" stroke="#b00f24" stroke-width="0.6" fill="none"/>
<path d="M139.54,755.30H141.84M140.69,754.15V756.45" stroke="#b00f24" stroke-width="0.6" fill="none"/>
<path d="M139.57,740.61H141.87M140.72,739.46V741.76" stroke="#b00f24" stroke-width="0.6" fill="none"/>
<path d="M139.40,756.78H141.70M140.55,755.63V757.93" stroke="#b00f24" stroke-width="0.6" fill="none"/>
<path d="M139.38,753.39H141.68M140.53,752.24V754.54" stroke="#b00f24" stroke-width="0.6" fill="none"/>
<path d="M139.42,745.29H141.72M140.57,744.14V746.44" stroke="#b00f24" stroke-width="0.6" fill="none"/>
<path d="M139.41,741.46H141.71M140.56,740.31V742.61" stroke="#b00f24" stroke-width="0.6" fill="none"/>
<path d="M139.35,767.12H141.75M140.55,765.92V768.32" stroke="#b00f24" stroke-width="0.65" fill="none"/>
<path d="M139.35,770.18H141.75M140.55,768.98V771.38" stroke="#b00f24" stroke-width="0.65" fill="none"/>
<path d="M139.35,773.25H141.75M140.55,772.05V774.45" stroke="#b00f24" stroke-width="0.65" fill="none"/>
<path d="M139.35,775.91H141.75M140.55,774.71V777.11" stroke="#b00f24" stroke-width="0.65" fill="none"/>
<path d="M139.35,778.77H141.75M140.55,777.57V779.97" stroke="#b00f24" stroke-width="0.65" fill="none"/>
<path d="M139.35,787.96H141.75M140.55,786.76V789.16" stroke="#b00f24" stroke-width="0.65" fill="none"/>
<path d="M139.35,793.07H141.75M140.55,791.87V794.27" stroke="#b00f24" stroke-width="0.65" fill="none"/>
<path d="M139.35,836.81H141.75M140.55,835.61V838.01" stroke="#b00f24" stroke-width="0.65" fill="none"/>
<rect x="47.90" y="723.80" width="123.50" height="167.90" fill="none" stroke="#000" stroke-width="1.4"/>
<line x1="45.10" y1="723.80" x2="47.90" y2="723.80" stroke="#000" stroke-width="1.2"/>
<text x="43.30" y="727.80" font-size="11.1" font-weight="bold" text-anchor="end" fill="#000">1000</text>
<line x1="46.30" y1="743.36" x2="47.90" y2="743.36" stroke="#000" stroke-width="0.8"/>
<line x1="46.30" y1="738.43" x2="47.90" y2="738.43" stroke="#000" stroke-width="0.8"/>
<line x1="46.30" y1="734.94" x2="47.90" y2="734.94" stroke="#000" stroke-width="0.8"/>
<line x1="46.30" y1="732.22" x2="47.90" y2="732.22" stroke="#000" stroke-width="0.8"/>
<line x1="46.30" y1="730.01" x2="47.90" y2="730.01" stroke="#000" stroke-width="0.8"/>
<line x1="46.30" y1="728.13" x2="47.90" y2="728.13" stroke="#000" stroke-width="0.8"/>
<line x1="46.30" y1="726.51" x2="47.90" y2="726.51" stroke="#000" stroke-width="0.8"/>
<line x1="46.30" y1="725.08" x2="47.90" y2="725.08" stroke="#000" stroke-width="0.8"/>
<line x1="45.10" y1="751.78" x2="47.90" y2="751.78" stroke="#000" stroke-width="1.2"/>
<text x="43.30" y="755.78" font-size="11.1" font-weight="bold" text-anchor="end" fill="#000">100</text>
<line x1="46.30" y1="771.34" x2="47.90" y2="771.34" stroke="#000" stroke-width="0.8"/>
<line x1="46.30" y1="766.42" x2="47.90" y2="766.42" stroke="#000" stroke-width="0.8"/>
<line x1="46.30" y1="762.92" x2="47.90" y2="762.92" stroke="#000" stroke-width="0.8"/>
<line x1="46.30" y1="760.21" x2="47.90" y2="760.21" stroke="#000" stroke-width="0.8"/>
<line x1="46.30" y1="757.99" x2="47.90" y2="757.99" stroke="#000" stroke-width="0.8"/>
<line x1="46.30" y1="756.12" x2="47.90" y2="756.12" stroke="#000" stroke-width="0.8"/>
<line x1="46.30" y1="754.50" x2="47.90" y2="754.50" stroke="#000" stroke-width="0.8"/>
<line x1="46.30" y1="753.06" x2="47.90" y2="753.06" stroke="#000" stroke-width="0.8"/>
<line x1="45.10" y1="779.77" x2="47.90" y2="779.77" stroke="#000" stroke-width="1.2"/>
<text x="43.30" y="783.77" font-size="11.1" font-weight="bold" text-anchor="end" fill="#000">10</text>
<line x1="46.30" y1="799.33" x2="47.90" y2="799.33" stroke="#000" stroke-width="0.8"/>
<line x1="46.30" y1="794.40" x2="47.90" y2="794.40" stroke="#000" stroke-width="0.8"/>
<line x1="46.30" y1="790.90" x2="47.90" y2="790.90" stroke="#000" stroke-width="0.8"/>
<line x1="46.30" y1="788.19" x2="47.90" y2="788.19" stroke="#000" stroke-width="0.8"/>
<line x1="46.30" y1="785.97" x2="47.90" y2="785.97" stroke="#000" stroke-width="0.8"/>
<line x1="46.30" y1="784.10" x2="47.90" y2="784.10" stroke="#000" stroke-width="0.8"/>
<line x1="46.30" y1="782.48" x2="47.90" y2="782.48" stroke="#000" stroke-width="0.8"/>
<line x1="46.30" y1="781.05" x2="47.90" y2="781.05" stroke="#000" stroke-width="0.8"/>
<line x1="45.10" y1="807.75" x2="47.90" y2="807.75" stroke="#000" stroke-width="1.2"/>
<text x="43.30" y="811.75" font-size="11.1" font-weight="bold" text-anchor="end" fill="#000">1</text>
<line x1="46.30" y1="827.31" x2="47.90" y2="827.31" stroke="#000" stroke-width="0.8"/>
<line x1="46.30" y1="822.38" x2="47.90" y2="822.38" stroke="#000" stroke-width="0.8"/>
<line x1="46.30" y1="818.89" x2="47.90" y2="818.89" stroke="#000" stroke-width="0.8"/>
<line x1="46.30" y1="816.17" x2="47.90" y2="816.17" stroke="#000" stroke-width="0.8"/>
<line x1="46.30" y1="813.96" x2="47.90" y2="813.96" stroke="#000" stroke-width="0.8"/>
<line x1="46.30" y1="812.08" x2="47.90" y2="812.08" stroke="#000" stroke-width="0.8"/>
<line x1="46.30" y1="810.46" x2="47.90" y2="810.46" stroke="#000" stroke-width="0.8"/>
<line x1="46.30" y1="809.03" x2="47.90" y2="809.03" stroke="#000" stroke-width="0.8"/>
<line x1="45.10" y1="835.73" x2="47.90" y2="835.73" stroke="#000" stroke-width="1.2"/>
<text x="43.30" y="839.73" font-size="11.1" font-weight="bold" text-anchor="end" fill="#000">0.1</text>
<line x1="46.30" y1="855.29" x2="47.90" y2="855.29" stroke="#000" stroke-width="0.8"/>
<line x1="46.30" y1="850.37" x2="47.90" y2="850.37" stroke="#000" stroke-width="0.8"/>
<line x1="46.30" y1="846.87" x2="47.90" y2="846.87" stroke="#000" stroke-width="0.8"/>
<line x1="46.30" y1="844.16" x2="47.90" y2="844.16" stroke="#000" stroke-width="0.8"/>
<line x1="46.30" y1="841.94" x2="47.90" y2="841.94" stroke="#000" stroke-width="0.8"/>
<line x1="46.30" y1="840.07" x2="47.90" y2="840.07" stroke="#000" stroke-width="0.8"/>
<line x1="46.30" y1="838.45" x2="47.90" y2="838.45" stroke="#000" stroke-width="0.8"/>
<line x1="46.30" y1="837.01" x2="47.90" y2="837.01" stroke="#000" stroke-width="0.8"/>
<line x1="45.10" y1="863.72" x2="47.90" y2="863.72" stroke="#000" stroke-width="1.2"/>
<text x="43.30" y="867.72" font-size="11.1" font-weight="bold" text-anchor="end" fill="#000">0.01</text>
<line x1="46.30" y1="883.28" x2="47.90" y2="883.28" stroke="#000" stroke-width="0.8"/>
<line x1="46.30" y1="878.35" x2="47.90" y2="878.35" stroke="#000" stroke-width="0.8"/>
<line x1="46.30" y1="874.85" x2="47.90" y2="874.85" stroke="#000" stroke-width="0.8"/>
<line x1="46.30" y1="872.14" x2="47.90" y2="872.14" stroke="#000" stroke-width="0.8"/>
<line x1="46.30" y1="869.92" x2="47.90" y2="869.92" stroke="#000" stroke-width="0.8"/>
<line x1="46.30" y1="868.05" x2="47.90" y2="868.05" stroke="#000" stroke-width="0.8"/>
<line x1="46.30" y1="866.43" x2="47.90" y2="866.43" stroke="#000" stroke-width="0.8"/>
<line x1="46.30" y1="865.00" x2="47.90" y2="865.00" stroke="#000" stroke-width="0.8"/>
<line x1="45.10" y1="891.70" x2="47.90" y2="891.70" stroke="#000" stroke-width="1.2"/>
<text x="43.30" y="895.70" font-size="11.1" font-weight="bold" text-anchor="end" fill="#000">0.001</text>
<line x1="79.24" y1="891.70" x2="79.24" y2="894.50" stroke="#000" stroke-width="1.2"/>
<line x1="140.55" y1="891.70" x2="140.55" y2="894.50" stroke="#000" stroke-width="1.2"/>
<text x="10.60" y="807.50" font-size="14.3" font-weight="bold" text-anchor="middle" fill="#000" transform="rotate(-90 10.60 807.50)">F.I. fold change</text>
<text x="51.20" y="737.10" font-size="13.4" font-weight="bold" text-anchor="start" fill="#12a84b">Lipid(NBD-PE)</text>
<text x="79.30" y="910.30" font-size="13.2" font-weight="bold" text-anchor="middle" fill="#000">LNP</text>
<text x="123.20" y="910.30" font-size="13.2" font-weight="bold" text-anchor="start" fill="#000">Q<tspan font-size="7.92" dy="2.64">II</tspan><tspan font-size="9.24" dy="-7.39">P, RNA</tspan></text>
<text x="190.50" y="715.00" font-size="18" font-weight="bold" text-anchor="start" fill="#000">j</text>
<path d="M267.64,864.47C267.59,863.13 267.68,859.61 267.36,856.42C267.03,853.23 266.53,848.80 265.69,845.33C264.86,841.86 263.61,838.49 262.36,835.62C261.12,832.75 259.36,830.30 258.20,828.13C257.05,825.96 255.94,824.25 255.43,822.58C254.92,820.92 254.83,819.58 255.15,818.15C255.48,816.71 256.08,815.37 257.37,813.99C258.67,812.60 261.07,811.44 262.92,809.82C264.77,808.21 266.94,806.13 268.47,804.28C269.99,802.43 271.10,800.44 272.07,798.73C273.04,797.02 273.64,795.40 274.29,794.01C274.94,792.63 275.68,791.01 275.96,790.41 L277.07,790.41C277.34,791.01 278.04,792.63 278.73,794.01C279.42,795.40 280.16,797.02 281.23,798.73C282.29,800.44 283.54,802.43 285.11,804.28C286.68,806.13 288.90,808.21 290.66,809.82C292.41,811.44 294.49,812.60 295.65,813.99C296.81,815.37 297.31,816.71 297.59,818.15C297.87,819.58 297.73,820.92 297.31,822.58C296.90,824.25 296.11,825.96 295.09,828.13C294.08,830.30 292.41,832.75 291.21,835.62C290.01,838.49 288.85,841.86 287.88,845.33C286.91,848.80 285.85,853.23 285.39,856.42C284.92,859.61 285.16,863.13 285.11,864.47Z" fill="#c2c2c2" stroke="#8c8c8c" stroke-width="0.7" stroke-linejoin="round"/>
<path d="M275.43,818.96H277.73M276.58,817.81V820.11" stroke="#8a8a8a" stroke-width="0.6" fill="none"/>
<path d="M275.54,826.09H277.84M276.69,824.94V827.24" stroke="#8a8a8a" stroke-width="0.6" fill="none"/>
<path d="M275.50,825.37H277.80M276.65,824.22V826.52" stroke="#8a8a8a" stroke-width="0.6" fill="none"/>
<path d="M275.08,809.16H277.38M276.23,808.01V810.31" stroke="#8a8a8a" stroke-width="0.6" fill="none"/>
<path d="M275.63,815.67H277.93M276.78,814.52V816.82" stroke="#8a8a8a" stroke-width="0.6" fill="none"/>
<path d="M275.60,796.65H277.90M276.75,795.50V797.80" stroke="#8a8a8a" stroke-width="0.6" fill="none"/>
<path d="M275.34,801.38H277.64M276.49,800.23V802.53" stroke="#8a8a8a" stroke-width="0.6" fill="none"/>
<path d="M275.39,813.00H277.69M276.54,811.85V814.15" stroke="#8a8a8a" stroke-width="0.6" fill="none"/>
<path d="M275.07,800.32H277.37M276.22,799.17V801.47" stroke="#8a8a8a" stroke-width="0.6" fill="none"/>
<path d="M275.23,825.16H277.53M276.38,824.01V826.31" stroke="#8a8a8a" stroke-width="0.6" fill="none"/>
<path d="M275.52,798.29H277.82M276.67,797.14V799.44" stroke="#8a8a8a" stroke-width="0.6" fill="none"/>
<path d="M275.54,797.55H277.84M276.69,796.40V798.70" stroke="#8a8a8a" stroke-width="0.6" fill="none"/>
<path d="M275.43,797.13H277.73M276.58,795.98V798.28" stroke="#8a8a8a" stroke-width="0.6" fill="none"/>
<path d="M275.06,823.57H277.36M276.21,822.42V824.72" stroke="#8a8a8a" stroke-width="0.6" fill="none"/>
<path d="M275.19,800.28H277.49M276.34,799.13V801.43" stroke="#8a8a8a" stroke-width="0.6" fill="none"/>
<path d="M275.65,823.60H277.95M276.80,822.45V824.75" stroke="#8a8a8a" stroke-width="0.6" fill="none"/>
<path d="M275.23,826.76H277.53M276.38,825.61V827.91" stroke="#8a8a8a" stroke-width="0.6" fill="none"/>
<path d="M275.38,816.69H277.68M276.53,815.54V817.84" stroke="#8a8a8a" stroke-width="0.6" fill="none"/>
<path d="M275.18,826.04H277.48M276.33,824.89V827.19" stroke="#8a8a8a" stroke-width="0.6" fill="none"/>
<path d="M275.48,826.94H277.78M276.63,825.79V828.09" stroke="#8a8a8a" stroke-width="0.6" fill="none"/>
<path d="M275.60,803.24H277.90M276.75,802.09V804.39" stroke="#8a8a8a" stroke-width="0.6" fill="none"/>
<path d="M275.28,798.52H277.58M276.43,797.37V799.67" stroke="#8a8a8a" stroke-width="0.6" fill="none"/>
<path d="M275.15,794.94H277.45M276.30,793.79V796.09" stroke="#8a8a8a" stroke-width="0.6" fill="none"/>
<path d="M275.24,814.04H277.54M276.39,812.89V815.19" stroke="#8a8a8a" stroke-width="0.6" fill="none"/>
<path d="M275.06,816.70H277.36M276.21,815.55V817.85" stroke="#8a8a8a" stroke-width="0.6" fill="none"/>
<path d="M275.26,803.63H277.56M276.41,802.48V804.78" stroke="#8a8a8a" stroke-width="0.6" fill="none"/>
<path d="M275.55,809.70H277.85M276.70,808.55V810.85" stroke="#8a8a8a" stroke-width="0.6" fill="none"/>
<path d="M275.25,809.71H277.55M276.40,808.56V810.86" stroke="#8a8a8a" stroke-width="0.6" fill="none"/>
<path d="M275.48,794.65H277.78M276.63,793.50V795.80" stroke="#8a8a8a" stroke-width="0.6" fill="none"/>
<path d="M275.65,793.44H277.95M276.80,792.29V794.59" stroke="#8a8a8a" stroke-width="0.6" fill="none"/>
<path d="M275.51,822.62H277.81M276.66,821.47V823.77" stroke="#8a8a8a" stroke-width="0.6" fill="none"/>
<path d="M275.07,820.60H277.37M276.22,819.45V821.75" stroke="#8a8a8a" stroke-width="0.6" fill="none"/>
<path d="M275.28,813.17H277.58M276.43,812.02V814.32" stroke="#8a8a8a" stroke-width="0.6" fill="none"/>
<path d="M275.07,794.29H277.37M276.22,793.14V795.44" stroke="#8a8a8a" stroke-width="0.6" fill="none"/>
<path d="M275.17,826.54H277.47M276.32,825.39V827.69" stroke="#8a8a8a" stroke-width="0.6" fill="none"/>
<path d="M275.18,819.46H277.48M276.33,818.31V820.61" stroke="#8a8a8a" stroke-width="0.6" fill="none"/>
<path d="M275.62,826.07H277.92M276.77,824.92V827.22" stroke="#8a8a8a" stroke-width="0.6" fill="none"/>
<path d="M275.27,805.22H277.57M276.42,804.07V806.37" stroke="#8a8a8a" stroke-width="0.6" fill="none"/>
<path d="M275.38,820.16H277.68M276.53,819.01V821.31" stroke="#8a8a8a" stroke-width="0.6" fill="none"/>
<path d="M275.13,819.20H277.43M276.28,818.05V820.35" stroke="#8a8a8a" stroke-width="0.6" fill="none"/>
<path d="M275.54,823.15H277.84M276.69,822.00V824.30" stroke="#8a8a8a" stroke-width="0.6" fill="none"/>
<path d="M275.08,826.21H277.38M276.23,825.06V827.36" stroke="#8a8a8a" stroke-width="0.6" fill="none"/>
<path d="M275.12,804.73H277.42M276.27,803.58V805.88" stroke="#8a8a8a" stroke-width="0.6" fill="none"/>
<path d="M275.43,825.22H277.73M276.58,824.07V826.37" stroke="#8a8a8a" stroke-width="0.6" fill="none"/>
<path d="M275.26,825.44H277.56M276.41,824.29V826.59" stroke="#8a8a8a" stroke-width="0.6" fill="none"/>
<path d="M275.39,803.72H277.69M276.54,802.57V804.87" stroke="#8a8a8a" stroke-width="0.6" fill="none"/>
<path d="M275.25,798.93H277.55M276.40,797.78V800.08" stroke="#8a8a8a" stroke-width="0.6" fill="none"/>
<path d="M275.11,797.91H277.41M276.26,796.76V799.06" stroke="#8a8a8a" stroke-width="0.6" fill="none"/>
<path d="M275.47,828.02H277.77M276.62,826.87V829.17" stroke="#8a8a8a" stroke-width="0.6" fill="none"/>
<path d="M275.16,794.35H277.46M276.31,793.20V795.50" stroke="#8a8a8a" stroke-width="0.6" fill="none"/>
<path d="M275.65,811.57H277.95M276.80,810.42V812.72" stroke="#8a8a8a" stroke-width="0.6" fill="none"/>
<path d="M275.30,801.05H277.60M276.45,799.90V802.20" stroke="#8a8a8a" stroke-width="0.6" fill="none"/>
<path d="M275.42,821.96H277.72M276.57,820.81V823.11" stroke="#8a8a8a" stroke-width="0.6" fill="none"/>
<path d="M275.33,807.60H277.63M276.48,806.45V808.75" stroke="#8a8a8a" stroke-width="0.6" fill="none"/>
<path d="M275.09,825.15H277.39M276.24,824.00V826.30" stroke="#8a8a8a" stroke-width="0.6" fill="none"/>
<path d="M275.08,810.15H277.38M276.23,809.00V811.30" stroke="#8a8a8a" stroke-width="0.6" fill="none"/>
<path d="M275.56,797.26H277.86M276.71,796.11V798.41" stroke="#8a8a8a" stroke-width="0.6" fill="none"/>
<path d="M275.50,826.35H277.80M276.65,825.20V827.50" stroke="#8a8a8a" stroke-width="0.6" fill="none"/>
<path d="M275.44,820.60H277.74M276.59,819.45V821.75" stroke="#8a8a8a" stroke-width="0.6" fill="none"/>
<path d="M275.12,808.06H277.42M276.27,806.91V809.21" stroke="#8a8a8a" stroke-width="0.6" fill="none"/>
<path d="M275.15,822.62H277.45M276.30,821.47V823.77" stroke="#8a8a8a" stroke-width="0.6" fill="none"/>
<path d="M275.24,808.72H277.54M276.39,807.57V809.87" stroke="#8a8a8a" stroke-width="0.6" fill="none"/>
<path d="M275.66,822.89H277.96M276.81,821.74V824.04" stroke="#8a8a8a" stroke-width="0.6" fill="none"/>
<path d="M275.65,808.73H277.95M276.80,807.58V809.88" stroke="#8a8a8a" stroke-width="0.6" fill="none"/>
<path d="M275.35,818.53H277.65M276.50,817.38V819.68" stroke="#8a8a8a" stroke-width="0.6" fill="none"/>
<path d="M275.35,802.96H277.65M276.50,801.81V804.11" stroke="#8a8a8a" stroke-width="0.6" fill="none"/>
<path d="M275.30,797.83H277.60M276.45,796.68V798.98" stroke="#8a8a8a" stroke-width="0.6" fill="none"/>
<path d="M275.29,827.72H277.59M276.44,826.57V828.87" stroke="#8a8a8a" stroke-width="0.6" fill="none"/>
<path d="M275.64,814.89H277.94M276.79,813.74V816.04" stroke="#8a8a8a" stroke-width="0.6" fill="none"/>
<path d="M275.36,804.64H277.66M276.51,803.49V805.79" stroke="#8a8a8a" stroke-width="0.6" fill="none"/>
<path d="M275.11,802.30H277.41M276.26,801.15V803.45" stroke="#8a8a8a" stroke-width="0.6" fill="none"/>
<path d="M275.53,823.42H277.83M276.68,822.27V824.57" stroke="#8a8a8a" stroke-width="0.6" fill="none"/>
<path d="M275.28,820.53H277.58M276.43,819.38V821.68" stroke="#8a8a8a" stroke-width="0.6" fill="none"/>
<path d="M275.53,817.29H277.83M276.68,816.14V818.44" stroke="#8a8a8a" stroke-width="0.6" fill="none"/>
<path d="M275.46,819.60H277.76M276.61,818.45V820.75" stroke="#8a8a8a" stroke-width="0.6" fill="none"/>
<path d="M275.28,817.64H277.58M276.43,816.49V818.79" stroke="#8a8a8a" stroke-width="0.6" fill="none"/>
<path d="M275.23,809.87H277.53M276.38,808.72V811.02" stroke="#8a8a8a" stroke-width="0.6" fill="none"/>
<path d="M275.52,817.16H277.82M276.67,816.01V818.31" stroke="#8a8a8a" stroke-width="0.6" fill="none"/>
<path d="M275.24,826.20H277.54M276.39,825.05V827.35" stroke="#8a8a8a" stroke-width="0.6" fill="none"/>
<path d="M275.45,813.24H277.75M276.60,812.09V814.39" stroke="#8a8a8a" stroke-width="0.6" fill="none"/>
<path d="M275.07,812.05H277.37M276.22,810.90V813.20" stroke="#8a8a8a" stroke-width="0.6" fill="none"/>
<path d="M275.21,816.47H277.51M276.36,815.32V817.62" stroke="#8a8a8a" stroke-width="0.6" fill="none"/>
<path d="M275.34,821.62H277.64M276.49,820.47V822.77" stroke="#8a8a8a" stroke-width="0.6" fill="none"/>
<path d="M275.45,820.95H277.75M276.60,819.80V822.10" stroke="#8a8a8a" stroke-width="0.6" fill="none"/>
<path d="M275.27,815.49H277.57M276.42,814.34V816.64" stroke="#8a8a8a" stroke-width="0.6" fill="none"/>
<path d="M275.50,822.03H277.80M276.65,820.88V823.18" stroke="#8a8a8a" stroke-width="0.6" fill="none"/>
<path d="M275.27,822.55H277.57M276.42,821.40V823.70" stroke="#8a8a8a" stroke-width="0.6" fill="none"/>
<path d="M275.58,817.07H277.88M276.73,815.92V818.22" stroke="#8a8a8a" stroke-width="0.6" fill="none"/>
<path d="M275.65,826.59H277.95M276.80,825.44V827.74" stroke="#8a8a8a" stroke-width="0.6" fill="none"/>
<path d="M275.37,811.42H277.67M276.52,810.27V812.57" stroke="#8a8a8a" stroke-width="0.6" fill="none"/>
<path d="M275.16,822.33H277.46M276.31,821.18V823.48" stroke="#8a8a8a" stroke-width="0.6" fill="none"/>
<path d="M275.62,809.57H277.92M276.77,808.42V810.72" stroke="#8a8a8a" stroke-width="0.6" fill="none"/>
<path d="M275.48,818.18H277.78M276.63,817.03V819.33" stroke="#8a8a8a" stroke-width="0.6" fill="none"/>
<path d="M275.50,798.73H277.80M276.65,797.58V799.88" stroke="#8a8a8a" stroke-width="0.6" fill="none"/>
<path d="M275.53,813.25H277.83M276.68,812.10V814.40" stroke="#8a8a8a" stroke-width="0.6" fill="none"/>
<path d="M275.46,807.57H277.76M276.61,806.42V808.72" stroke="#8a8a8a" stroke-width="0.6" fill="none"/>
<path d="M275.44,820.13H277.74M276.59,818.98V821.28" stroke="#8a8a8a" stroke-width="0.6" fill="none"/>
<path d="M275.44,818.21H277.74M276.59,817.06V819.36" stroke="#8a8a8a" stroke-width="0.6" fill="none"/>
<path d="M275.08,798.31H277.38M276.23,797.16V799.46" stroke="#8a8a8a" stroke-width="0.6" fill="none"/>
<path d="M275.33,815.71H277.63M276.48,814.56V816.86" stroke="#8a8a8a" stroke-width="0.6" fill="none"/>
<path d="M275.19,816.98H277.49M276.34,815.83V818.13" stroke="#8a8a8a" stroke-width="0.6" fill="none"/>
<path d="M275.44,794.11H277.74M276.59,792.96V795.26" stroke="#8a8a8a" stroke-width="0.6" fill="none"/>
<path d="M275.34,800.66H277.64M276.49,799.51V801.81" stroke="#8a8a8a" stroke-width="0.6" fill="none"/>
<path d="M275.09,797.37H277.39M276.24,796.22V798.52" stroke="#8a8a8a" stroke-width="0.6" fill="none"/>
<path d="M275.25,799.07H277.55M276.40,797.92V800.22" stroke="#8a8a8a" stroke-width="0.6" fill="none"/>
<path d="M275.18,793.89H277.48M276.33,792.74V795.04" stroke="#8a8a8a" stroke-width="0.6" fill="none"/>
<path d="M275.34,806.13H277.64M276.49,804.98V807.28" stroke="#8a8a8a" stroke-width="0.6" fill="none"/>
<path d="M275.43,813.58H277.73M276.58,812.43V814.73" stroke="#8a8a8a" stroke-width="0.6" fill="none"/>
<path d="M275.20,824.69H277.50M276.35,823.54V825.84" stroke="#8a8a8a" stroke-width="0.6" fill="none"/>
<path d="M275.06,807.02H277.36M276.21,805.87V808.17" stroke="#8a8a8a" stroke-width="0.6" fill="none"/>
<path d="M275.23,807.19H277.53M276.38,806.04V808.34" stroke="#8a8a8a" stroke-width="0.6" fill="none"/>
<path d="M275.13,822.14H277.43M276.28,820.99V823.29" stroke="#8a8a8a" stroke-width="0.6" fill="none"/>
<path d="M275.29,793.91H277.59M276.44,792.76V795.06" stroke="#8a8a8a" stroke-width="0.6" fill="none"/>
<path d="M275.43,795.99H277.73M276.58,794.84V797.14" stroke="#8a8a8a" stroke-width="0.6" fill="none"/>
<path d="M275.39,804.68H277.69M276.54,803.53V805.83" stroke="#8a8a8a" stroke-width="0.6" fill="none"/>
<path d="M275.41,826.65H277.71M276.56,825.50V827.80" stroke="#8a8a8a" stroke-width="0.6" fill="none"/>
<path d="M275.55,807.51H277.85M276.70,806.36V808.66" stroke="#8a8a8a" stroke-width="0.6" fill="none"/>
<path d="M275.55,815.43H277.85M276.70,814.28V816.58" stroke="#8a8a8a" stroke-width="0.6" fill="none"/>
<path d="M275.28,797.67H277.58M276.43,796.52V798.82" stroke="#8a8a8a" stroke-width="0.6" fill="none"/>
<path d="M275.42,812.65H277.72M276.57,811.50V813.80" stroke="#8a8a8a" stroke-width="0.6" fill="none"/>
<path d="M275.31,790.41H277.71M276.51,789.21V791.61" stroke="#8a8a8a" stroke-width="0.6" fill="none"/>
<path d="M329.68,864.47C329.63,862.20 329.68,855.45 329.40,850.88C329.12,846.30 328.52,841.17 328.01,837.01C327.51,832.85 326.95,829.61 326.35,825.91C325.75,822.21 325.06,818.28 324.41,814.82C323.76,811.35 322.88,807.79 322.47,805.11C322.05,802.43 321.82,800.72 321.91,798.73C322.00,796.74 322.28,794.89 323.02,793.18C323.76,791.47 325.10,790.04 326.35,788.47C327.60,786.90 329.26,785.28 330.51,783.75C331.76,782.23 332.91,780.70 333.84,779.31C334.76,777.93 335.46,776.54 336.06,775.43C336.66,774.32 337.21,773.12 337.45,772.66 L337.45,772.66C337.72,773.12 338.46,774.32 339.11,775.43C339.76,776.54 340.36,777.93 341.33,779.31C342.30,780.70 343.59,782.23 344.93,783.75C346.27,785.28 348.08,786.90 349.37,788.47C350.67,790.04 352.01,791.47 352.70,793.18C353.39,794.89 353.49,796.74 353.53,798.73C353.58,800.72 353.39,802.43 352.98,805.11C352.56,807.79 351.73,811.35 351.04,814.82C350.34,818.28 349.46,822.21 348.82,825.91C348.17,829.61 347.62,832.85 347.15,837.01C346.69,841.17 346.27,846.30 346.04,850.88C345.81,855.45 345.81,862.20 345.77,864.47Z" fill="#ed1b3a" stroke="#ed1b3a" stroke-width="0.5" stroke-linejoin="round"/>
<path d="M336.57,805.99H338.87M337.72,804.84V807.14" stroke="#b00f24" stroke-width="0.6" fill="none"/>
<path d="M336.36,785.63H338.66M337.51,784.48V786.78" stroke="#b00f24" stroke-width="0.6" fill="none"/>
<path d="M336.53,774.08H338.83M337.68,772.93V775.23" stroke="#b00f24" stroke-width="0.6" fill="none"/>
<path d="M336.06,792.72H338.36M337.21,791.57V793.87" stroke="#b00f24" stroke-width="0.6" fill="none"/>
<path d="M336.36,778.69H338.66M337.51,777.54V779.84" stroke="#b00f24" stroke-width="0.6" fill="none"/>
<path d="M336.37,803.46H338.67M337.52,802.31V804.61" stroke="#b00f24" stroke-width="0.6" fill="none"/>
<path d="M336.22,788.29H338.52M337.37,787.14V789.44" stroke="#b00f24" stroke-width="0.6" fill="none"/>
<path d="M336.13,783.67H338.43M337.28,782.52V784.82" stroke="#b00f24" stroke-width="0.6" fill="none"/>
<path d="M336.58,786.58H338.88M337.73,785.43V787.73" stroke="#b00f24" stroke-width="0.6" fill="none"/>
<path d="M336.57,804.20H338.87M337.72,803.05V805.35" stroke="#b00f24" stroke-width="0.6" fill="none"/>
<path d="M336.35,782.62H338.65M337.50,781.47V783.77" stroke="#b00f24" stroke-width="0.6" fill="none"/>
<path d="M336.58,790.43H338.88M337.73,789.28V791.58" stroke="#b00f24" stroke-width="0.6" fill="none"/>
<path d="M336.24,784.58H338.54M337.39,783.43V785.73" stroke="#b00f24" stroke-width="0.6" fill="none"/>
<path d="M336.59,790.28H338.89M337.74,789.13V791.43" stroke="#b00f24" stroke-width="0.6" fill="none"/>
<path d="M336.17,789.79H338.47M337.32,788.64V790.94" stroke="#b00f24" stroke-width="0.6" fill="none"/>
<path d="M336.07,794.56H338.37M337.22,793.41V795.71" stroke="#b00f24" stroke-width="0.6" fill="none"/>
<path d="M336.26,783.72H338.56M337.41,782.57V784.87" stroke="#b00f24" stroke-width="0.6" fill="none"/>
<path d="M336.46,801.33H338.76M337.61,800.18V802.48" stroke="#b00f24" stroke-width="0.6" fill="none"/>
<path d="M336.00,791.62H338.30M337.15,790.47V792.77" stroke="#b00f24" stroke-width="0.6" fill="none"/>
<path d="M336.16,804.91H338.46M337.31,803.76V806.06" stroke="#b00f24" stroke-width="0.6" fill="none"/>
<path d="M336.46,782.15H338.76M337.61,781.00V783.30" stroke="#b00f24" stroke-width="0.6" fill="none"/>
<path d="M336.16,779.15H338.46M337.31,778.00V780.30" stroke="#b00f24" stroke-width="0.6" fill="none"/>
<path d="M336.59,783.72H338.89M337.74,782.57V784.87" stroke="#b00f24" stroke-width="0.6" fill="none"/>
<path d="M336.36,789.71H338.66M337.51,788.56V790.86" stroke="#b00f24" stroke-width="0.6" fill="none"/>
<path d="M336.38,793.98H338.68M337.53,792.83V795.13" stroke="#b00f24" stroke-width="0.6" fill="none"/>
<path d="M336.44,777.94H338.74M337.59,776.79V779.09" stroke="#b00f24" stroke-width="0.6" fill="none"/>
<path d="M336.45,783.97H338.75M337.60,782.82V785.12" stroke="#b00f24" stroke-width="0.6" fill="none"/>
<path d="M336.32,785.14H338.62M337.47,783.99V786.29" stroke="#b00f24" stroke-width="0.6" fill="none"/>
<path d="M336.17,791.53H338.47M337.32,790.38V792.68" stroke="#b00f24" stroke-width="0.6" fill="none"/>
<path d="M336.27,785.96H338.57M337.42,784.81V787.11" stroke="#b00f24" stroke-width="0.6" fill="none"/>
<path d="M336.44,793.54H338.74M337.59,792.39V794.69" stroke="#b00f24" stroke-width="0.6" fill="none"/>
<path d="M336.02,782.38H338.32M337.17,781.23V783.53" stroke="#b00f24" stroke-width="0.6" fill="none"/>
<path d="M336.27,804.30H338.57M337.42,803.15V805.45" stroke="#b00f24" stroke-width="0.6" fill="none"/>
<path d="M336.53,792.05H338.83M337.68,790.90V793.20" stroke="#b00f24" stroke-width="0.6" fill="none"/>
<path d="M336.00,799.74H338.30M337.15,798.59V800.89" stroke="#b00f24" stroke-width="0.6" fill="none"/>
<path d="M336.25,793.04H338.55M337.40,791.89V794.19" stroke="#b00f24" stroke-width="0.6" fill="none"/>
<path d="M336.42,794.91H338.72M337.57,793.76V796.06" stroke="#b00f24" stroke-width="0.6" fill="none"/>
<path d="M336.28,804.14H338.58M337.43,802.99V805.29" stroke="#b00f24" stroke-width="0.6" fill="none"/>
<path d="M336.23,786.98H338.53M337.38,785.83V788.13" stroke="#b00f24" stroke-width="0.6" fill="none"/>
<path d="M336.51,780.53H338.81M337.66,779.38V781.68" stroke="#b00f24" stroke-width="0.6" fill="none"/>
<path d="M336.17,801.44H338.47M337.32,800.29V802.59" stroke="#b00f24" stroke-width="0.6" fill="none"/>
<path d="M336.03,801.65H338.33M337.18,800.50V802.80" stroke="#b00f24" stroke-width="0.6" fill="none"/>
<path d="M336.41,788.33H338.71M337.56,787.18V789.48" stroke="#b00f24" stroke-width="0.6" fill="none"/>
<path d="M336.17,799.81H338.47M337.32,798.66V800.96" stroke="#b00f24" stroke-width="0.6" fill="none"/>
<path d="M336.54,778.75H338.84M337.69,777.60V779.90" stroke="#b00f24" stroke-width="0.6" fill="none"/>
<path d="M336.28,792.17H338.58M337.43,791.02V793.32" stroke="#b00f24" stroke-width="0.6" fill="none"/>
<path d="M336.29,784.96H338.59M337.44,783.81V786.11" stroke="#b00f24" stroke-width="0.6" fill="none"/>
<path d="M336.09,793.38H338.39M337.24,792.23V794.53" stroke="#b00f24" stroke-width="0.6" fill="none"/>
<path d="M336.48,776.30H338.78M337.63,775.15V777.45" stroke="#b00f24" stroke-width="0.6" fill="none"/>
<path d="M336.13,801.10H338.43M337.28,799.95V802.25" stroke="#b00f24" stroke-width="0.6" fill="none"/>
<path d="M336.47,795.95H338.77M337.62,794.80V797.10" stroke="#b00f24" stroke-width="0.6" fill="none"/>
<path d="M336.01,797.89H338.31M337.16,796.74V799.04" stroke="#b00f24" stroke-width="0.6" fill="none"/>
<path d="M336.58,807.00H338.88M337.73,805.85V808.15" stroke="#b00f24" stroke-width="0.6" fill="none"/>
<path d="M336.42,775.66H338.72M337.57,774.51V776.81" stroke="#b00f24" stroke-width="0.6" fill="none"/>
<path d="M336.50,781.28H338.80M337.65,780.13V782.43" stroke="#b00f24" stroke-width="0.6" fill="none"/>
<path d="M336.38,805.47H338.68M337.53,804.32V806.62" stroke="#b00f24" stroke-width="0.6" fill="none"/>
<path d="M336.42,778.49H338.72M337.57,777.34V779.64" stroke="#b00f24" stroke-width="0.6" fill="none"/>
<path d="M336.17,804.34H338.47M337.32,803.19V805.49" stroke="#b00f24" stroke-width="0.6" fill="none"/>
<path d="M336.09,794.20H338.39M337.24,793.05V795.35" stroke="#b00f24" stroke-width="0.6" fill="none"/>
<path d="M336.24,779.36H338.54M337.39,778.21V780.51" stroke="#b00f24" stroke-width="0.6" fill="none"/>
<path d="M336.37,775.48H338.67M337.52,774.33V776.63" stroke="#b00f24" stroke-width="0.6" fill="none"/>
<path d="M336.06,786.56H338.36M337.21,785.41V787.71" stroke="#b00f24" stroke-width="0.6" fill="none"/>
<path d="M336.04,775.94H338.34M337.19,774.79V777.09" stroke="#b00f24" stroke-width="0.6" fill="none"/>
<path d="M336.34,798.55H338.64M337.49,797.40V799.70" stroke="#b00f24" stroke-width="0.6" fill="none"/>
<path d="M336.52,778.48H338.82M337.67,777.33V779.63" stroke="#b00f24" stroke-width="0.6" fill="none"/>
<path d="M336.25,784.43H338.55M337.40,783.28V785.58" stroke="#b00f24" stroke-width="0.6" fill="none"/>
<path d="M336.36,790.20H338.66M337.51,789.05V791.35" stroke="#b00f24" stroke-width="0.6" fill="none"/>
<path d="M336.56,786.40H338.86M337.71,785.25V787.55" stroke="#b00f24" stroke-width="0.6" fill="none"/>
<path d="M336.03,797.06H338.33M337.18,795.91V798.21" stroke="#b00f24" stroke-width="0.6" fill="none"/>
<path d="M336.09,794.88H338.39M337.24,793.73V796.03" stroke="#b00f24" stroke-width="0.6" fill="none"/>
<path d="M336.30,804.09H338.60M337.45,802.94V805.24" stroke="#b00f24" stroke-width="0.6" fill="none"/>
<path d="M336.33,794.54H338.63M337.48,793.39V795.69" stroke="#b00f24" stroke-width="0.6" fill="none"/>
<path d="M336.15,792.25H338.45M337.30,791.10V793.40" stroke="#b00f24" stroke-width="0.6" fill="none"/>
<path d="M336.15,798.82H338.45M337.30,797.67V799.97" stroke="#b00f24" stroke-width="0.6" fill="none"/>
<path d="M336.31,778.46H338.61M337.46,777.31V779.61" stroke="#b00f24" stroke-width="0.6" fill="none"/>
<path d="M336.14,786.30H338.44M337.29,785.15V787.45" stroke="#b00f24" stroke-width="0.6" fill="none"/>
<path d="M336.44,779.96H338.74M337.59,778.81V781.11" stroke="#b00f24" stroke-width="0.6" fill="none"/>
<path d="M336.42,795.66H338.72M337.57,794.51V796.81" stroke="#b00f24" stroke-width="0.6" fill="none"/>
<path d="M336.05,796.09H338.35M337.20,794.94V797.24" stroke="#b00f24" stroke-width="0.6" fill="none"/>
<path d="M336.05,778.16H338.35M337.20,777.01V779.31" stroke="#b00f24" stroke-width="0.6" fill="none"/>
<path d="M336.35,781.92H338.65M337.50,780.77V783.07" stroke="#b00f24" stroke-width="0.6" fill="none"/>
<path d="M336.52,789.90H338.82M337.67,788.75V791.05" stroke="#b00f24" stroke-width="0.6" fill="none"/>
<path d="M336.19,800.33H338.49M337.34,799.18V801.48" stroke="#b00f24" stroke-width="0.6" fill="none"/>
<path d="M336.01,797.97H338.31M337.16,796.82V799.12" stroke="#b00f24" stroke-width="0.6" fill="none"/>
<path d="M336.03,779.02H338.33M337.18,777.87V780.17" stroke="#b00f24" stroke-width="0.6" fill="none"/>
<path d="M336.57,796.53H338.87M337.72,795.38V797.68" stroke="#b00f24" stroke-width="0.6" fill="none"/>
<path d="M336.13,777.88H338.43M337.28,776.73V779.03" stroke="#b00f24" stroke-width="0.6" fill="none"/>
<path d="M336.58,796.00H338.88M337.73,794.85V797.15" stroke="#b00f24" stroke-width="0.6" fill="none"/>
<path d="M336.49,778.66H338.79M337.64,777.51V779.81" stroke="#b00f24" stroke-width="0.6" fill="none"/>
<path d="M336.37,785.74H338.67M337.52,784.59V786.89" stroke="#b00f24" stroke-width="0.6" fill="none"/>
<path d="M336.14,785.04H338.44M337.29,783.89V786.19" stroke="#b00f24" stroke-width="0.6" fill="none"/>
<path d="M336.36,785.55H338.66M337.51,784.40V786.70" stroke="#b00f24" stroke-width="0.6" fill="none"/>
<path d="M336.23,778.55H338.53M337.38,777.40V779.70" stroke="#b00f24" stroke-width="0.6" fill="none"/>
<path d="M336.49,795.43H338.79M337.64,794.28V796.58" stroke="#b00f24" stroke-width="0.6" fill="none"/>
<path d="M336.48,788.35H338.78M337.63,787.20V789.50" stroke="#b00f24" stroke-width="0.6" fill="none"/>
<path d="M336.51,791.12H338.81M337.66,789.97V792.27" stroke="#b00f24" stroke-width="0.6" fill="none"/>
<path d="M336.35,792.97H338.65M337.50,791.82V794.12" stroke="#b00f24" stroke-width="0.6" fill="none"/>
<path d="M336.44,787.10H338.74M337.59,785.95V788.25" stroke="#b00f24" stroke-width="0.6" fill="none"/>
<path d="M336.05,775.14H338.35M337.20,773.99V776.29" stroke="#b00f24" stroke-width="0.6" fill="none"/>
<path d="M336.12,775.35H338.42M337.27,774.20V776.50" stroke="#b00f24" stroke-width="0.6" fill="none"/>
<path d="M336.53,789.92H338.83M337.68,788.77V791.07" stroke="#b00f24" stroke-width="0.6" fill="none"/>
<path d="M336.45,774.06H338.75M337.60,772.91V775.21" stroke="#b00f24" stroke-width="0.6" fill="none"/>
<path d="M336.28,803.41H338.58M337.43,802.26V804.56" stroke="#b00f24" stroke-width="0.6" fill="none"/>
<path d="M336.37,788.19H338.67M337.52,787.04V789.34" stroke="#b00f24" stroke-width="0.6" fill="none"/>
<path d="M336.27,777.34H338.57M337.42,776.19V778.49" stroke="#b00f24" stroke-width="0.6" fill="none"/>
<path d="M336.09,779.29H338.39M337.24,778.14V780.44" stroke="#b00f24" stroke-width="0.6" fill="none"/>
<path d="M336.22,786.77H338.52M337.37,785.62V787.92" stroke="#b00f24" stroke-width="0.6" fill="none"/>
<path d="M336.52,779.06H338.82M337.67,777.91V780.21" stroke="#b00f24" stroke-width="0.6" fill="none"/>
<path d="M336.15,783.20H338.45M337.30,782.05V784.35" stroke="#b00f24" stroke-width="0.6" fill="none"/>
<path d="M336.09,783.52H338.39M337.24,782.37V784.67" stroke="#b00f24" stroke-width="0.6" fill="none"/>
<path d="M336.14,789.95H338.44M337.29,788.80V791.10" stroke="#b00f24" stroke-width="0.6" fill="none"/>
<path d="M336.01,804.56H338.31M337.16,803.41V805.71" stroke="#b00f24" stroke-width="0.6" fill="none"/>
<path d="M336.22,805.00H338.52M337.37,803.85V806.15" stroke="#b00f24" stroke-width="0.6" fill="none"/>
<path d="M336.41,796.28H338.71M337.56,795.13V797.43" stroke="#b00f24" stroke-width="0.6" fill="none"/>
<path d="M336.28,805.25H338.58M337.43,804.10V806.40" stroke="#b00f24" stroke-width="0.6" fill="none"/>
<path d="M336.07,796.11H338.37M337.22,794.96V797.26" stroke="#b00f24" stroke-width="0.6" fill="none"/>
<path d="M336.17,796.31H338.47M337.32,795.16V797.46" stroke="#b00f24" stroke-width="0.6" fill="none"/>
<path d="M336.43,779.43H338.73M337.58,778.28V780.58" stroke="#b00f24" stroke-width="0.6" fill="none"/>
<path d="M336.12,774.87H338.42M337.27,773.72V776.02" stroke="#b00f24" stroke-width="0.6" fill="none"/>
<path d="M336.13,776.63H338.43M337.28,775.48V777.78" stroke="#b00f24" stroke-width="0.6" fill="none"/>
<path d="M336.25,809.82H338.65M337.45,808.62V811.02" stroke="#b00f24" stroke-width="0.65" fill="none"/>
<path d="M336.25,814.26H338.65M337.45,813.06V815.46" stroke="#b00f24" stroke-width="0.65" fill="none"/>
<path d="M336.25,824.53H338.65M337.45,823.33V825.73" stroke="#b00f24" stroke-width="0.65" fill="none"/>
<path d="M336.25,832.29H338.65M337.45,831.09V833.49" stroke="#b00f24" stroke-width="0.65" fill="none"/>
<rect x="244.90" y="723.80" width="123.60" height="168.10" fill="none" stroke="#000" stroke-width="1.4"/>
<line x1="242.10" y1="723.80" x2="244.90" y2="723.80" stroke="#000" stroke-width="1.2"/>
<text x="240.30" y="727.80" font-size="11.1" font-weight="bold" text-anchor="end" fill="#000">1000</text>
<line x1="243.30" y1="743.38" x2="244.90" y2="743.38" stroke="#000" stroke-width="0.8"/>
<line x1="243.30" y1="738.45" x2="244.90" y2="738.45" stroke="#000" stroke-width="0.8"/>
<line x1="243.30" y1="734.95" x2="244.90" y2="734.95" stroke="#000" stroke-width="0.8"/>
<line x1="243.30" y1="732.23" x2="244.90" y2="732.23" stroke="#000" stroke-width="0.8"/>
<line x1="243.30" y1="730.02" x2="244.90" y2="730.02" stroke="#000" stroke-width="0.8"/>
<line x1="243.30" y1="728.14" x2="244.90" y2="728.14" stroke="#000" stroke-width="0.8"/>
<line x1="243.30" y1="726.52" x2="244.90" y2="726.52" stroke="#000" stroke-width="0.8"/>
<line x1="243.30" y1="725.08" x2="244.90" y2="725.08" stroke="#000" stroke-width="0.8"/>
<line x1="242.10" y1="751.82" x2="244.90" y2="751.82" stroke="#000" stroke-width="1.2"/>
<text x="240.30" y="755.82" font-size="11.1" font-weight="bold" text-anchor="end" fill="#000">100</text>
<line x1="243.30" y1="771.40" x2="244.90" y2="771.40" stroke="#000" stroke-width="0.8"/>
<line x1="243.30" y1="766.47" x2="244.90" y2="766.47" stroke="#000" stroke-width="0.8"/>
<line x1="243.30" y1="762.97" x2="244.90" y2="762.97" stroke="#000" stroke-width="0.8"/>
<line x1="243.30" y1="760.25" x2="244.90" y2="760.25" stroke="#000" stroke-width="0.8"/>
<line x1="243.30" y1="758.03" x2="244.90" y2="758.03" stroke="#000" stroke-width="0.8"/>
<line x1="243.30" y1="756.16" x2="244.90" y2="756.16" stroke="#000" stroke-width="0.8"/>
<line x1="243.30" y1="754.53" x2="244.90" y2="754.53" stroke="#000" stroke-width="0.8"/>
<line x1="243.30" y1="753.10" x2="244.90" y2="753.10" stroke="#000" stroke-width="0.8"/>
<line x1="242.10" y1="779.83" x2="244.90" y2="779.83" stroke="#000" stroke-width="1.2"/>
<text x="240.30" y="783.83" font-size="11.1" font-weight="bold" text-anchor="end" fill="#000">10</text>
<line x1="243.30" y1="799.42" x2="244.90" y2="799.42" stroke="#000" stroke-width="0.8"/>
<line x1="243.30" y1="794.48" x2="244.90" y2="794.48" stroke="#000" stroke-width="0.8"/>
<line x1="243.30" y1="790.98" x2="244.90" y2="790.98" stroke="#000" stroke-width="0.8"/>
<line x1="243.30" y1="788.27" x2="244.90" y2="788.27" stroke="#000" stroke-width="0.8"/>
<line x1="243.30" y1="786.05" x2="244.90" y2="786.05" stroke="#000" stroke-width="0.8"/>
<line x1="243.30" y1="784.17" x2="244.90" y2="784.17" stroke="#000" stroke-width="0.8"/>
<line x1="243.30" y1="782.55" x2="244.90" y2="782.55" stroke="#000" stroke-width="0.8"/>
<line x1="243.30" y1="781.12" x2="244.90" y2="781.12" stroke="#000" stroke-width="0.8"/>
<line x1="242.10" y1="807.85" x2="244.90" y2="807.85" stroke="#000" stroke-width="1.2"/>
<text x="240.30" y="811.85" font-size="11.1" font-weight="bold" text-anchor="end" fill="#000">1</text>
<line x1="243.30" y1="827.43" x2="244.90" y2="827.43" stroke="#000" stroke-width="0.8"/>
<line x1="243.30" y1="822.50" x2="244.90" y2="822.50" stroke="#000" stroke-width="0.8"/>
<line x1="243.30" y1="819.00" x2="244.90" y2="819.00" stroke="#000" stroke-width="0.8"/>
<line x1="243.30" y1="816.28" x2="244.90" y2="816.28" stroke="#000" stroke-width="0.8"/>
<line x1="243.30" y1="814.07" x2="244.90" y2="814.07" stroke="#000" stroke-width="0.8"/>
<line x1="243.30" y1="812.19" x2="244.90" y2="812.19" stroke="#000" stroke-width="0.8"/>
<line x1="243.30" y1="810.57" x2="244.90" y2="810.57" stroke="#000" stroke-width="0.8"/>
<line x1="243.30" y1="809.13" x2="244.90" y2="809.13" stroke="#000" stroke-width="0.8"/>
<line x1="242.10" y1="835.87" x2="244.90" y2="835.87" stroke="#000" stroke-width="1.2"/>
<text x="240.30" y="839.87" font-size="11.1" font-weight="bold" text-anchor="end" fill="#000">0.1</text>
<line x1="243.30" y1="855.45" x2="244.90" y2="855.45" stroke="#000" stroke-width="0.8"/>
<line x1="243.30" y1="850.52" x2="244.90" y2="850.52" stroke="#000" stroke-width="0.8"/>
<line x1="243.30" y1="847.02" x2="244.90" y2="847.02" stroke="#000" stroke-width="0.8"/>
<line x1="243.30" y1="844.30" x2="244.90" y2="844.30" stroke="#000" stroke-width="0.8"/>
<line x1="243.30" y1="842.08" x2="244.90" y2="842.08" stroke="#000" stroke-width="0.8"/>
<line x1="243.30" y1="840.21" x2="244.90" y2="840.21" stroke="#000" stroke-width="0.8"/>
<line x1="243.30" y1="838.58" x2="244.90" y2="838.58" stroke="#000" stroke-width="0.8"/>
<line x1="243.30" y1="837.15" x2="244.90" y2="837.15" stroke="#000" stroke-width="0.8"/>
<line x1="242.10" y1="863.88" x2="244.90" y2="863.88" stroke="#000" stroke-width="1.2"/>
<text x="240.30" y="867.88" font-size="11.1" font-weight="bold" text-anchor="end" fill="#000">0.01</text>
<line x1="243.30" y1="883.47" x2="244.90" y2="883.47" stroke="#000" stroke-width="0.8"/>
<line x1="243.30" y1="878.53" x2="244.90" y2="878.53" stroke="#000" stroke-width="0.8"/>
<line x1="243.30" y1="875.03" x2="244.90" y2="875.03" stroke="#000" stroke-width="0.8"/>
<line x1="243.30" y1="872.32" x2="244.90" y2="872.32" stroke="#000" stroke-width="0.8"/>
<line x1="243.30" y1="870.10" x2="244.90" y2="870.10" stroke="#000" stroke-width="0.8"/>
<line x1="243.30" y1="868.22" x2="244.90" y2="868.22" stroke="#000" stroke-width="0.8"/>
<line x1="243.30" y1="866.60" x2="244.90" y2="866.60" stroke="#000" stroke-width="0.8"/>
<line x1="243.30" y1="865.17" x2="244.90" y2="865.17" stroke="#000" stroke-width="0.8"/>
<line x1="242.10" y1="891.90" x2="244.90" y2="891.90" stroke="#000" stroke-width="1.2"/>
<text x="240.30" y="895.90" font-size="11.1" font-weight="bold" text-anchor="end" fill="#000">0.001</text>
<line x1="276.51" y1="891.90" x2="276.51" y2="894.70" stroke="#000" stroke-width="1.2"/>
<line x1="337.45" y1="891.90" x2="337.45" y2="894.70" stroke="#000" stroke-width="1.2"/>
<text x="208.20" y="807.50" font-size="14.3" font-weight="bold" text-anchor="middle" fill="#000" transform="rotate(-90 208.20 807.50)">F.I. fold change</text>
<text x="249.00" y="737.10" font-size="13.4" font-weight="bold" text-anchor="start" fill="#ee151f">mRNA (Cy5)</text>
<text x="276.40" y="910.30" font-size="13.2" font-weight="bold" text-anchor="middle" fill="#000">LNP</text>
<text x="319.00" y="910.30" font-size="13.2" font-weight="bold" text-anchor="start" fill="#000">Q<tspan font-size="7.92" dy="2.64">II</tspan><tspan font-size="9.24" dy="-7.39">P, RNA</tspan></text>
<text x="380.20" y="715.30" font-size="18" font-weight="bold" text-anchor="start" fill="#000">l</text>
<rect x="446.60" y="880.05" width="16.40" height="11.75" fill="#ed1b3a" stroke="#d4142f" stroke-width="0.6"/>
<line x1="455.00" y1="881.73" x2="455.00" y2="878.38" stroke="#c01028" stroke-width="0.8"/>
<line x1="452.40" y1="881.73" x2="457.60" y2="881.73" stroke="#c01028" stroke-width="0.8"/>
<line x1="452.40" y1="878.38" x2="457.60" y2="878.38" stroke="#c01028" stroke-width="0.8"/>
<circle cx="453.20" cy="879.55" r="1.15" fill="#c01028"/>
<circle cx="455.30" cy="881.56" r="1.15" fill="#c01028"/>
<circle cx="457.20" cy="879.89" r="1.15" fill="#c01028"/>
<rect x="477.10" y="790.00" width="16.80" height="101.80" fill="#ed1b3a" stroke="#d4142f" stroke-width="0.6"/>
<line x1="485.60" y1="791.34" x2="485.60" y2="788.66" stroke="#c01028" stroke-width="0.8"/>
<line x1="483.00" y1="791.34" x2="488.20" y2="791.34" stroke="#c01028" stroke-width="0.8"/>
<line x1="483.00" y1="788.66" x2="488.20" y2="788.66" stroke="#c01028" stroke-width="0.8"/>
<circle cx="483.80" cy="789.60" r="1.15" fill="#c01028"/>
<circle cx="485.90" cy="791.21" r="1.15" fill="#c01028"/>
<circle cx="487.80" cy="789.87" r="1.15" fill="#c01028"/>
<rect x="508.20" y="780.16" width="16.00" height="111.64" fill="#ed1b3a" stroke="#d4142f" stroke-width="0.6"/>
<line x1="516.10" y1="783.85" x2="516.10" y2="776.47" stroke="#c01028" stroke-width="0.8"/>
<line x1="513.50" y1="783.85" x2="518.70" y2="783.85" stroke="#c01028" stroke-width="0.8"/>
<line x1="513.50" y1="776.47" x2="518.70" y2="776.47" stroke="#c01028" stroke-width="0.8"/>
<circle cx="514.30" cy="779.05" r="1.15" fill="#c01028"/>
<circle cx="516.40" cy="783.48" r="1.15" fill="#c01028"/>
<circle cx="518.30" cy="779.79" r="1.15" fill="#c01028"/>
<rect x="439.90" y="724.00" width="92.00" height="167.80" fill="none" stroke="#000" stroke-width="1.4"/>
<line x1="437.10" y1="891.80" x2="439.90" y2="891.80" stroke="#000" stroke-width="1.2"/>
<text x="434.90" y="895.80" font-size="11.2" font-weight="bold" text-anchor="end" fill="#000">0</text>
<line x1="437.10" y1="835.87" x2="439.90" y2="835.87" stroke="#000" stroke-width="1.2"/>
<text x="434.90" y="839.87" font-size="11.2" font-weight="bold" text-anchor="end" fill="#000">5000</text>
<line x1="437.10" y1="779.93" x2="439.90" y2="779.93" stroke="#000" stroke-width="1.2"/>
<text x="434.90" y="783.93" font-size="11.2" font-weight="bold" text-anchor="end" fill="#000">10000</text>
<line x1="437.10" y1="724.00" x2="439.90" y2="724.00" stroke="#000" stroke-width="1.2"/>
<text x="434.90" y="728.00" font-size="11.2" font-weight="bold" text-anchor="end" fill="#000">15000</text>
<line x1="438.30" y1="863.83" x2="439.90" y2="863.83" stroke="#000" stroke-width="1.0"/>
<line x1="438.30" y1="807.90" x2="439.90" y2="807.90" stroke="#000" stroke-width="1.0"/>
<line x1="438.30" y1="751.97" x2="439.90" y2="751.97" stroke="#000" stroke-width="1.0"/>
<line x1="454.80" y1="891.80" x2="454.80" y2="894.60" stroke="#000" stroke-width="1.2"/>
<line x1="485.50" y1="891.80" x2="485.50" y2="894.60" stroke="#000" stroke-width="1.2"/>
<line x1="516.20" y1="891.80" x2="516.20" y2="894.60" stroke="#000" stroke-width="1.2"/>
<text x="398.50" y="807.50" font-size="14.3" font-weight="bold" text-anchor="middle" fill="#000" transform="rotate(-90 398.50 807.50)">Total GFP intensity</text>
<text x="497.90" y="744.60" font-size="17" font-weight="bold" text-anchor="middle" fill="#000">**</text>
<line x1="476.00" y1="743.40" x2="519.20" y2="743.40" stroke="#000" stroke-width="1.3"/>
<text font-size="13.4" font-weight="bold" text-anchor="middle" fill="#000" transform="translate(451.00 907.89) rotate(-45)" x="0" y="4.82">LNP</text>
<text font-size="13.4" font-weight="bold" text-anchor="middle" fill="#000" transform="translate(480.70 907.65) rotate(-45)" x="0" y="4.82">PEI</text>
<text font-size="12.8" font-weight="bold" text-anchor="end" fill="#000" transform="translate(527.50 902.50) rotate(-45)" x="0" y="0">Q<tspan font-size="7.68" dy="2.56">II</tspan><tspan font-size="8.70" dy="-7.17">P, RNA</tspan></text>
<text x="537.40" y="715.30" font-size="18" font-weight="bold" text-anchor="start" fill="#000">m</text>
<rect x="596.90" y="889.92" width="16.90" height="1.68" fill="#ed1b3a" stroke="#d4142f" stroke-width="0.6"/>
<circle cx="601.35" cy="889.32" r="1.15" fill="#c01028"/>
<circle cx="605.35" cy="889.32" r="1.15" fill="#c01028"/>
<circle cx="609.35" cy="889.32" r="1.15" fill="#c01028"/>
<rect x="627.70" y="888.80" width="16.60" height="2.80" fill="#ed1b3a" stroke="#d4142f" stroke-width="0.6"/>
<circle cx="632.00" cy="888.20" r="1.15" fill="#c01028"/>
<circle cx="636.00" cy="888.20" r="1.15" fill="#c01028"/>
<circle cx="640.00" cy="888.20" r="1.15" fill="#c01028"/>
<rect x="658.60" y="750.28" width="16.30" height="141.32" fill="#ed1b3a" stroke="#d4142f" stroke-width="0.6"/>
<line x1="666.75" y1="759.52" x2="666.75" y2="741.05" stroke="#c01028" stroke-width="0.8"/>
<line x1="663.15" y1="759.52" x2="670.35" y2="759.52" stroke="#c01028" stroke-width="0.8"/>
<line x1="663.15" y1="741.05" x2="670.35" y2="741.05" stroke="#c01028" stroke-width="0.8"/>
<circle cx="661.75" cy="744.13" r="1.2" fill="#c01028"/>
<circle cx="671.75" cy="744.69" r="1.2" fill="#c01028"/>
<circle cx="666.75" cy="763.72" r="1.2" fill="#c01028"/>
<rect x="589.90" y="723.70" width="92.50" height="167.90" fill="none" stroke="#000" stroke-width="1.4"/>
<line x1="587.10" y1="891.60" x2="589.90" y2="891.60" stroke="#000" stroke-width="1.2"/>
<text x="584.90" y="895.60" font-size="11.2" font-weight="bold" text-anchor="end" fill="#000">0</text>
<line x1="587.10" y1="835.63" x2="589.90" y2="835.63" stroke="#000" stroke-width="1.2"/>
<text x="584.90" y="839.63" font-size="11.2" font-weight="bold" text-anchor="end" fill="#000">10</text>
<line x1="587.10" y1="779.67" x2="589.90" y2="779.67" stroke="#000" stroke-width="1.2"/>
<text x="584.90" y="783.67" font-size="11.2" font-weight="bold" text-anchor="end" fill="#000">20</text>
<line x1="587.10" y1="723.70" x2="589.90" y2="723.70" stroke="#000" stroke-width="1.2"/>
<text x="584.90" y="727.70" font-size="11.2" font-weight="bold" text-anchor="end" fill="#000">30</text>
<line x1="588.30" y1="863.62" x2="589.90" y2="863.62" stroke="#000" stroke-width="1.0"/>
<line x1="588.30" y1="807.65" x2="589.90" y2="807.65" stroke="#000" stroke-width="1.0"/>
<line x1="588.30" y1="751.68" x2="589.90" y2="751.68" stroke="#000" stroke-width="1.0"/>
<line x1="605.35" y1="891.60" x2="605.35" y2="894.40" stroke="#000" stroke-width="1.2"/>
<line x1="636.00" y1="891.60" x2="636.00" y2="894.40" stroke="#000" stroke-width="1.2"/>
<line x1="666.75" y1="891.60" x2="666.75" y2="894.40" stroke="#000" stroke-width="1.2"/>
<text x="568.20" y="808.00" font-size="14.3" font-weight="bold" text-anchor="middle" fill="#000" transform="rotate(-90 568.20 808.00)">% GFP expression cells</text>
<text font-size="13.4" font-weight="bold" text-anchor="middle" fill="#000" transform="translate(598.50 909.09) rotate(-45)" x="0" y="4.82">LNP</text>
<text font-size="13.4" font-weight="bold" text-anchor="middle" fill="#000" transform="translate(629.50 907.65) rotate(-45)" x="0" y="4.82">PEI</text>
<text font-size="12.8" font-weight="bold" text-anchor="end" fill="#000" transform="translate(679.80 902.50) rotate(-45)" x="0" y="0">Q<tspan font-size="7.68" dy="2.56">II</tspan><tspan font-size="8.70" dy="-7.17">P, RNA</tspan></text>
</svg>
</body></html>
